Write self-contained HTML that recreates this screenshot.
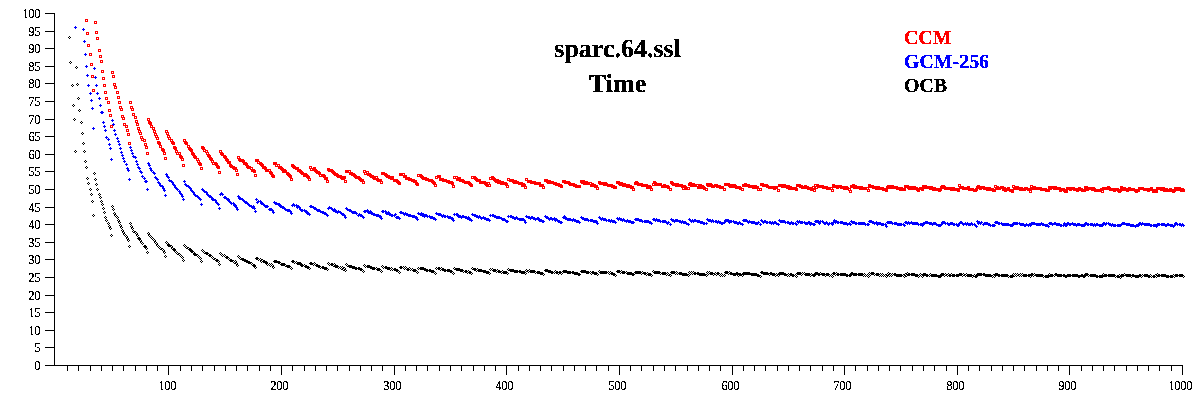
<!DOCTYPE html>
<html><head><meta charset="utf-8"><title>sparc.64.ssl Time</title>
<style>
html,body{margin:0;padding:0;background:#fff;}
body{width:1200px;height:400px;overflow:hidden;}
svg{display:block;}
.ax text{font-family:"Liberation Serif",serif;font-size:13.7px;text-rendering:geometricPrecision;fill:#000;stroke:#000;stroke-width:0.22px;}
.ttl{font-family:"Liberation Serif",serif;font-weight:bold;font-size:26px;fill:#000;stroke:#000;stroke-width:0.25px;text-rendering:geometricPrecision;}
.lg{font-family:"Liberation Serif",serif;font-weight:bold;font-size:19.9px;stroke-width:0.25px;text-rendering:geometricPrecision;}
</style></head><body>
<svg width="1200" height="400" viewBox="0 0 1200 400">
<defs><filter id="bin" filterUnits="userSpaceOnUse" x="0" y="0" width="1200" height="400" color-interpolation-filters="sRGB"><feComponentTransfer><feFuncA type="discrete" tableValues="0 1"/></feComponentTransfer></filter></defs>
<rect width="1200" height="400" fill="#fff"/>
<path d="M54 13h1v353h-1zM45 365h1138v1h-1138zM45 347h9v1h-9zM45 330h9v1h-9zM45 312h9v1h-9zM45 295h9v1h-9zM45 277h9v1h-9zM45 259h9v1h-9zM45 242h9v1h-9zM45 224h9v1h-9zM45 207h9v1h-9zM45 189h9v1h-9zM45 171h9v1h-9zM45 154h9v1h-9zM45 136h9v1h-9zM45 119h9v1h-9zM45 101h9v1h-9zM45 83h9v1h-9zM45 66h9v1h-9zM45 48h9v1h-9zM45 31h9v1h-9zM45 13h9v1h-9zM67 365h1v6h-1zM78 365h1v6h-1zM90 365h1v6h-1zM101 365h1v6h-1zM112 365h1v6h-1zM123 365h1v6h-1zM135 365h1v6h-1zM146 365h1v6h-1zM157 365h1v6h-1zM168 365h1v10h-1zM180 365h1v6h-1zM191 365h1v6h-1zM202 365h1v6h-1zM214 365h1v6h-1zM225 365h1v6h-1zM236 365h1v6h-1zM247 365h1v6h-1zM259 365h1v6h-1zM270 365h1v6h-1zM281 365h1v10h-1zM292 365h1v6h-1zM304 365h1v6h-1zM315 365h1v6h-1zM326 365h1v6h-1zM337 365h1v6h-1zM349 365h1v6h-1zM360 365h1v6h-1zM371 365h1v6h-1zM382 365h1v6h-1zM394 365h1v10h-1zM405 365h1v6h-1zM416 365h1v6h-1zM427 365h1v6h-1zM439 365h1v6h-1zM450 365h1v6h-1zM461 365h1v6h-1zM473 365h1v6h-1zM484 365h1v6h-1zM495 365h1v6h-1zM506 365h1v10h-1zM518 365h1v6h-1zM529 365h1v6h-1zM540 365h1v6h-1zM551 365h1v6h-1zM563 365h1v6h-1zM574 365h1v6h-1zM585 365h1v6h-1zM596 365h1v6h-1zM608 365h1v6h-1zM619 365h1v10h-1zM630 365h1v6h-1zM641 365h1v6h-1zM653 365h1v6h-1zM664 365h1v6h-1zM675 365h1v6h-1zM687 365h1v6h-1zM698 365h1v6h-1zM709 365h1v6h-1zM720 365h1v6h-1zM732 365h1v10h-1zM743 365h1v6h-1zM754 365h1v6h-1zM765 365h1v6h-1zM777 365h1v6h-1zM788 365h1v6h-1zM799 365h1v6h-1zM810 365h1v6h-1zM822 365h1v6h-1zM833 365h1v6h-1zM844 365h1v10h-1zM855 365h1v6h-1zM867 365h1v6h-1zM878 365h1v6h-1zM889 365h1v6h-1zM900 365h1v6h-1zM912 365h1v6h-1zM923 365h1v6h-1zM934 365h1v6h-1zM946 365h1v6h-1zM957 365h1v10h-1zM968 365h1v6h-1zM979 365h1v6h-1zM991 365h1v6h-1zM1002 365h1v6h-1zM1013 365h1v6h-1zM1024 365h1v6h-1zM1036 365h1v6h-1zM1047 365h1v6h-1zM1058 365h1v6h-1zM1069 365h1v10h-1zM1081 365h1v6h-1zM1092 365h1v6h-1zM1103 365h1v6h-1zM1114 365h1v6h-1zM1126 365h1v6h-1zM1137 365h1v6h-1zM1148 365h1v6h-1zM1159 365h1v6h-1zM1171 365h1v6h-1zM1182 365h1v10h-1z" fill="#000" shape-rendering="crispEdges"/>
<g class="ax" filter="url(#bin)">
<text transform="translate(34.58 370) scale(0.8759 1)">0</text><text transform="translate(34.58 352) scale(0.8759 1)">5</text><text transform="translate(28.58 335) scale(0.8759 1)">10</text><text transform="translate(28.58 317) scale(0.8759 1)">15</text><text transform="translate(28.58 300) scale(0.8759 1)">20</text><text transform="translate(28.58 282) scale(0.8759 1)">25</text><text transform="translate(28.58 264) scale(0.8759 1)">30</text><text transform="translate(28.58 247) scale(0.8759 1)">35</text><text transform="translate(28.58 229) scale(0.8759 1)">40</text><text transform="translate(28.58 212) scale(0.8759 1)">45</text><text transform="translate(28.58 194) scale(0.8759 1)">50</text><text transform="translate(28.58 176) scale(0.8759 1)">55</text><text transform="translate(28.58 159) scale(0.8759 1)">60</text><text transform="translate(28.58 141) scale(0.8759 1)">65</text><text transform="translate(28.58 124) scale(0.8759 1)">70</text><text transform="translate(28.58 106) scale(0.8759 1)">75</text><text transform="translate(28.58 88) scale(0.8759 1)">80</text><text transform="translate(28.58 71) scale(0.8759 1)">85</text><text transform="translate(28.58 53) scale(0.8759 1)">90</text><text transform="translate(28.58 36) scale(0.8759 1)">95</text><text transform="translate(22.58 18) scale(0.8759 1)">100</text>
<text transform="translate(158.58 390) scale(0.8759 1)">100</text><text transform="translate(270.58 390) scale(0.8759 1)">200</text><text transform="translate(383.58 390) scale(0.8759 1)">300</text><text transform="translate(495.58 390) scale(0.8759 1)">400</text><text transform="translate(608.58 390) scale(0.8759 1)">500</text><text transform="translate(721.58 390) scale(0.8759 1)">600</text><text transform="translate(833.58 390) scale(0.8759 1)">700</text><text transform="translate(946.58 390) scale(0.8759 1)">800</text><text transform="translate(1058.58 390) scale(0.8759 1)">900</text><text transform="translate(1168.58 390) scale(0.8759 1)">1000</text>
</g>
<path d="M69 36h1v1h-1zM68 37h1v1h-1zM70 37h1v1h-1zM69 38h1v1h-1zM70 61h1v1h-1zM69 62h1v1h-1zM71 62h1v1h-1zM70 63h1v1h-1zM72 84h1v1h-1zM71 85h1v1h-1zM73 85h1v1h-1zM72 86h1v1h-1zM73 104h1v1h-1zM72 105h1v1h-1zM74 105h1v1h-1zM73 106h1v1h-1zM74 118h1v1h-1zM73 119h1v1h-1zM75 119h1v1h-1zM74 120h1v1h-1zM75 150h1v1h-1zM74 151h1v1h-1zM76 151h1v1h-1zM75 152h1v1h-1zM76 66h1v1h-1zM75 67h1v1h-1zM77 67h1v1h-1zM76 68h1v1h-1zM77 83h1v1h-1zM76 84h1v1h-1zM78 84h1v1h-1zM77 85h1v1h-1zM78 97h1v1h-1zM77 98h1v1h-1zM79 98h1v1h-1zM78 99h1v1h-1zM79 109h1v1h-1zM78 110h1v1h-1zM80 110h1v1h-1zM79 111h1v1h-1zM81 121h1v1h-1zM80 122h1v1h-1zM82 122h1v1h-1zM81 123h1v1h-1zM82 132h1v1h-1zM81 133h1v1h-1zM83 133h1v1h-1zM82 134h1v1h-1zM83 142h1v1h-1zM82 143h1v1h-1zM84 143h1v1h-1zM83 144h1v1h-1zM84 150h1v1h-1zM83 151h1v1h-1zM85 151h1v1h-1zM84 152h1v1h-1zM85 160h1v1h-1zM84 161h1v1h-1zM86 161h1v1h-1zM85 162h1v1h-1zM86 166h1v1h-1zM85 167h1v1h-1zM87 167h1v1h-1zM86 168h1v1h-1zM87 177h1v1h-1zM86 178h1v1h-1zM88 178h1v1h-1zM87 179h1v1h-1zM88 182h1v1h-1zM87 183h1v1h-1zM89 183h1v1h-1zM88 184h1v1h-1zM90 188h1v1h-1zM89 189h1v1h-1zM91 189h1v1h-1zM90 190h1v1h-1zM91 193h1v1h-1zM90 194h1v1h-1zM92 194h1v1h-1zM91 195h1v1h-1zM92 200h1v1h-1zM91 201h1v1h-1zM93 201h1v1h-1zM92 202h1v1h-1zM93 214h1v1h-1zM92 215h1v1h-1zM94 215h1v1h-1zM93 216h1v1h-1zM94 172h1v1h-1zM93 173h1v1h-1zM95 173h1v1h-1zM94 174h1v1h-1zM95 178h1v1h-1zM94 179h1v1h-1zM96 179h1v1h-1zM95 180h1v1h-1zM96 183h1v1h-1zM95 184h1v1h-1zM97 184h1v1h-1zM96 185h1v1h-1zM97 188h1v1h-1zM96 189h1v1h-1zM98 189h1v1h-1zM97 190h1v1h-1zM99 193h1v1h-1zM98 194h1v1h-1zM100 194h1v1h-1zM99 195h1v1h-1zM100 196h1v1h-1zM99 197h1v1h-1zM101 197h1v1h-1zM100 198h1v1h-1zM101 200h1v1h-1zM100 201h1v1h-1zM102 201h1v1h-1zM101 202h1v1h-1zM102 203h1v1h-1zM101 204h1v1h-1zM103 204h1v1h-1zM102 205h1v1h-1zM103 207h1v1h-1zM102 208h1v1h-1zM104 208h1v1h-1zM103 209h1v1h-1zM104 211h1v1h-1zM103 212h1v1h-1zM105 212h1v1h-1zM104 213h1v1h-1zM105 216h1v1h-1zM104 217h1v1h-1zM106 217h1v1h-1zM105 218h1v1h-1zM106 219h1v1h-1zM105 220h1v1h-1zM107 220h1v1h-1zM106 221h1v1h-1zM108 222h1v1h-1zM107 223h1v1h-1zM109 223h1v1h-1zM108 224h1v1h-1zM109 225h1v1h-1zM108 226h1v1h-1zM110 226h1v1h-1zM109 227h1v1h-1zM110 227h1v1h-1zM109 228h1v1h-1zM111 228h1v1h-1zM110 229h1v1h-1zM111 234h1v1h-1zM110 235h1v1h-1zM112 235h1v1h-1zM111 236h1v1h-1zM112 205h1v1h-1zM111 206h1v1h-1zM113 206h1v1h-1zM112 207h1v1h-1zM113 208h1v1h-1zM112 209h1v1h-1zM114 209h1v1h-1zM113 210h1v1h-1zM114 212h1v1h-1zM113 213h1v1h-1zM115 213h1v1h-1zM114 214h1v1h-1zM115 214h1v1h-1zM114 215h1v1h-1zM116 215h1v1h-1zM115 216h1v1h-1zM117 216h1v1h-1zM116 217h1v1h-1zM118 217h1v1h-1zM117 218h1v1h-1zM118 219h1v1h-1zM117 220h1v1h-1zM119 220h1v1h-1zM118 221h1v1h-1zM119 221h1v1h-1zM118 222h1v1h-1zM120 222h1v1h-1zM119 223h1v1h-1zM120 224h1v1h-1zM119 225h1v1h-1zM121 225h1v1h-1zM120 226h1v1h-1zM121 226h1v1h-1zM120 227h1v1h-1zM122 227h1v1h-1zM121 228h1v1h-1zM122 229h1v1h-1zM121 230h1v1h-1zM123 230h1v1h-1zM122 231h1v1h-1zM123 231h1v1h-1zM122 232h1v1h-1zM124 232h1v1h-1zM123 233h1v1h-1zM124 233h1v1h-1zM123 234h1v1h-1zM125 234h1v1h-1zM124 235h1v1h-1zM126 235h1v1h-1zM125 236h1v1h-1zM127 236h1v1h-1zM126 237h1v1h-1zM127 237h1v1h-1zM126 238h1v1h-1zM128 238h1v1h-1zM127 239h1v1h-1zM128 239h1v1h-1zM127 240h1v1h-1zM129 240h1v1h-1zM128 241h1v1h-1zM129 245h1v1h-1zM128 246h1v1h-1zM130 246h1v1h-1zM129 247h1v1h-1zM130 222h1v1h-1zM129 223h1v1h-1zM131 223h1v1h-1zM130 224h1v1h-1zM131 225h1v1h-1zM130 226h1v1h-1zM132 226h1v1h-1zM131 227h1v1h-1zM132 227h1v1h-1zM131 228h1v1h-1zM133 228h1v1h-1zM132 229h1v1h-1zM133 230h1v1h-1zM132 231h1v1h-1zM134 231h1v1h-1zM133 232h1v1h-1zM135 231h1v1h-1zM134 232h1v1h-1zM136 232h1v1h-1zM135 233h1v1h-1zM136 232h1v1h-1zM135 233h1v1h-1zM137 233h1v1h-1zM136 234h1v1h-1zM137 234h1v1h-1zM136 235h1v1h-1zM138 235h1v1h-1zM137 236h1v1h-1zM138 237h1v1h-1zM137 238h1v1h-1zM139 238h1v1h-1zM138 239h1v1h-1zM139 237h1v1h-1zM138 238h1v1h-1zM140 238h1v1h-1zM139 239h1v1h-1zM140 239h1v1h-1zM139 240h1v1h-1zM141 240h1v1h-1zM140 241h1v1h-1zM141 241h1v1h-1zM140 242h1v1h-1zM142 242h1v1h-1zM141 243h1v1h-1zM142 242h1v1h-1zM141 243h1v1h-1zM143 243h1v1h-1zM142 244h1v1h-1zM144 245h1v1h-1zM143 246h1v1h-1zM145 246h1v1h-1zM144 247h1v1h-1zM145 245h1v1h-1zM144 246h1v1h-1zM146 246h1v1h-1zM145 247h1v1h-1zM146 247h1v1h-1zM145 248h1v1h-1zM147 248h1v1h-1zM146 249h1v1h-1zM147 251h1v1h-1zM146 252h1v1h-1zM148 252h1v1h-1zM147 253h1v1h-1zM148 232h1v1h-1zM147 233h1v1h-1zM149 233h1v1h-1zM148 234h1v1h-1zM149 234h1v1h-1zM148 235h1v1h-1zM150 235h1v1h-1zM149 236h1v1h-1zM150 235h1v1h-1zM149 236h1v1h-1zM151 236h1v1h-1zM150 237h1v1h-1zM151 236h1v1h-1zM150 237h1v1h-1zM152 237h1v1h-1zM151 238h1v1h-1zM153 238h1v1h-1zM152 239h1v1h-1zM154 239h1v1h-1zM153 240h1v1h-1zM154 239h1v1h-1zM153 240h1v1h-1zM155 240h1v1h-1zM154 241h1v1h-1zM155 241h1v1h-1zM154 242h1v1h-1zM156 242h1v1h-1zM155 243h1v1h-1zM156 242h1v1h-1zM155 243h1v1h-1zM157 243h1v1h-1zM156 244h1v1h-1zM157 244h1v1h-1zM156 245h1v1h-1zM158 245h1v1h-1zM157 246h1v1h-1zM158 245h1v1h-1zM157 246h1v1h-1zM159 246h1v1h-1zM158 247h1v1h-1zM159 246h1v1h-1zM158 247h1v1h-1zM160 247h1v1h-1zM159 248h1v1h-1zM160 247h1v1h-1zM159 248h1v1h-1zM161 248h1v1h-1zM160 249h1v1h-1zM162 248h1v1h-1zM161 249h1v1h-1zM163 249h1v1h-1zM162 250h1v1h-1zM163 249h1v1h-1zM162 250h1v1h-1zM164 250h1v1h-1zM163 251h1v1h-1zM164 251h1v1h-1zM163 252h1v1h-1zM165 252h1v1h-1zM164 253h1v1h-1zM165 255h1v1h-1zM164 256h1v1h-1zM166 256h1v1h-1zM165 257h1v1h-1zM166 241h1v1h-1zM165 242h1v1h-1zM167 242h1v1h-1zM166 243h1v1h-1zM167 242h1v1h-1zM166 243h1v1h-1zM168 243h1v1h-1zM167 244h1v1h-1zM168 244h1v1h-1zM167 245h1v1h-1zM169 245h1v1h-1zM168 246h1v1h-1zM169 244h1v1h-1zM168 245h1v1h-1zM170 245h1v1h-1zM169 246h1v1h-1zM171 245h1v1h-1zM170 246h1v1h-1zM172 246h1v1h-1zM171 247h1v1h-1zM172 247h1v1h-1zM171 248h1v1h-1zM173 248h1v1h-1zM172 249h1v1h-1zM173 248h1v1h-1zM172 249h1v1h-1zM174 249h1v1h-1zM173 250h1v1h-1zM174 248h1v1h-1zM173 249h1v1h-1zM175 249h1v1h-1zM174 250h1v1h-1zM175 250h1v1h-1zM174 251h1v1h-1zM176 251h1v1h-1zM175 252h1v1h-1zM176 251h1v1h-1zM175 252h1v1h-1zM177 252h1v1h-1zM176 253h1v1h-1zM177 252h1v1h-1zM176 253h1v1h-1zM178 253h1v1h-1zM177 254h1v1h-1zM179 253h1v1h-1zM178 254h1v1h-1zM180 254h1v1h-1zM179 255h1v1h-1zM180 254h1v1h-1zM179 255h1v1h-1zM181 255h1v1h-1zM180 256h1v1h-1zM181 255h1v1h-1zM180 256h1v1h-1zM182 256h1v1h-1zM181 257h1v1h-1zM182 256h1v1h-1zM181 257h1v1h-1zM183 257h1v1h-1zM182 258h1v1h-1zM183 259h1v1h-1zM182 260h1v1h-1zM184 260h1v1h-1zM183 261h1v1h-1zM184 244h1v1h-1zM183 245h1v1h-1zM185 245h1v1h-1zM184 246h1v1h-1zM185 245h1v1h-1zM184 246h1v1h-1zM186 246h1v1h-1zM185 247h1v1h-1zM186 246h1v1h-1zM185 247h1v1h-1zM187 247h1v1h-1zM186 248h1v1h-1zM188 247h1v1h-1zM187 248h1v1h-1zM189 248h1v1h-1zM188 249h1v1h-1zM189 248h1v1h-1zM188 249h1v1h-1zM190 249h1v1h-1zM189 250h1v1h-1zM190 248h1v1h-1zM189 249h1v1h-1zM191 249h1v1h-1zM190 250h1v1h-1zM191 250h1v1h-1zM190 251h1v1h-1zM192 251h1v1h-1zM191 252h1v1h-1zM192 250h1v1h-1zM191 251h1v1h-1zM193 251h1v1h-1zM192 252h1v1h-1zM193 251h1v1h-1zM192 252h1v1h-1zM194 252h1v1h-1zM193 253h1v1h-1zM194 253h1v1h-1zM193 254h1v1h-1zM195 254h1v1h-1zM194 255h1v1h-1zM195 253h1v1h-1zM194 254h1v1h-1zM196 254h1v1h-1zM195 255h1v1h-1zM197 254h1v1h-1zM196 255h1v1h-1zM198 255h1v1h-1zM197 256h1v1h-1zM198 255h1v1h-1zM197 256h1v1h-1zM199 256h1v1h-1zM198 257h1v1h-1zM199 256h1v1h-1zM198 257h1v1h-1zM200 257h1v1h-1zM199 258h1v1h-1zM200 257h1v1h-1zM199 258h1v1h-1zM201 258h1v1h-1zM200 259h1v1h-1zM201 260h1v1h-1zM200 261h1v1h-1zM202 261h1v1h-1zM201 262h1v1h-1zM202 249h1v1h-1zM201 250h1v1h-1zM203 250h1v1h-1zM202 251h1v1h-1zM203 250h1v1h-1zM202 251h1v1h-1zM204 251h1v1h-1zM203 252h1v1h-1zM204 251h1v1h-1zM203 252h1v1h-1zM205 252h1v1h-1zM204 253h1v1h-1zM206 252h1v1h-1zM205 253h1v1h-1zM207 253h1v1h-1zM206 254h1v1h-1zM207 252h1v1h-1zM206 253h1v1h-1zM208 253h1v1h-1zM207 254h1v1h-1zM208 253h1v1h-1zM207 254h1v1h-1zM209 254h1v1h-1zM208 255h1v1h-1zM209 254h1v1h-1zM208 255h1v1h-1zM210 255h1v1h-1zM209 256h1v1h-1zM210 254h1v1h-1zM209 255h1v1h-1zM211 255h1v1h-1zM210 256h1v1h-1zM211 255h1v1h-1zM210 256h1v1h-1zM212 256h1v1h-1zM211 257h1v1h-1zM212 256h1v1h-1zM211 257h1v1h-1zM213 257h1v1h-1zM212 258h1v1h-1zM213 257h1v1h-1zM212 258h1v1h-1zM214 258h1v1h-1zM213 259h1v1h-1zM215 258h1v1h-1zM214 259h1v1h-1zM216 259h1v1h-1zM215 260h1v1h-1zM216 259h1v1h-1zM215 260h1v1h-1zM217 260h1v1h-1zM216 261h1v1h-1zM217 259h1v1h-1zM216 260h1v1h-1zM218 260h1v1h-1zM217 261h1v1h-1zM218 260h1v1h-1zM217 261h1v1h-1zM219 261h1v1h-1zM218 262h1v1h-1zM219 263h1v1h-1zM218 264h1v1h-1zM220 264h1v1h-1zM219 265h1v1h-1zM220 252h1v1h-1zM219 253h1v1h-1zM221 253h1v1h-1zM220 254h1v1h-1zM221 253h1v1h-1zM220 254h1v1h-1zM222 254h1v1h-1zM221 255h1v1h-1zM222 254h1v1h-1zM221 255h1v1h-1zM223 255h1v1h-1zM222 256h1v1h-1zM224 254h1v1h-1zM223 255h1v1h-1zM225 255h1v1h-1zM224 256h1v1h-1zM225 255h1v1h-1zM224 256h1v1h-1zM226 256h1v1h-1zM225 257h1v1h-1zM226 256h1v1h-1zM225 257h1v1h-1zM227 257h1v1h-1zM226 258h1v1h-1zM227 256h1v1h-1zM226 257h1v1h-1zM228 257h1v1h-1zM227 258h1v1h-1zM228 257h1v1h-1zM227 258h1v1h-1zM229 258h1v1h-1zM228 259h1v1h-1zM229 258h1v1h-1zM228 259h1v1h-1zM230 259h1v1h-1zM229 260h1v1h-1zM230 259h1v1h-1zM229 260h1v1h-1zM231 260h1v1h-1zM230 261h1v1h-1zM231 259h1v1h-1zM230 260h1v1h-1zM232 260h1v1h-1zM231 261h1v1h-1zM233 260h1v1h-1zM232 261h1v1h-1zM234 261h1v1h-1zM233 262h1v1h-1zM234 261h1v1h-1zM233 262h1v1h-1zM235 262h1v1h-1zM234 263h1v1h-1zM235 260h1v1h-1zM234 261h1v1h-1zM236 261h1v1h-1zM235 262h1v1h-1zM236 262h1v1h-1zM235 263h1v1h-1zM237 263h1v1h-1zM236 264h1v1h-1zM237 264h1v1h-1zM236 265h1v1h-1zM238 265h1v1h-1zM237 266h1v1h-1zM238 255h1v1h-1zM237 256h1v1h-1zM239 256h1v1h-1zM238 257h1v1h-1zM239 256h1v1h-1zM238 257h1v1h-1zM240 257h1v1h-1zM239 258h1v1h-1zM240 257h1v1h-1zM239 258h1v1h-1zM241 258h1v1h-1zM240 259h1v1h-1zM242 258h1v1h-1zM241 259h1v1h-1zM243 259h1v1h-1zM242 260h1v1h-1zM243 258h1v1h-1zM242 259h1v1h-1zM244 259h1v1h-1zM243 260h1v1h-1zM244 259h1v1h-1zM243 260h1v1h-1zM245 260h1v1h-1zM244 261h1v1h-1zM245 259h1v1h-1zM244 260h1v1h-1zM246 260h1v1h-1zM245 261h1v1h-1zM246 260h1v1h-1zM245 261h1v1h-1zM247 261h1v1h-1zM246 262h1v1h-1zM247 260h1v1h-1zM246 261h1v1h-1zM248 261h1v1h-1zM247 262h1v1h-1zM248 261h1v1h-1zM247 262h1v1h-1zM249 262h1v1h-1zM248 263h1v1h-1zM249 261h1v1h-1zM248 262h1v1h-1zM250 262h1v1h-1zM249 263h1v1h-1zM251 262h1v1h-1zM250 263h1v1h-1zM252 263h1v1h-1zM251 264h1v1h-1zM252 263h1v1h-1zM251 264h1v1h-1zM253 264h1v1h-1zM252 265h1v1h-1zM253 264h1v1h-1zM252 265h1v1h-1zM254 265h1v1h-1zM253 266h1v1h-1zM254 264h1v1h-1zM253 265h1v1h-1zM255 265h1v1h-1zM254 266h1v1h-1zM255 266h1v1h-1zM254 267h1v1h-1zM256 267h1v1h-1zM255 268h1v1h-1zM256 257h1v1h-1zM255 258h1v1h-1zM257 258h1v1h-1zM256 259h1v1h-1zM257 257h1v1h-1zM256 258h1v1h-1zM258 258h1v1h-1zM257 259h1v1h-1zM258 258h1v1h-1zM257 259h1v1h-1zM259 259h1v1h-1zM258 260h1v1h-1zM260 258h1v1h-1zM259 259h1v1h-1zM261 259h1v1h-1zM260 260h1v1h-1zM261 260h1v1h-1zM260 261h1v1h-1zM262 261h1v1h-1zM261 262h1v1h-1zM262 259h1v1h-1zM261 260h1v1h-1zM263 260h1v1h-1zM262 261h1v1h-1zM263 260h1v1h-1zM262 261h1v1h-1zM264 261h1v1h-1zM263 262h1v1h-1zM264 260h1v1h-1zM263 261h1v1h-1zM265 261h1v1h-1zM264 262h1v1h-1zM265 261h1v1h-1zM264 262h1v1h-1zM266 262h1v1h-1zM265 263h1v1h-1zM266 261h1v1h-1zM265 262h1v1h-1zM267 262h1v1h-1zM266 263h1v1h-1zM267 263h1v1h-1zM266 264h1v1h-1zM268 264h1v1h-1zM267 265h1v1h-1zM269 263h1v1h-1zM268 264h1v1h-1zM270 264h1v1h-1zM269 265h1v1h-1zM270 264h1v1h-1zM269 265h1v1h-1zM271 265h1v1h-1zM270 266h1v1h-1zM271 263h1v1h-1zM270 264h1v1h-1zM272 264h1v1h-1zM271 265h1v1h-1zM272 264h1v1h-1zM271 265h1v1h-1zM273 265h1v1h-1zM272 266h1v1h-1zM273 266h1v1h-1zM272 267h1v1h-1zM274 267h1v1h-1zM273 268h1v1h-1zM274 260h1v1h-1zM273 261h1v1h-1zM275 261h1v1h-1zM274 262h1v1h-1zM275 260h1v1h-1zM274 261h1v1h-1zM276 261h1v1h-1zM275 262h1v1h-1zM276 260h1v1h-1zM275 261h1v1h-1zM277 261h1v1h-1zM276 262h1v1h-1zM278 261h1v1h-1zM277 262h1v1h-1zM279 262h1v1h-1zM278 263h1v1h-1zM279 261h1v1h-1zM278 262h1v1h-1zM280 262h1v1h-1zM279 263h1v1h-1zM280 262h1v1h-1zM279 263h1v1h-1zM281 263h1v1h-1zM280 264h1v1h-1zM281 263h1v1h-1zM280 264h1v1h-1zM282 264h1v1h-1zM281 265h1v1h-1zM282 263h1v1h-1zM281 264h1v1h-1zM283 264h1v1h-1zM282 265h1v1h-1zM283 263h1v1h-1zM282 264h1v1h-1zM284 264h1v1h-1zM283 265h1v1h-1zM284 263h1v1h-1zM283 264h1v1h-1zM285 264h1v1h-1zM284 265h1v1h-1zM285 264h1v1h-1zM284 265h1v1h-1zM286 265h1v1h-1zM285 266h1v1h-1zM287 265h1v1h-1zM286 266h1v1h-1zM288 266h1v1h-1zM287 267h1v1h-1zM288 265h1v1h-1zM287 266h1v1h-1zM289 266h1v1h-1zM288 267h1v1h-1zM289 265h1v1h-1zM288 266h1v1h-1zM290 266h1v1h-1zM289 267h1v1h-1zM290 266h1v1h-1zM289 267h1v1h-1zM291 267h1v1h-1zM290 268h1v1h-1zM291 267h1v1h-1zM290 268h1v1h-1zM292 268h1v1h-1zM291 269h1v1h-1zM292 260h1v1h-1zM291 261h1v1h-1zM293 261h1v1h-1zM292 262h1v1h-1zM293 260h1v1h-1zM292 261h1v1h-1zM294 261h1v1h-1zM293 262h1v1h-1zM294 261h1v1h-1zM293 262h1v1h-1zM295 262h1v1h-1zM294 263h1v1h-1zM296 261h1v1h-1zM295 262h1v1h-1zM297 262h1v1h-1zM296 263h1v1h-1zM297 262h1v1h-1zM296 263h1v1h-1zM298 263h1v1h-1zM297 264h1v1h-1zM298 262h1v1h-1zM297 263h1v1h-1zM299 263h1v1h-1zM298 264h1v1h-1zM299 262h1v1h-1zM298 263h1v1h-1zM300 263h1v1h-1zM299 264h1v1h-1zM300 262h1v1h-1zM299 263h1v1h-1zM301 263h1v1h-1zM300 264h1v1h-1zM301 264h1v1h-1zM300 265h1v1h-1zM302 265h1v1h-1zM301 266h1v1h-1zM302 264h1v1h-1zM301 265h1v1h-1zM303 265h1v1h-1zM302 266h1v1h-1zM304 264h1v1h-1zM303 265h1v1h-1zM305 265h1v1h-1zM304 266h1v1h-1zM305 265h1v1h-1zM304 266h1v1h-1zM306 266h1v1h-1zM305 267h1v1h-1zM306 265h1v1h-1zM305 266h1v1h-1zM307 266h1v1h-1zM306 267h1v1h-1zM307 266h1v1h-1zM306 267h1v1h-1zM308 267h1v1h-1zM307 268h1v1h-1zM308 266h1v1h-1zM307 267h1v1h-1zM309 267h1v1h-1zM308 268h1v1h-1zM309 267h1v1h-1zM308 268h1v1h-1zM310 268h1v1h-1zM309 269h1v1h-1zM310 262h1v1h-1zM309 263h1v1h-1zM311 263h1v1h-1zM310 264h1v1h-1zM311 262h1v1h-1zM310 263h1v1h-1zM312 263h1v1h-1zM311 264h1v1h-1zM313 263h1v1h-1zM312 264h1v1h-1zM314 264h1v1h-1zM313 265h1v1h-1zM314 262h1v1h-1zM313 263h1v1h-1zM315 263h1v1h-1zM314 264h1v1h-1zM315 263h1v1h-1zM314 264h1v1h-1zM316 264h1v1h-1zM315 265h1v1h-1zM316 264h1v1h-1zM315 265h1v1h-1zM317 265h1v1h-1zM316 266h1v1h-1zM317 264h1v1h-1zM316 265h1v1h-1zM318 265h1v1h-1zM317 266h1v1h-1zM318 265h1v1h-1zM317 266h1v1h-1zM319 266h1v1h-1zM318 267h1v1h-1zM319 265h1v1h-1zM318 266h1v1h-1zM320 266h1v1h-1zM319 267h1v1h-1zM320 266h1v1h-1zM319 267h1v1h-1zM321 267h1v1h-1zM320 268h1v1h-1zM322 266h1v1h-1zM321 267h1v1h-1zM323 267h1v1h-1zM322 268h1v1h-1zM323 266h1v1h-1zM322 267h1v1h-1zM324 267h1v1h-1zM323 268h1v1h-1zM324 267h1v1h-1zM323 268h1v1h-1zM325 268h1v1h-1zM324 269h1v1h-1zM325 267h1v1h-1zM324 268h1v1h-1zM326 268h1v1h-1zM325 269h1v1h-1zM326 267h1v1h-1zM325 268h1v1h-1zM327 268h1v1h-1zM326 269h1v1h-1zM327 268h1v1h-1zM326 269h1v1h-1zM328 269h1v1h-1zM327 270h1v1h-1zM328 262h1v1h-1zM327 263h1v1h-1zM329 263h1v1h-1zM328 264h1v1h-1zM329 263h1v1h-1zM328 264h1v1h-1zM330 264h1v1h-1zM329 265h1v1h-1zM331 263h1v1h-1zM330 264h1v1h-1zM332 264h1v1h-1zM331 265h1v1h-1zM332 263h1v1h-1zM331 264h1v1h-1zM333 264h1v1h-1zM332 265h1v1h-1zM333 264h1v1h-1zM332 265h1v1h-1zM334 265h1v1h-1zM333 266h1v1h-1zM334 263h1v1h-1zM333 264h1v1h-1zM335 264h1v1h-1zM334 265h1v1h-1zM335 265h1v1h-1zM334 266h1v1h-1zM336 266h1v1h-1zM335 267h1v1h-1zM336 265h1v1h-1zM335 266h1v1h-1zM337 266h1v1h-1zM336 267h1v1h-1zM337 265h1v1h-1zM336 266h1v1h-1zM338 266h1v1h-1zM337 267h1v1h-1zM338 266h1v1h-1zM337 267h1v1h-1zM339 267h1v1h-1zM338 268h1v1h-1zM340 266h1v1h-1zM339 267h1v1h-1zM341 267h1v1h-1zM340 268h1v1h-1zM341 267h1v1h-1zM340 268h1v1h-1zM342 268h1v1h-1zM341 269h1v1h-1zM342 266h1v1h-1zM341 267h1v1h-1zM343 267h1v1h-1zM342 268h1v1h-1zM343 268h1v1h-1zM342 269h1v1h-1zM344 269h1v1h-1zM343 270h1v1h-1zM344 267h1v1h-1zM343 268h1v1h-1zM345 268h1v1h-1zM344 269h1v1h-1zM345 269h1v1h-1zM344 270h1v1h-1zM346 270h1v1h-1zM345 271h1v1h-1zM346 263h1v1h-1zM345 264h1v1h-1zM347 264h1v1h-1zM346 265h1v1h-1zM347 264h1v1h-1zM346 265h1v1h-1zM348 265h1v1h-1zM347 266h1v1h-1zM349 265h1v1h-1zM348 266h1v1h-1zM350 266h1v1h-1zM349 267h1v1h-1zM350 265h1v1h-1zM349 266h1v1h-1zM351 266h1v1h-1zM350 267h1v1h-1zM351 265h1v1h-1zM350 266h1v1h-1zM352 266h1v1h-1zM351 267h1v1h-1zM352 266h1v1h-1zM351 267h1v1h-1zM353 267h1v1h-1zM352 268h1v1h-1zM353 266h1v1h-1zM352 267h1v1h-1zM354 267h1v1h-1zM353 268h1v1h-1zM354 266h1v1h-1zM353 267h1v1h-1zM355 267h1v1h-1zM354 268h1v1h-1zM355 267h1v1h-1zM354 268h1v1h-1zM356 268h1v1h-1zM355 269h1v1h-1zM356 267h1v1h-1zM355 268h1v1h-1zM357 268h1v1h-1zM356 269h1v1h-1zM358 267h1v1h-1zM357 268h1v1h-1zM359 268h1v1h-1zM358 269h1v1h-1zM359 267h1v1h-1zM358 268h1v1h-1zM360 268h1v1h-1zM359 269h1v1h-1zM360 268h1v1h-1zM359 269h1v1h-1zM361 269h1v1h-1zM360 270h1v1h-1zM361 268h1v1h-1zM360 269h1v1h-1zM362 269h1v1h-1zM361 270h1v1h-1zM362 269h1v1h-1zM361 270h1v1h-1zM363 270h1v1h-1zM362 271h1v1h-1zM363 270h1v1h-1zM362 271h1v1h-1zM364 271h1v1h-1zM363 272h1v1h-1zM364 264h1v1h-1zM363 265h1v1h-1zM365 265h1v1h-1zM364 266h1v1h-1zM365 265h1v1h-1zM364 266h1v1h-1zM366 266h1v1h-1zM365 267h1v1h-1zM367 265h1v1h-1zM366 266h1v1h-1zM368 266h1v1h-1zM367 267h1v1h-1zM368 265h1v1h-1zM367 266h1v1h-1zM369 266h1v1h-1zM368 267h1v1h-1zM369 265h1v1h-1zM368 266h1v1h-1zM370 266h1v1h-1zM369 267h1v1h-1zM370 266h1v1h-1zM369 267h1v1h-1zM371 267h1v1h-1zM370 268h1v1h-1zM371 266h1v1h-1zM370 267h1v1h-1zM372 267h1v1h-1zM371 268h1v1h-1zM372 267h1v1h-1zM371 268h1v1h-1zM373 268h1v1h-1zM372 269h1v1h-1zM373 267h1v1h-1zM372 268h1v1h-1zM374 268h1v1h-1zM373 269h1v1h-1zM374 267h1v1h-1zM373 268h1v1h-1zM375 268h1v1h-1zM374 269h1v1h-1zM376 267h1v1h-1zM375 268h1v1h-1zM377 268h1v1h-1zM376 269h1v1h-1zM377 268h1v1h-1zM376 269h1v1h-1zM378 269h1v1h-1zM377 270h1v1h-1zM378 268h1v1h-1zM377 269h1v1h-1zM379 269h1v1h-1zM378 270h1v1h-1zM379 268h1v1h-1zM378 269h1v1h-1zM380 269h1v1h-1zM379 270h1v1h-1zM380 269h1v1h-1zM379 270h1v1h-1zM381 270h1v1h-1zM380 271h1v1h-1zM381 270h1v1h-1zM380 271h1v1h-1zM382 271h1v1h-1zM381 272h1v1h-1zM382 265h1v1h-1zM381 266h1v1h-1zM383 266h1v1h-1zM382 267h1v1h-1zM383 266h1v1h-1zM382 267h1v1h-1zM384 267h1v1h-1zM383 268h1v1h-1zM385 266h1v1h-1zM384 267h1v1h-1zM386 267h1v1h-1zM385 268h1v1h-1zM386 266h1v1h-1zM385 267h1v1h-1zM387 267h1v1h-1zM386 268h1v1h-1zM387 267h1v1h-1zM386 268h1v1h-1zM388 268h1v1h-1zM387 269h1v1h-1zM388 267h1v1h-1zM387 268h1v1h-1zM389 268h1v1h-1zM388 269h1v1h-1zM389 267h1v1h-1zM388 268h1v1h-1zM390 268h1v1h-1zM389 269h1v1h-1zM390 268h1v1h-1zM389 269h1v1h-1zM391 269h1v1h-1zM390 270h1v1h-1zM391 267h1v1h-1zM390 268h1v1h-1zM392 268h1v1h-1zM391 269h1v1h-1zM392 268h1v1h-1zM391 269h1v1h-1zM393 269h1v1h-1zM392 270h1v1h-1zM394 268h1v1h-1zM393 269h1v1h-1zM395 269h1v1h-1zM394 270h1v1h-1zM395 268h1v1h-1zM394 269h1v1h-1zM396 269h1v1h-1zM395 270h1v1h-1zM396 269h1v1h-1zM395 270h1v1h-1zM397 270h1v1h-1zM396 271h1v1h-1zM397 269h1v1h-1zM396 270h1v1h-1zM398 270h1v1h-1zM397 271h1v1h-1zM398 270h1v1h-1zM397 271h1v1h-1zM399 271h1v1h-1zM398 272h1v1h-1zM399 271h1v1h-1zM398 272h1v1h-1zM400 272h1v1h-1zM399 273h1v1h-1zM400 266h1v1h-1zM399 267h1v1h-1zM401 267h1v1h-1zM400 268h1v1h-1zM401 266h1v1h-1zM400 267h1v1h-1zM402 267h1v1h-1zM401 268h1v1h-1zM403 266h1v1h-1zM402 267h1v1h-1zM404 267h1v1h-1zM403 268h1v1h-1zM404 267h1v1h-1zM403 268h1v1h-1zM405 268h1v1h-1zM404 269h1v1h-1zM405 266h1v1h-1zM404 267h1v1h-1zM406 267h1v1h-1zM405 268h1v1h-1zM406 267h1v1h-1zM405 268h1v1h-1zM407 268h1v1h-1zM406 269h1v1h-1zM407 268h1v1h-1zM406 269h1v1h-1zM408 269h1v1h-1zM407 270h1v1h-1zM408 268h1v1h-1zM407 269h1v1h-1zM409 269h1v1h-1zM408 270h1v1h-1zM409 267h1v1h-1zM408 268h1v1h-1zM410 268h1v1h-1zM409 269h1v1h-1zM410 268h1v1h-1zM409 269h1v1h-1zM411 269h1v1h-1zM410 270h1v1h-1zM412 268h1v1h-1zM411 269h1v1h-1zM413 269h1v1h-1zM412 270h1v1h-1zM413 269h1v1h-1zM412 270h1v1h-1zM414 270h1v1h-1zM413 271h1v1h-1zM414 269h1v1h-1zM413 270h1v1h-1zM415 270h1v1h-1zM414 271h1v1h-1zM415 269h1v1h-1zM414 270h1v1h-1zM416 270h1v1h-1zM415 271h1v1h-1zM416 270h1v1h-1zM415 271h1v1h-1zM417 271h1v1h-1zM416 272h1v1h-1zM417 271h1v1h-1zM416 272h1v1h-1zM418 272h1v1h-1zM417 273h1v1h-1zM418 267h1v1h-1zM417 268h1v1h-1zM419 268h1v1h-1zM418 269h1v1h-1zM420 267h1v1h-1zM419 268h1v1h-1zM421 268h1v1h-1zM420 269h1v1h-1zM421 267h1v1h-1zM420 268h1v1h-1zM422 268h1v1h-1zM421 269h1v1h-1zM422 267h1v1h-1zM421 268h1v1h-1zM423 268h1v1h-1zM422 269h1v1h-1zM423 267h1v1h-1zM422 268h1v1h-1zM424 268h1v1h-1zM423 269h1v1h-1zM424 268h1v1h-1zM423 269h1v1h-1zM425 269h1v1h-1zM424 270h1v1h-1zM425 268h1v1h-1zM424 269h1v1h-1zM426 269h1v1h-1zM425 270h1v1h-1zM426 269h1v1h-1zM425 270h1v1h-1zM427 270h1v1h-1zM426 271h1v1h-1zM427 269h1v1h-1zM426 270h1v1h-1zM428 270h1v1h-1zM427 271h1v1h-1zM429 269h1v1h-1zM428 270h1v1h-1zM430 270h1v1h-1zM429 271h1v1h-1zM430 269h1v1h-1zM429 270h1v1h-1zM431 270h1v1h-1zM430 271h1v1h-1zM431 270h1v1h-1zM430 271h1v1h-1zM432 271h1v1h-1zM431 272h1v1h-1zM432 270h1v1h-1zM431 271h1v1h-1zM433 271h1v1h-1zM432 272h1v1h-1zM433 270h1v1h-1zM432 271h1v1h-1zM434 271h1v1h-1zM433 272h1v1h-1zM434 271h1v1h-1zM433 272h1v1h-1zM435 272h1v1h-1zM434 273h1v1h-1zM435 272h1v1h-1zM434 273h1v1h-1zM436 273h1v1h-1zM435 274h1v1h-1zM436 267h1v1h-1zM435 268h1v1h-1zM437 268h1v1h-1zM436 269h1v1h-1zM438 267h1v1h-1zM437 268h1v1h-1zM439 268h1v1h-1zM438 269h1v1h-1zM439 267h1v1h-1zM438 268h1v1h-1zM440 268h1v1h-1zM439 269h1v1h-1zM440 268h1v1h-1zM439 269h1v1h-1zM441 269h1v1h-1zM440 270h1v1h-1zM441 267h1v1h-1zM440 268h1v1h-1zM442 268h1v1h-1zM441 269h1v1h-1zM442 268h1v1h-1zM441 269h1v1h-1zM443 269h1v1h-1zM442 270h1v1h-1zM443 268h1v1h-1zM442 269h1v1h-1zM444 269h1v1h-1zM443 270h1v1h-1zM444 269h1v1h-1zM443 270h1v1h-1zM445 270h1v1h-1zM444 271h1v1h-1zM445 269h1v1h-1zM444 270h1v1h-1zM446 270h1v1h-1zM445 271h1v1h-1zM447 269h1v1h-1zM446 270h1v1h-1zM448 270h1v1h-1zM447 271h1v1h-1zM448 269h1v1h-1zM447 270h1v1h-1zM449 270h1v1h-1zM448 271h1v1h-1zM449 269h1v1h-1zM448 270h1v1h-1zM450 270h1v1h-1zM449 271h1v1h-1zM450 270h1v1h-1zM449 271h1v1h-1zM451 271h1v1h-1zM450 272h1v1h-1zM451 270h1v1h-1zM450 271h1v1h-1zM452 271h1v1h-1zM451 272h1v1h-1zM452 271h1v1h-1zM451 272h1v1h-1zM453 272h1v1h-1zM452 273h1v1h-1zM453 272h1v1h-1zM452 273h1v1h-1zM454 273h1v1h-1zM453 274h1v1h-1zM454 267h1v1h-1zM453 268h1v1h-1zM455 268h1v1h-1zM454 269h1v1h-1zM456 268h1v1h-1zM455 269h1v1h-1zM457 269h1v1h-1zM456 270h1v1h-1zM457 268h1v1h-1zM456 269h1v1h-1zM458 269h1v1h-1zM457 270h1v1h-1zM458 268h1v1h-1zM457 269h1v1h-1zM459 269h1v1h-1zM458 270h1v1h-1zM459 268h1v1h-1zM458 269h1v1h-1zM460 269h1v1h-1zM459 270h1v1h-1zM460 269h1v1h-1zM459 270h1v1h-1zM461 270h1v1h-1zM460 271h1v1h-1zM461 269h1v1h-1zM460 270h1v1h-1zM462 270h1v1h-1zM461 271h1v1h-1zM462 269h1v1h-1zM461 270h1v1h-1zM463 270h1v1h-1zM462 271h1v1h-1zM463 270h1v1h-1zM462 271h1v1h-1zM464 271h1v1h-1zM463 272h1v1h-1zM465 270h1v1h-1zM464 271h1v1h-1zM466 271h1v1h-1zM465 272h1v1h-1zM466 270h1v1h-1zM465 271h1v1h-1zM467 271h1v1h-1zM466 272h1v1h-1zM467 271h1v1h-1zM466 272h1v1h-1zM468 272h1v1h-1zM467 273h1v1h-1zM468 270h1v1h-1zM467 271h1v1h-1zM469 271h1v1h-1zM468 272h1v1h-1zM469 271h1v1h-1zM468 272h1v1h-1zM470 272h1v1h-1zM469 273h1v1h-1zM470 271h1v1h-1zM469 272h1v1h-1zM471 272h1v1h-1zM470 273h1v1h-1zM471 272h1v1h-1zM470 273h1v1h-1zM472 273h1v1h-1zM471 274h1v1h-1zM472 267h1v1h-1zM471 268h1v1h-1zM473 268h1v1h-1zM472 269h1v1h-1zM474 268h1v1h-1zM473 269h1v1h-1zM475 269h1v1h-1zM474 270h1v1h-1zM475 268h1v1h-1zM474 269h1v1h-1zM476 269h1v1h-1zM475 270h1v1h-1zM476 269h1v1h-1zM475 270h1v1h-1zM477 270h1v1h-1zM476 271h1v1h-1zM477 268h1v1h-1zM476 269h1v1h-1zM478 269h1v1h-1zM477 270h1v1h-1zM478 269h1v1h-1zM477 270h1v1h-1zM479 270h1v1h-1zM478 271h1v1h-1zM479 269h1v1h-1zM478 270h1v1h-1zM480 270h1v1h-1zM479 271h1v1h-1zM480 269h1v1h-1zM479 270h1v1h-1zM481 270h1v1h-1zM480 271h1v1h-1zM481 269h1v1h-1zM480 270h1v1h-1zM482 270h1v1h-1zM481 271h1v1h-1zM483 270h1v1h-1zM482 271h1v1h-1zM484 271h1v1h-1zM483 272h1v1h-1zM484 270h1v1h-1zM483 271h1v1h-1zM485 271h1v1h-1zM484 272h1v1h-1zM485 270h1v1h-1zM484 271h1v1h-1zM486 271h1v1h-1zM485 272h1v1h-1zM486 271h1v1h-1zM485 272h1v1h-1zM487 272h1v1h-1zM486 273h1v1h-1zM487 271h1v1h-1zM486 272h1v1h-1zM488 272h1v1h-1zM487 273h1v1h-1zM488 271h1v1h-1zM487 272h1v1h-1zM489 272h1v1h-1zM488 273h1v1h-1zM489 272h1v1h-1zM488 273h1v1h-1zM490 273h1v1h-1zM489 274h1v1h-1zM490 268h1v1h-1zM489 269h1v1h-1zM491 269h1v1h-1zM490 270h1v1h-1zM492 268h1v1h-1zM491 269h1v1h-1zM493 269h1v1h-1zM492 270h1v1h-1zM493 269h1v1h-1zM492 270h1v1h-1zM494 270h1v1h-1zM493 271h1v1h-1zM494 269h1v1h-1zM493 270h1v1h-1zM495 270h1v1h-1zM494 271h1v1h-1zM495 269h1v1h-1zM494 270h1v1h-1zM496 270h1v1h-1zM495 271h1v1h-1zM496 270h1v1h-1zM495 271h1v1h-1zM497 271h1v1h-1zM496 272h1v1h-1zM497 269h1v1h-1zM496 270h1v1h-1zM498 270h1v1h-1zM497 271h1v1h-1zM498 270h1v1h-1zM497 271h1v1h-1zM499 271h1v1h-1zM498 272h1v1h-1zM499 270h1v1h-1zM498 271h1v1h-1zM500 271h1v1h-1zM499 272h1v1h-1zM501 271h1v1h-1zM500 272h1v1h-1zM502 272h1v1h-1zM501 273h1v1h-1zM502 270h1v1h-1zM501 271h1v1h-1zM503 271h1v1h-1zM502 272h1v1h-1zM503 271h1v1h-1zM502 272h1v1h-1zM504 272h1v1h-1zM503 273h1v1h-1zM504 271h1v1h-1zM503 272h1v1h-1zM505 272h1v1h-1zM504 273h1v1h-1zM505 271h1v1h-1zM504 272h1v1h-1zM506 272h1v1h-1zM505 273h1v1h-1zM506 271h1v1h-1zM505 272h1v1h-1zM507 272h1v1h-1zM506 273h1v1h-1zM507 272h1v1h-1zM506 273h1v1h-1zM508 273h1v1h-1zM507 274h1v1h-1zM508 268h1v1h-1zM507 269h1v1h-1zM509 269h1v1h-1zM508 270h1v1h-1zM510 269h1v1h-1zM509 270h1v1h-1zM511 270h1v1h-1zM510 271h1v1h-1zM511 269h1v1h-1zM510 270h1v1h-1zM512 270h1v1h-1zM511 271h1v1h-1zM512 269h1v1h-1zM511 270h1v1h-1zM513 270h1v1h-1zM512 271h1v1h-1zM513 269h1v1h-1zM512 270h1v1h-1zM514 270h1v1h-1zM513 271h1v1h-1zM514 270h1v1h-1zM513 271h1v1h-1zM515 271h1v1h-1zM514 272h1v1h-1zM515 270h1v1h-1zM514 271h1v1h-1zM516 271h1v1h-1zM515 272h1v1h-1zM516 270h1v1h-1zM515 271h1v1h-1zM517 271h1v1h-1zM516 272h1v1h-1zM517 270h1v1h-1zM516 271h1v1h-1zM518 271h1v1h-1zM517 272h1v1h-1zM519 270h1v1h-1zM518 271h1v1h-1zM520 271h1v1h-1zM519 272h1v1h-1zM520 270h1v1h-1zM519 271h1v1h-1zM521 271h1v1h-1zM520 272h1v1h-1zM521 271h1v1h-1zM520 272h1v1h-1zM522 272h1v1h-1zM521 273h1v1h-1zM522 271h1v1h-1zM521 272h1v1h-1zM523 272h1v1h-1zM522 273h1v1h-1zM523 271h1v1h-1zM522 272h1v1h-1zM524 272h1v1h-1zM523 273h1v1h-1zM524 271h1v1h-1zM523 272h1v1h-1zM525 272h1v1h-1zM524 273h1v1h-1zM525 272h1v1h-1zM524 273h1v1h-1zM526 273h1v1h-1zM525 274h1v1h-1zM526 269h1v1h-1zM525 270h1v1h-1zM527 270h1v1h-1zM526 271h1v1h-1zM528 270h1v1h-1zM527 271h1v1h-1zM529 271h1v1h-1zM528 272h1v1h-1zM529 269h1v1h-1zM528 270h1v1h-1zM530 270h1v1h-1zM529 271h1v1h-1zM530 270h1v1h-1zM529 271h1v1h-1zM531 271h1v1h-1zM530 272h1v1h-1zM531 270h1v1h-1zM530 271h1v1h-1zM532 271h1v1h-1zM531 272h1v1h-1zM532 270h1v1h-1zM531 271h1v1h-1zM533 271h1v1h-1zM532 272h1v1h-1zM533 270h1v1h-1zM532 271h1v1h-1zM534 271h1v1h-1zM533 272h1v1h-1zM534 270h1v1h-1zM533 271h1v1h-1zM535 271h1v1h-1zM534 272h1v1h-1zM535 271h1v1h-1zM534 272h1v1h-1zM536 272h1v1h-1zM535 273h1v1h-1zM537 271h1v1h-1zM536 272h1v1h-1zM538 272h1v1h-1zM537 273h1v1h-1zM538 271h1v1h-1zM537 272h1v1h-1zM539 272h1v1h-1zM538 273h1v1h-1zM539 271h1v1h-1zM538 272h1v1h-1zM540 272h1v1h-1zM539 273h1v1h-1zM540 272h1v1h-1zM539 273h1v1h-1zM541 273h1v1h-1zM540 274h1v1h-1zM541 272h1v1h-1zM540 273h1v1h-1zM542 273h1v1h-1zM541 274h1v1h-1zM542 272h1v1h-1zM541 273h1v1h-1zM543 273h1v1h-1zM542 274h1v1h-1zM543 273h1v1h-1zM542 274h1v1h-1zM544 274h1v1h-1zM543 275h1v1h-1zM545 269h1v1h-1zM544 270h1v1h-1zM546 270h1v1h-1zM545 271h1v1h-1zM546 269h1v1h-1zM545 270h1v1h-1zM547 270h1v1h-1zM546 271h1v1h-1zM547 269h1v1h-1zM546 270h1v1h-1zM548 270h1v1h-1zM547 271h1v1h-1zM548 270h1v1h-1zM547 271h1v1h-1zM549 271h1v1h-1zM548 272h1v1h-1zM549 270h1v1h-1zM548 271h1v1h-1zM550 271h1v1h-1zM549 272h1v1h-1zM550 270h1v1h-1zM549 271h1v1h-1zM551 271h1v1h-1zM550 272h1v1h-1zM551 271h1v1h-1zM550 272h1v1h-1zM552 272h1v1h-1zM551 273h1v1h-1zM552 271h1v1h-1zM551 272h1v1h-1zM553 272h1v1h-1zM552 273h1v1h-1zM554 271h1v1h-1zM553 272h1v1h-1zM555 272h1v1h-1zM554 273h1v1h-1zM555 270h1v1h-1zM554 271h1v1h-1zM556 271h1v1h-1zM555 272h1v1h-1zM556 271h1v1h-1zM555 272h1v1h-1zM557 272h1v1h-1zM556 273h1v1h-1zM557 271h1v1h-1zM556 272h1v1h-1zM558 272h1v1h-1zM557 273h1v1h-1zM558 272h1v1h-1zM557 273h1v1h-1zM559 273h1v1h-1zM558 274h1v1h-1zM559 271h1v1h-1zM558 272h1v1h-1zM560 272h1v1h-1zM559 273h1v1h-1zM560 271h1v1h-1zM559 272h1v1h-1zM561 272h1v1h-1zM560 273h1v1h-1zM561 272h1v1h-1zM560 273h1v1h-1zM562 273h1v1h-1zM561 274h1v1h-1zM563 270h1v1h-1zM562 271h1v1h-1zM564 271h1v1h-1zM563 272h1v1h-1zM564 270h1v1h-1zM563 271h1v1h-1zM565 271h1v1h-1zM564 272h1v1h-1zM565 270h1v1h-1zM564 271h1v1h-1zM566 271h1v1h-1zM565 272h1v1h-1zM566 270h1v1h-1zM565 271h1v1h-1zM567 271h1v1h-1zM566 272h1v1h-1zM567 271h1v1h-1zM566 272h1v1h-1zM568 272h1v1h-1zM567 273h1v1h-1zM568 271h1v1h-1zM567 272h1v1h-1zM569 272h1v1h-1zM568 273h1v1h-1zM569 271h1v1h-1zM568 272h1v1h-1zM570 272h1v1h-1zM569 273h1v1h-1zM570 271h1v1h-1zM569 272h1v1h-1zM571 272h1v1h-1zM570 273h1v1h-1zM572 271h1v1h-1zM571 272h1v1h-1zM573 272h1v1h-1zM572 273h1v1h-1zM573 271h1v1h-1zM572 272h1v1h-1zM574 272h1v1h-1zM573 273h1v1h-1zM574 272h1v1h-1zM573 273h1v1h-1zM575 273h1v1h-1zM574 274h1v1h-1zM575 272h1v1h-1zM574 273h1v1h-1zM576 273h1v1h-1zM575 274h1v1h-1zM576 272h1v1h-1zM575 273h1v1h-1zM577 273h1v1h-1zM576 274h1v1h-1zM577 272h1v1h-1zM576 273h1v1h-1zM578 273h1v1h-1zM577 274h1v1h-1zM578 273h1v1h-1zM577 274h1v1h-1zM579 274h1v1h-1zM578 275h1v1h-1zM579 273h1v1h-1zM578 274h1v1h-1zM580 274h1v1h-1zM579 275h1v1h-1zM581 270h1v1h-1zM580 271h1v1h-1zM582 271h1v1h-1zM581 272h1v1h-1zM582 270h1v1h-1zM581 271h1v1h-1zM583 271h1v1h-1zM582 272h1v1h-1zM583 270h1v1h-1zM582 271h1v1h-1zM584 271h1v1h-1zM583 272h1v1h-1zM584 270h1v1h-1zM583 271h1v1h-1zM585 271h1v1h-1zM584 272h1v1h-1zM585 270h1v1h-1zM584 271h1v1h-1zM586 271h1v1h-1zM585 272h1v1h-1zM586 271h1v1h-1zM585 272h1v1h-1zM587 272h1v1h-1zM586 273h1v1h-1zM587 271h1v1h-1zM586 272h1v1h-1zM588 272h1v1h-1zM587 273h1v1h-1zM588 271h1v1h-1zM587 272h1v1h-1zM589 272h1v1h-1zM588 273h1v1h-1zM590 271h1v1h-1zM589 272h1v1h-1zM591 272h1v1h-1zM590 273h1v1h-1zM591 272h1v1h-1zM590 273h1v1h-1zM592 273h1v1h-1zM591 274h1v1h-1zM592 271h1v1h-1zM591 272h1v1h-1zM593 272h1v1h-1zM592 273h1v1h-1zM593 271h1v1h-1zM592 272h1v1h-1zM594 272h1v1h-1zM593 273h1v1h-1zM594 272h1v1h-1zM593 273h1v1h-1zM595 273h1v1h-1zM594 274h1v1h-1zM595 272h1v1h-1zM594 273h1v1h-1zM596 273h1v1h-1zM595 274h1v1h-1zM596 272h1v1h-1zM595 273h1v1h-1zM597 273h1v1h-1zM596 274h1v1h-1zM597 273h1v1h-1zM596 274h1v1h-1zM598 274h1v1h-1zM597 275h1v1h-1zM599 270h1v1h-1zM598 271h1v1h-1zM600 271h1v1h-1zM599 272h1v1h-1zM600 271h1v1h-1zM599 272h1v1h-1zM601 272h1v1h-1zM600 273h1v1h-1zM601 271h1v1h-1zM600 272h1v1h-1zM602 272h1v1h-1zM601 273h1v1h-1zM602 271h1v1h-1zM601 272h1v1h-1zM603 272h1v1h-1zM602 273h1v1h-1zM603 271h1v1h-1zM602 272h1v1h-1zM604 272h1v1h-1zM603 273h1v1h-1zM604 271h1v1h-1zM603 272h1v1h-1zM605 272h1v1h-1zM604 273h1v1h-1zM605 271h1v1h-1zM604 272h1v1h-1zM606 272h1v1h-1zM605 273h1v1h-1zM606 271h1v1h-1zM605 272h1v1h-1zM607 272h1v1h-1zM606 273h1v1h-1zM608 271h1v1h-1zM607 272h1v1h-1zM609 272h1v1h-1zM608 273h1v1h-1zM609 272h1v1h-1zM608 273h1v1h-1zM610 273h1v1h-1zM609 274h1v1h-1zM610 271h1v1h-1zM609 272h1v1h-1zM611 272h1v1h-1zM610 273h1v1h-1zM611 272h1v1h-1zM610 273h1v1h-1zM612 273h1v1h-1zM611 274h1v1h-1zM612 272h1v1h-1zM611 273h1v1h-1zM613 273h1v1h-1zM612 274h1v1h-1zM613 273h1v1h-1zM612 274h1v1h-1zM614 274h1v1h-1zM613 275h1v1h-1zM614 273h1v1h-1zM613 274h1v1h-1zM615 274h1v1h-1zM614 275h1v1h-1zM615 274h1v1h-1zM614 275h1v1h-1zM616 275h1v1h-1zM615 276h1v1h-1zM617 270h1v1h-1zM616 271h1v1h-1zM618 271h1v1h-1zM617 272h1v1h-1zM618 270h1v1h-1zM617 271h1v1h-1zM619 271h1v1h-1zM618 272h1v1h-1zM619 270h1v1h-1zM618 271h1v1h-1zM620 271h1v1h-1zM619 272h1v1h-1zM620 271h1v1h-1zM619 272h1v1h-1zM621 272h1v1h-1zM620 273h1v1h-1zM621 270h1v1h-1zM620 271h1v1h-1zM622 271h1v1h-1zM621 272h1v1h-1zM622 271h1v1h-1zM621 272h1v1h-1zM623 272h1v1h-1zM622 273h1v1h-1zM623 271h1v1h-1zM622 272h1v1h-1zM624 272h1v1h-1zM623 273h1v1h-1zM624 271h1v1h-1zM623 272h1v1h-1zM625 272h1v1h-1zM624 273h1v1h-1zM626 271h1v1h-1zM625 272h1v1h-1zM627 272h1v1h-1zM626 273h1v1h-1zM627 272h1v1h-1zM626 273h1v1h-1zM628 273h1v1h-1zM627 274h1v1h-1zM628 272h1v1h-1zM627 273h1v1h-1zM629 273h1v1h-1zM628 274h1v1h-1zM629 272h1v1h-1zM628 273h1v1h-1zM630 273h1v1h-1zM629 274h1v1h-1zM630 272h1v1h-1zM629 273h1v1h-1zM631 273h1v1h-1zM630 274h1v1h-1zM631 272h1v1h-1zM630 273h1v1h-1zM632 273h1v1h-1zM631 274h1v1h-1zM632 273h1v1h-1zM631 274h1v1h-1zM633 274h1v1h-1zM632 275h1v1h-1zM633 273h1v1h-1zM632 274h1v1h-1zM634 274h1v1h-1zM633 275h1v1h-1zM635 271h1v1h-1zM634 272h1v1h-1zM636 272h1v1h-1zM635 273h1v1h-1zM636 271h1v1h-1zM635 272h1v1h-1zM637 272h1v1h-1zM636 273h1v1h-1zM637 271h1v1h-1zM636 272h1v1h-1zM638 272h1v1h-1zM637 273h1v1h-1zM638 271h1v1h-1zM637 272h1v1h-1zM639 272h1v1h-1zM638 273h1v1h-1zM639 271h1v1h-1zM638 272h1v1h-1zM640 272h1v1h-1zM639 273h1v1h-1zM640 271h1v1h-1zM639 272h1v1h-1zM641 272h1v1h-1zM640 273h1v1h-1zM641 272h1v1h-1zM640 273h1v1h-1zM642 273h1v1h-1zM641 274h1v1h-1zM642 271h1v1h-1zM641 272h1v1h-1zM643 272h1v1h-1zM642 273h1v1h-1zM644 272h1v1h-1zM643 273h1v1h-1zM645 273h1v1h-1zM644 274h1v1h-1zM645 272h1v1h-1zM644 273h1v1h-1zM646 273h1v1h-1zM645 274h1v1h-1zM646 273h1v1h-1zM645 274h1v1h-1zM647 274h1v1h-1zM646 275h1v1h-1zM647 272h1v1h-1zM646 273h1v1h-1zM648 273h1v1h-1zM647 274h1v1h-1zM648 273h1v1h-1zM647 274h1v1h-1zM649 274h1v1h-1zM648 275h1v1h-1zM649 273h1v1h-1zM648 274h1v1h-1zM650 274h1v1h-1zM649 275h1v1h-1zM650 273h1v1h-1zM649 274h1v1h-1zM651 274h1v1h-1zM650 275h1v1h-1zM651 274h1v1h-1zM650 275h1v1h-1zM652 275h1v1h-1zM651 276h1v1h-1zM653 270h1v1h-1zM652 271h1v1h-1zM654 271h1v1h-1zM653 272h1v1h-1zM654 271h1v1h-1zM653 272h1v1h-1zM655 272h1v1h-1zM654 273h1v1h-1zM655 271h1v1h-1zM654 272h1v1h-1zM656 272h1v1h-1zM655 273h1v1h-1zM656 271h1v1h-1zM655 272h1v1h-1zM657 272h1v1h-1zM656 273h1v1h-1zM657 271h1v1h-1zM656 272h1v1h-1zM658 272h1v1h-1zM657 273h1v1h-1zM658 271h1v1h-1zM657 272h1v1h-1zM659 272h1v1h-1zM658 273h1v1h-1zM659 271h1v1h-1zM658 272h1v1h-1zM660 272h1v1h-1zM659 273h1v1h-1zM660 272h1v1h-1zM659 273h1v1h-1zM661 273h1v1h-1zM660 274h1v1h-1zM662 272h1v1h-1zM661 273h1v1h-1zM663 273h1v1h-1zM662 274h1v1h-1zM663 272h1v1h-1zM662 273h1v1h-1zM664 273h1v1h-1zM663 274h1v1h-1zM664 272h1v1h-1zM663 273h1v1h-1zM665 273h1v1h-1zM664 274h1v1h-1zM665 272h1v1h-1zM664 273h1v1h-1zM666 273h1v1h-1zM665 274h1v1h-1zM666 273h1v1h-1zM665 274h1v1h-1zM667 274h1v1h-1zM666 275h1v1h-1zM667 272h1v1h-1zM666 273h1v1h-1zM668 273h1v1h-1zM667 274h1v1h-1zM668 273h1v1h-1zM667 274h1v1h-1zM669 274h1v1h-1zM668 275h1v1h-1zM670 274h1v1h-1zM669 275h1v1h-1zM671 275h1v1h-1zM670 276h1v1h-1zM671 271h1v1h-1zM670 272h1v1h-1zM672 272h1v1h-1zM671 273h1v1h-1zM672 271h1v1h-1zM671 272h1v1h-1zM673 272h1v1h-1zM672 273h1v1h-1zM673 271h1v1h-1zM672 272h1v1h-1zM674 272h1v1h-1zM673 273h1v1h-1zM674 271h1v1h-1zM673 272h1v1h-1zM675 272h1v1h-1zM674 273h1v1h-1zM675 272h1v1h-1zM674 273h1v1h-1zM676 273h1v1h-1zM675 274h1v1h-1zM676 271h1v1h-1zM675 272h1v1h-1zM677 272h1v1h-1zM676 273h1v1h-1zM677 272h1v1h-1zM676 273h1v1h-1zM678 273h1v1h-1zM677 274h1v1h-1zM679 272h1v1h-1zM678 273h1v1h-1zM680 273h1v1h-1zM679 274h1v1h-1zM680 272h1v1h-1zM679 273h1v1h-1zM681 273h1v1h-1zM680 274h1v1h-1zM681 272h1v1h-1zM680 273h1v1h-1zM682 273h1v1h-1zM681 274h1v1h-1zM682 273h1v1h-1zM681 274h1v1h-1zM683 274h1v1h-1zM682 275h1v1h-1zM683 273h1v1h-1zM682 274h1v1h-1zM684 274h1v1h-1zM683 275h1v1h-1zM684 273h1v1h-1zM683 274h1v1h-1zM685 274h1v1h-1zM684 275h1v1h-1zM685 273h1v1h-1zM684 274h1v1h-1zM686 274h1v1h-1zM685 275h1v1h-1zM686 273h1v1h-1zM685 274h1v1h-1zM687 274h1v1h-1zM686 275h1v1h-1zM688 274h1v1h-1zM687 275h1v1h-1zM689 275h1v1h-1zM688 276h1v1h-1zM689 271h1v1h-1zM688 272h1v1h-1zM690 272h1v1h-1zM689 273h1v1h-1zM690 272h1v1h-1zM689 273h1v1h-1zM691 273h1v1h-1zM690 274h1v1h-1zM691 271h1v1h-1zM690 272h1v1h-1zM692 272h1v1h-1zM691 273h1v1h-1zM692 272h1v1h-1zM691 273h1v1h-1zM693 273h1v1h-1zM692 274h1v1h-1zM693 271h1v1h-1zM692 272h1v1h-1zM694 272h1v1h-1zM693 273h1v1h-1zM694 272h1v1h-1zM693 273h1v1h-1zM695 273h1v1h-1zM694 274h1v1h-1zM695 272h1v1h-1zM694 273h1v1h-1zM696 273h1v1h-1zM695 274h1v1h-1zM697 272h1v1h-1zM696 273h1v1h-1zM698 273h1v1h-1zM697 274h1v1h-1zM698 272h1v1h-1zM697 273h1v1h-1zM699 273h1v1h-1zM698 274h1v1h-1zM699 273h1v1h-1zM698 274h1v1h-1zM700 274h1v1h-1zM699 275h1v1h-1zM700 273h1v1h-1zM699 274h1v1h-1zM701 274h1v1h-1zM700 275h1v1h-1zM701 273h1v1h-1zM700 274h1v1h-1zM702 274h1v1h-1zM701 275h1v1h-1zM702 273h1v1h-1zM701 274h1v1h-1zM703 274h1v1h-1zM702 275h1v1h-1zM703 273h1v1h-1zM702 274h1v1h-1zM704 274h1v1h-1zM703 275h1v1h-1zM704 273h1v1h-1zM703 274h1v1h-1zM705 274h1v1h-1zM704 275h1v1h-1zM706 274h1v1h-1zM705 275h1v1h-1zM707 275h1v1h-1zM706 276h1v1h-1zM707 271h1v1h-1zM706 272h1v1h-1zM708 272h1v1h-1zM707 273h1v1h-1zM708 272h1v1h-1zM707 273h1v1h-1zM709 273h1v1h-1zM708 274h1v1h-1zM709 271h1v1h-1zM708 272h1v1h-1zM710 272h1v1h-1zM709 273h1v1h-1zM710 272h1v1h-1zM709 273h1v1h-1zM711 273h1v1h-1zM710 274h1v1h-1zM711 272h1v1h-1zM710 273h1v1h-1zM712 273h1v1h-1zM711 274h1v1h-1zM712 272h1v1h-1zM711 273h1v1h-1zM713 273h1v1h-1zM712 274h1v1h-1zM713 273h1v1h-1zM712 274h1v1h-1zM714 274h1v1h-1zM713 275h1v1h-1zM715 272h1v1h-1zM714 273h1v1h-1zM716 273h1v1h-1zM715 274h1v1h-1zM716 273h1v1h-1zM715 274h1v1h-1zM717 274h1v1h-1zM716 275h1v1h-1zM717 272h1v1h-1zM716 273h1v1h-1zM718 273h1v1h-1zM717 274h1v1h-1zM718 272h1v1h-1zM717 273h1v1h-1zM719 273h1v1h-1zM718 274h1v1h-1zM719 273h1v1h-1zM718 274h1v1h-1zM720 274h1v1h-1zM719 275h1v1h-1zM720 274h1v1h-1zM719 275h1v1h-1zM721 275h1v1h-1zM720 276h1v1h-1zM721 273h1v1h-1zM720 274h1v1h-1zM722 274h1v1h-1zM721 275h1v1h-1zM722 274h1v1h-1zM721 275h1v1h-1zM723 275h1v1h-1zM722 276h1v1h-1zM724 274h1v1h-1zM723 275h1v1h-1zM725 275h1v1h-1zM724 276h1v1h-1zM725 271h1v1h-1zM724 272h1v1h-1zM726 272h1v1h-1zM725 273h1v1h-1zM726 271h1v1h-1zM725 272h1v1h-1zM727 272h1v1h-1zM726 273h1v1h-1zM727 271h1v1h-1zM726 272h1v1h-1zM728 272h1v1h-1zM727 273h1v1h-1zM728 272h1v1h-1zM727 273h1v1h-1zM729 273h1v1h-1zM728 274h1v1h-1zM729 271h1v1h-1zM728 272h1v1h-1zM730 272h1v1h-1zM729 273h1v1h-1zM730 272h1v1h-1zM729 273h1v1h-1zM731 273h1v1h-1zM730 274h1v1h-1zM731 272h1v1h-1zM730 273h1v1h-1zM732 273h1v1h-1zM731 274h1v1h-1zM733 273h1v1h-1zM732 274h1v1h-1zM734 274h1v1h-1zM733 275h1v1h-1zM734 273h1v1h-1zM733 274h1v1h-1zM735 274h1v1h-1zM734 275h1v1h-1zM735 273h1v1h-1zM734 274h1v1h-1zM736 274h1v1h-1zM735 275h1v1h-1zM736 272h1v1h-1zM735 273h1v1h-1zM737 273h1v1h-1zM736 274h1v1h-1zM737 272h1v1h-1zM736 273h1v1h-1zM738 273h1v1h-1zM737 274h1v1h-1zM738 274h1v1h-1zM737 275h1v1h-1zM739 275h1v1h-1zM738 276h1v1h-1zM739 273h1v1h-1zM738 274h1v1h-1zM740 274h1v1h-1zM739 275h1v1h-1zM740 273h1v1h-1zM739 274h1v1h-1zM741 274h1v1h-1zM740 275h1v1h-1zM742 274h1v1h-1zM741 275h1v1h-1zM743 275h1v1h-1zM742 276h1v1h-1zM743 272h1v1h-1zM742 273h1v1h-1zM744 273h1v1h-1zM743 274h1v1h-1zM744 272h1v1h-1zM743 273h1v1h-1zM745 273h1v1h-1zM744 274h1v1h-1zM745 272h1v1h-1zM744 273h1v1h-1zM746 273h1v1h-1zM745 274h1v1h-1zM746 272h1v1h-1zM745 273h1v1h-1zM747 273h1v1h-1zM746 274h1v1h-1zM747 272h1v1h-1zM746 273h1v1h-1zM748 273h1v1h-1zM747 274h1v1h-1zM748 272h1v1h-1zM747 273h1v1h-1zM749 273h1v1h-1zM748 274h1v1h-1zM749 272h1v1h-1zM748 273h1v1h-1zM750 273h1v1h-1zM749 274h1v1h-1zM751 273h1v1h-1zM750 274h1v1h-1zM752 274h1v1h-1zM751 275h1v1h-1zM752 273h1v1h-1zM751 274h1v1h-1zM753 274h1v1h-1zM752 275h1v1h-1zM753 273h1v1h-1zM752 274h1v1h-1zM754 274h1v1h-1zM753 275h1v1h-1zM754 273h1v1h-1zM753 274h1v1h-1zM755 274h1v1h-1zM754 275h1v1h-1zM755 273h1v1h-1zM754 274h1v1h-1zM756 274h1v1h-1zM755 275h1v1h-1zM756 273h1v1h-1zM755 274h1v1h-1zM757 274h1v1h-1zM756 275h1v1h-1zM757 274h1v1h-1zM756 275h1v1h-1zM758 275h1v1h-1zM757 276h1v1h-1zM758 274h1v1h-1zM757 275h1v1h-1zM759 275h1v1h-1zM758 276h1v1h-1zM760 275h1v1h-1zM759 276h1v1h-1zM761 276h1v1h-1zM760 277h1v1h-1zM761 271h1v1h-1zM760 272h1v1h-1zM762 272h1v1h-1zM761 273h1v1h-1zM762 271h1v1h-1zM761 272h1v1h-1zM763 272h1v1h-1zM762 273h1v1h-1zM763 272h1v1h-1zM762 273h1v1h-1zM764 273h1v1h-1zM763 274h1v1h-1zM764 272h1v1h-1zM763 273h1v1h-1zM765 273h1v1h-1zM764 274h1v1h-1zM765 272h1v1h-1zM764 273h1v1h-1zM766 273h1v1h-1zM765 274h1v1h-1zM766 272h1v1h-1zM765 273h1v1h-1zM767 273h1v1h-1zM766 274h1v1h-1zM767 272h1v1h-1zM766 273h1v1h-1zM768 273h1v1h-1zM767 274h1v1h-1zM769 273h1v1h-1zM768 274h1v1h-1zM770 274h1v1h-1zM769 275h1v1h-1zM770 272h1v1h-1zM769 273h1v1h-1zM771 273h1v1h-1zM770 274h1v1h-1zM771 272h1v1h-1zM770 273h1v1h-1zM772 273h1v1h-1zM771 274h1v1h-1zM772 273h1v1h-1zM771 274h1v1h-1zM773 274h1v1h-1zM772 275h1v1h-1zM773 273h1v1h-1zM772 274h1v1h-1zM774 274h1v1h-1zM773 275h1v1h-1zM774 273h1v1h-1zM773 274h1v1h-1zM775 274h1v1h-1zM774 275h1v1h-1zM775 274h1v1h-1zM774 275h1v1h-1zM776 275h1v1h-1zM775 276h1v1h-1zM776 273h1v1h-1zM775 274h1v1h-1zM777 274h1v1h-1zM776 275h1v1h-1zM778 274h1v1h-1zM777 275h1v1h-1zM779 275h1v1h-1zM778 276h1v1h-1zM779 272h1v1h-1zM778 273h1v1h-1zM780 273h1v1h-1zM779 274h1v1h-1zM780 272h1v1h-1zM779 273h1v1h-1zM781 273h1v1h-1zM780 274h1v1h-1zM781 272h1v1h-1zM780 273h1v1h-1zM782 273h1v1h-1zM781 274h1v1h-1zM782 272h1v1h-1zM781 273h1v1h-1zM783 273h1v1h-1zM782 274h1v1h-1zM783 272h1v1h-1zM782 273h1v1h-1zM784 273h1v1h-1zM783 274h1v1h-1zM784 273h1v1h-1zM783 274h1v1h-1zM785 274h1v1h-1zM784 275h1v1h-1zM785 273h1v1h-1zM784 274h1v1h-1zM786 274h1v1h-1zM785 275h1v1h-1zM787 274h1v1h-1zM786 275h1v1h-1zM788 275h1v1h-1zM787 276h1v1h-1zM788 273h1v1h-1zM787 274h1v1h-1zM789 274h1v1h-1zM788 275h1v1h-1zM789 274h1v1h-1zM788 275h1v1h-1zM790 275h1v1h-1zM789 276h1v1h-1zM790 273h1v1h-1zM789 274h1v1h-1zM791 274h1v1h-1zM790 275h1v1h-1zM791 273h1v1h-1zM790 274h1v1h-1zM792 274h1v1h-1zM791 275h1v1h-1zM792 274h1v1h-1zM791 275h1v1h-1zM793 275h1v1h-1zM792 276h1v1h-1zM793 274h1v1h-1zM792 275h1v1h-1zM794 275h1v1h-1zM793 276h1v1h-1zM795 274h1v1h-1zM794 275h1v1h-1zM796 275h1v1h-1zM795 276h1v1h-1zM796 275h1v1h-1zM795 276h1v1h-1zM797 276h1v1h-1zM796 277h1v1h-1zM797 272h1v1h-1zM796 273h1v1h-1zM798 273h1v1h-1zM797 274h1v1h-1zM798 272h1v1h-1zM797 273h1v1h-1zM799 273h1v1h-1zM798 274h1v1h-1zM799 272h1v1h-1zM798 273h1v1h-1zM800 273h1v1h-1zM799 274h1v1h-1zM800 272h1v1h-1zM799 273h1v1h-1zM801 273h1v1h-1zM800 274h1v1h-1zM801 273h1v1h-1zM800 274h1v1h-1zM802 274h1v1h-1zM801 275h1v1h-1zM802 272h1v1h-1zM801 273h1v1h-1zM803 273h1v1h-1zM802 274h1v1h-1zM804 272h1v1h-1zM803 273h1v1h-1zM805 273h1v1h-1zM804 274h1v1h-1zM805 273h1v1h-1zM804 274h1v1h-1zM806 274h1v1h-1zM805 275h1v1h-1zM806 273h1v1h-1zM805 274h1v1h-1zM807 274h1v1h-1zM806 275h1v1h-1zM807 273h1v1h-1zM806 274h1v1h-1zM808 274h1v1h-1zM807 275h1v1h-1zM808 273h1v1h-1zM807 274h1v1h-1zM809 274h1v1h-1zM808 275h1v1h-1zM809 273h1v1h-1zM808 274h1v1h-1zM810 274h1v1h-1zM809 275h1v1h-1zM810 274h1v1h-1zM809 275h1v1h-1zM811 275h1v1h-1zM810 276h1v1h-1zM811 273h1v1h-1zM810 274h1v1h-1zM812 274h1v1h-1zM811 275h1v1h-1zM813 274h1v1h-1zM812 275h1v1h-1zM814 275h1v1h-1zM813 276h1v1h-1zM814 274h1v1h-1zM813 275h1v1h-1zM815 275h1v1h-1zM814 276h1v1h-1zM815 272h1v1h-1zM814 273h1v1h-1zM816 273h1v1h-1zM815 274h1v1h-1zM816 272h1v1h-1zM815 273h1v1h-1zM817 273h1v1h-1zM816 274h1v1h-1zM817 272h1v1h-1zM816 273h1v1h-1zM818 273h1v1h-1zM817 274h1v1h-1zM818 273h1v1h-1zM817 274h1v1h-1zM819 274h1v1h-1zM818 275h1v1h-1zM819 273h1v1h-1zM818 274h1v1h-1zM820 274h1v1h-1zM819 275h1v1h-1zM820 272h1v1h-1zM819 273h1v1h-1zM821 273h1v1h-1zM820 274h1v1h-1zM822 273h1v1h-1zM821 274h1v1h-1zM823 274h1v1h-1zM822 275h1v1h-1zM823 273h1v1h-1zM822 274h1v1h-1zM824 274h1v1h-1zM823 275h1v1h-1zM824 273h1v1h-1zM823 274h1v1h-1zM825 274h1v1h-1zM824 275h1v1h-1zM825 274h1v1h-1zM824 275h1v1h-1zM826 275h1v1h-1zM825 276h1v1h-1zM826 273h1v1h-1zM825 274h1v1h-1zM827 274h1v1h-1zM826 275h1v1h-1zM827 273h1v1h-1zM826 274h1v1h-1zM828 274h1v1h-1zM827 275h1v1h-1zM828 273h1v1h-1zM827 274h1v1h-1zM829 274h1v1h-1zM828 275h1v1h-1zM829 274h1v1h-1zM828 275h1v1h-1zM830 275h1v1h-1zM829 276h1v1h-1zM831 274h1v1h-1zM830 275h1v1h-1zM832 275h1v1h-1zM831 276h1v1h-1zM832 275h1v1h-1zM831 276h1v1h-1zM833 276h1v1h-1zM832 277h1v1h-1zM833 272h1v1h-1zM832 273h1v1h-1zM834 273h1v1h-1zM833 274h1v1h-1zM834 272h1v1h-1zM833 273h1v1h-1zM835 273h1v1h-1zM834 274h1v1h-1zM835 273h1v1h-1zM834 274h1v1h-1zM836 274h1v1h-1zM835 275h1v1h-1zM836 272h1v1h-1zM835 273h1v1h-1zM837 273h1v1h-1zM836 274h1v1h-1zM837 273h1v1h-1zM836 274h1v1h-1zM838 274h1v1h-1zM837 275h1v1h-1zM838 273h1v1h-1zM837 274h1v1h-1zM839 274h1v1h-1zM838 275h1v1h-1zM840 273h1v1h-1zM839 274h1v1h-1zM841 274h1v1h-1zM840 275h1v1h-1zM841 273h1v1h-1zM840 274h1v1h-1zM842 274h1v1h-1zM841 275h1v1h-1zM842 273h1v1h-1zM841 274h1v1h-1zM843 274h1v1h-1zM842 275h1v1h-1zM843 273h1v1h-1zM842 274h1v1h-1zM844 274h1v1h-1zM843 275h1v1h-1zM844 273h1v1h-1zM843 274h1v1h-1zM845 274h1v1h-1zM844 275h1v1h-1zM845 273h1v1h-1zM844 274h1v1h-1zM846 274h1v1h-1zM845 275h1v1h-1zM846 274h1v1h-1zM845 275h1v1h-1zM847 275h1v1h-1zM846 276h1v1h-1zM847 274h1v1h-1zM846 275h1v1h-1zM848 275h1v1h-1zM847 276h1v1h-1zM849 274h1v1h-1zM848 275h1v1h-1zM850 275h1v1h-1zM849 276h1v1h-1zM850 274h1v1h-1zM849 275h1v1h-1zM851 275h1v1h-1zM850 276h1v1h-1zM851 272h1v1h-1zM850 273h1v1h-1zM852 273h1v1h-1zM851 274h1v1h-1zM852 272h1v1h-1zM851 273h1v1h-1zM853 273h1v1h-1zM852 274h1v1h-1zM853 273h1v1h-1zM852 274h1v1h-1zM854 274h1v1h-1zM853 275h1v1h-1zM854 273h1v1h-1zM853 274h1v1h-1zM855 274h1v1h-1zM854 275h1v1h-1zM855 273h1v1h-1zM854 274h1v1h-1zM856 274h1v1h-1zM855 275h1v1h-1zM856 273h1v1h-1zM855 274h1v1h-1zM857 274h1v1h-1zM856 275h1v1h-1zM858 273h1v1h-1zM857 274h1v1h-1zM859 274h1v1h-1zM858 275h1v1h-1zM859 273h1v1h-1zM858 274h1v1h-1zM860 274h1v1h-1zM859 275h1v1h-1zM860 273h1v1h-1zM859 274h1v1h-1zM861 274h1v1h-1zM860 275h1v1h-1zM861 273h1v1h-1zM860 274h1v1h-1zM862 274h1v1h-1zM861 275h1v1h-1zM862 273h1v1h-1zM861 274h1v1h-1zM863 274h1v1h-1zM862 275h1v1h-1zM863 274h1v1h-1zM862 275h1v1h-1zM864 275h1v1h-1zM863 276h1v1h-1zM864 273h1v1h-1zM863 274h1v1h-1zM865 274h1v1h-1zM864 275h1v1h-1zM865 274h1v1h-1zM864 275h1v1h-1zM866 275h1v1h-1zM865 276h1v1h-1zM867 274h1v1h-1zM866 275h1v1h-1zM868 275h1v1h-1zM867 276h1v1h-1zM868 275h1v1h-1zM867 276h1v1h-1zM869 276h1v1h-1zM868 277h1v1h-1zM869 272h1v1h-1zM868 273h1v1h-1zM870 273h1v1h-1zM869 274h1v1h-1zM870 273h1v1h-1zM869 274h1v1h-1zM871 274h1v1h-1zM870 275h1v1h-1zM871 272h1v1h-1zM870 273h1v1h-1zM872 273h1v1h-1zM871 274h1v1h-1zM872 272h1v1h-1zM871 273h1v1h-1zM873 273h1v1h-1zM872 274h1v1h-1zM873 272h1v1h-1zM872 273h1v1h-1zM874 273h1v1h-1zM873 274h1v1h-1zM874 273h1v1h-1zM873 274h1v1h-1zM875 274h1v1h-1zM874 275h1v1h-1zM876 273h1v1h-1zM875 274h1v1h-1zM877 274h1v1h-1zM876 275h1v1h-1zM877 273h1v1h-1zM876 274h1v1h-1zM878 274h1v1h-1zM877 275h1v1h-1zM878 273h1v1h-1zM877 274h1v1h-1zM879 274h1v1h-1zM878 275h1v1h-1zM879 274h1v1h-1zM878 275h1v1h-1zM880 275h1v1h-1zM879 276h1v1h-1zM880 273h1v1h-1zM879 274h1v1h-1zM881 274h1v1h-1zM880 275h1v1h-1zM881 274h1v1h-1zM880 275h1v1h-1zM882 275h1v1h-1zM881 276h1v1h-1zM882 273h1v1h-1zM881 274h1v1h-1zM883 274h1v1h-1zM882 275h1v1h-1zM883 274h1v1h-1zM882 275h1v1h-1zM884 275h1v1h-1zM883 276h1v1h-1zM885 274h1v1h-1zM884 275h1v1h-1zM886 275h1v1h-1zM885 276h1v1h-1zM886 275h1v1h-1zM885 276h1v1h-1zM887 276h1v1h-1zM886 277h1v1h-1zM887 273h1v1h-1zM886 274h1v1h-1zM888 274h1v1h-1zM887 275h1v1h-1zM888 272h1v1h-1zM887 273h1v1h-1zM889 273h1v1h-1zM888 274h1v1h-1zM889 274h1v1h-1zM888 275h1v1h-1zM890 275h1v1h-1zM889 276h1v1h-1zM890 273h1v1h-1zM889 274h1v1h-1zM891 274h1v1h-1zM890 275h1v1h-1zM891 274h1v1h-1zM890 275h1v1h-1zM892 275h1v1h-1zM891 276h1v1h-1zM892 273h1v1h-1zM891 274h1v1h-1zM893 274h1v1h-1zM892 275h1v1h-1zM894 273h1v1h-1zM893 274h1v1h-1zM895 274h1v1h-1zM894 275h1v1h-1zM895 273h1v1h-1zM894 274h1v1h-1zM896 274h1v1h-1zM895 275h1v1h-1zM896 274h1v1h-1zM895 275h1v1h-1zM897 275h1v1h-1zM896 276h1v1h-1zM897 274h1v1h-1zM896 275h1v1h-1zM898 275h1v1h-1zM897 276h1v1h-1zM898 274h1v1h-1zM897 275h1v1h-1zM899 275h1v1h-1zM898 276h1v1h-1zM899 274h1v1h-1zM898 275h1v1h-1zM900 275h1v1h-1zM899 276h1v1h-1zM900 274h1v1h-1zM899 275h1v1h-1zM901 275h1v1h-1zM900 276h1v1h-1zM901 274h1v1h-1zM900 275h1v1h-1zM902 275h1v1h-1zM901 276h1v1h-1zM903 274h1v1h-1zM902 275h1v1h-1zM904 275h1v1h-1zM903 276h1v1h-1zM904 275h1v1h-1zM903 276h1v1h-1zM905 276h1v1h-1zM904 277h1v1h-1zM905 273h1v1h-1zM904 274h1v1h-1zM906 274h1v1h-1zM905 275h1v1h-1zM906 274h1v1h-1zM905 275h1v1h-1zM907 275h1v1h-1zM906 276h1v1h-1zM907 272h1v1h-1zM906 273h1v1h-1zM908 273h1v1h-1zM907 274h1v1h-1zM908 273h1v1h-1zM907 274h1v1h-1zM909 274h1v1h-1zM908 275h1v1h-1zM909 273h1v1h-1zM908 274h1v1h-1zM910 274h1v1h-1zM909 275h1v1h-1zM911 273h1v1h-1zM910 274h1v1h-1zM912 274h1v1h-1zM911 275h1v1h-1zM912 273h1v1h-1zM911 274h1v1h-1zM913 274h1v1h-1zM912 275h1v1h-1zM913 273h1v1h-1zM912 274h1v1h-1zM914 274h1v1h-1zM913 275h1v1h-1zM914 273h1v1h-1zM913 274h1v1h-1zM915 274h1v1h-1zM914 275h1v1h-1zM915 274h1v1h-1zM914 275h1v1h-1zM916 275h1v1h-1zM915 276h1v1h-1zM916 274h1v1h-1zM915 275h1v1h-1zM917 275h1v1h-1zM916 276h1v1h-1zM917 274h1v1h-1zM916 275h1v1h-1zM918 275h1v1h-1zM917 276h1v1h-1zM918 275h1v1h-1zM917 276h1v1h-1zM919 276h1v1h-1zM918 277h1v1h-1zM920 273h1v1h-1zM919 274h1v1h-1zM921 274h1v1h-1zM920 275h1v1h-1zM921 274h1v1h-1zM920 275h1v1h-1zM922 275h1v1h-1zM921 276h1v1h-1zM922 275h1v1h-1zM921 276h1v1h-1zM923 276h1v1h-1zM922 277h1v1h-1zM923 273h1v1h-1zM922 274h1v1h-1zM924 274h1v1h-1zM923 275h1v1h-1zM924 273h1v1h-1zM923 274h1v1h-1zM925 274h1v1h-1zM924 275h1v1h-1zM925 273h1v1h-1zM924 274h1v1h-1zM926 274h1v1h-1zM925 275h1v1h-1zM926 274h1v1h-1zM925 275h1v1h-1zM927 275h1v1h-1zM926 276h1v1h-1zM927 274h1v1h-1zM926 275h1v1h-1zM928 275h1v1h-1zM927 276h1v1h-1zM929 274h1v1h-1zM928 275h1v1h-1zM930 275h1v1h-1zM929 276h1v1h-1zM930 273h1v1h-1zM929 274h1v1h-1zM931 274h1v1h-1zM930 275h1v1h-1zM931 274h1v1h-1zM930 275h1v1h-1zM932 275h1v1h-1zM931 276h1v1h-1zM932 274h1v1h-1zM931 275h1v1h-1zM933 275h1v1h-1zM932 276h1v1h-1zM933 274h1v1h-1zM932 275h1v1h-1zM934 275h1v1h-1zM933 276h1v1h-1zM934 274h1v1h-1zM933 275h1v1h-1zM935 275h1v1h-1zM934 276h1v1h-1zM935 274h1v1h-1zM934 275h1v1h-1zM936 275h1v1h-1zM935 276h1v1h-1zM936 274h1v1h-1zM935 275h1v1h-1zM937 275h1v1h-1zM936 276h1v1h-1zM938 275h1v1h-1zM937 276h1v1h-1zM939 276h1v1h-1zM938 277h1v1h-1zM939 275h1v1h-1zM938 276h1v1h-1zM940 276h1v1h-1zM939 277h1v1h-1zM940 275h1v1h-1zM939 276h1v1h-1zM941 276h1v1h-1zM940 277h1v1h-1zM941 273h1v1h-1zM940 274h1v1h-1zM942 274h1v1h-1zM941 275h1v1h-1zM942 273h1v1h-1zM941 274h1v1h-1zM943 274h1v1h-1zM942 275h1v1h-1zM943 273h1v1h-1zM942 274h1v1h-1zM944 274h1v1h-1zM943 275h1v1h-1zM944 274h1v1h-1zM943 275h1v1h-1zM945 275h1v1h-1zM944 276h1v1h-1zM945 273h1v1h-1zM944 274h1v1h-1zM946 274h1v1h-1zM945 275h1v1h-1zM947 274h1v1h-1zM946 275h1v1h-1zM948 275h1v1h-1zM947 276h1v1h-1zM948 273h1v1h-1zM947 274h1v1h-1zM949 274h1v1h-1zM948 275h1v1h-1zM949 274h1v1h-1zM948 275h1v1h-1zM950 275h1v1h-1zM949 276h1v1h-1zM950 274h1v1h-1zM949 275h1v1h-1zM951 275h1v1h-1zM950 276h1v1h-1zM951 273h1v1h-1zM950 274h1v1h-1zM952 274h1v1h-1zM951 275h1v1h-1zM952 274h1v1h-1zM951 275h1v1h-1zM953 275h1v1h-1zM952 276h1v1h-1zM953 274h1v1h-1zM952 275h1v1h-1zM954 275h1v1h-1zM953 276h1v1h-1zM954 274h1v1h-1zM953 275h1v1h-1zM955 275h1v1h-1zM954 276h1v1h-1zM956 274h1v1h-1zM955 275h1v1h-1zM957 275h1v1h-1zM956 276h1v1h-1zM957 274h1v1h-1zM956 275h1v1h-1zM958 275h1v1h-1zM957 276h1v1h-1zM958 274h1v1h-1zM957 275h1v1h-1zM959 275h1v1h-1zM958 276h1v1h-1zM959 273h1v1h-1zM958 274h1v1h-1zM960 274h1v1h-1zM959 275h1v1h-1zM960 273h1v1h-1zM959 274h1v1h-1zM961 274h1v1h-1zM960 275h1v1h-1zM961 273h1v1h-1zM960 274h1v1h-1zM962 274h1v1h-1zM961 275h1v1h-1zM962 274h1v1h-1zM961 275h1v1h-1zM963 275h1v1h-1zM962 276h1v1h-1zM963 273h1v1h-1zM962 274h1v1h-1zM964 274h1v1h-1zM963 275h1v1h-1zM965 274h1v1h-1zM964 275h1v1h-1zM966 275h1v1h-1zM965 276h1v1h-1zM966 273h1v1h-1zM965 274h1v1h-1zM967 274h1v1h-1zM966 275h1v1h-1zM967 274h1v1h-1zM966 275h1v1h-1zM968 275h1v1h-1zM967 276h1v1h-1zM968 274h1v1h-1zM967 275h1v1h-1zM969 275h1v1h-1zM968 276h1v1h-1zM969 274h1v1h-1zM968 275h1v1h-1zM970 275h1v1h-1zM969 276h1v1h-1zM970 274h1v1h-1zM969 275h1v1h-1zM971 275h1v1h-1zM970 276h1v1h-1zM971 274h1v1h-1zM970 275h1v1h-1zM972 275h1v1h-1zM971 276h1v1h-1zM972 275h1v1h-1zM971 276h1v1h-1zM973 276h1v1h-1zM972 277h1v1h-1zM974 274h1v1h-1zM973 275h1v1h-1zM975 275h1v1h-1zM974 276h1v1h-1zM975 275h1v1h-1zM974 276h1v1h-1zM976 276h1v1h-1zM975 277h1v1h-1zM976 275h1v1h-1zM975 276h1v1h-1zM977 276h1v1h-1zM976 277h1v1h-1zM977 273h1v1h-1zM976 274h1v1h-1zM978 274h1v1h-1zM977 275h1v1h-1zM978 273h1v1h-1zM977 274h1v1h-1zM979 274h1v1h-1zM978 275h1v1h-1zM979 273h1v1h-1zM978 274h1v1h-1zM980 274h1v1h-1zM979 275h1v1h-1zM980 273h1v1h-1zM979 274h1v1h-1zM981 274h1v1h-1zM980 275h1v1h-1zM981 273h1v1h-1zM980 274h1v1h-1zM982 274h1v1h-1zM981 275h1v1h-1zM983 273h1v1h-1zM982 274h1v1h-1zM984 274h1v1h-1zM983 275h1v1h-1zM984 273h1v1h-1zM983 274h1v1h-1zM985 274h1v1h-1zM984 275h1v1h-1zM985 274h1v1h-1zM984 275h1v1h-1zM986 275h1v1h-1zM985 276h1v1h-1zM986 274h1v1h-1zM985 275h1v1h-1zM987 275h1v1h-1zM986 276h1v1h-1zM987 274h1v1h-1zM986 275h1v1h-1zM988 275h1v1h-1zM987 276h1v1h-1zM988 274h1v1h-1zM987 275h1v1h-1zM989 275h1v1h-1zM988 276h1v1h-1zM989 274h1v1h-1zM988 275h1v1h-1zM990 275h1v1h-1zM989 276h1v1h-1zM990 274h1v1h-1zM989 275h1v1h-1zM991 275h1v1h-1zM990 276h1v1h-1zM992 275h1v1h-1zM991 276h1v1h-1zM993 276h1v1h-1zM992 277h1v1h-1zM993 274h1v1h-1zM992 275h1v1h-1zM994 275h1v1h-1zM993 276h1v1h-1zM994 275h1v1h-1zM993 276h1v1h-1zM995 276h1v1h-1zM994 277h1v1h-1zM995 273h1v1h-1zM994 274h1v1h-1zM996 274h1v1h-1zM995 275h1v1h-1zM996 273h1v1h-1zM995 274h1v1h-1zM997 274h1v1h-1zM996 275h1v1h-1zM997 273h1v1h-1zM996 274h1v1h-1zM998 274h1v1h-1zM997 275h1v1h-1zM998 274h1v1h-1zM997 275h1v1h-1zM999 275h1v1h-1zM998 276h1v1h-1zM999 274h1v1h-1zM998 275h1v1h-1zM1000 275h1v1h-1zM999 276h1v1h-1zM1001 274h1v1h-1zM1000 275h1v1h-1zM1002 275h1v1h-1zM1001 276h1v1h-1zM1002 274h1v1h-1zM1001 275h1v1h-1zM1003 275h1v1h-1zM1002 276h1v1h-1zM1003 274h1v1h-1zM1002 275h1v1h-1zM1004 275h1v1h-1zM1003 276h1v1h-1zM1004 274h1v1h-1zM1003 275h1v1h-1zM1005 275h1v1h-1zM1004 276h1v1h-1zM1005 274h1v1h-1zM1004 275h1v1h-1zM1006 275h1v1h-1zM1005 276h1v1h-1zM1006 274h1v1h-1zM1005 275h1v1h-1zM1007 275h1v1h-1zM1006 276h1v1h-1zM1007 274h1v1h-1zM1006 275h1v1h-1zM1008 275h1v1h-1zM1007 276h1v1h-1zM1008 275h1v1h-1zM1007 276h1v1h-1zM1009 276h1v1h-1zM1008 277h1v1h-1zM1010 275h1v1h-1zM1009 276h1v1h-1zM1011 276h1v1h-1zM1010 277h1v1h-1zM1011 275h1v1h-1zM1010 276h1v1h-1zM1012 276h1v1h-1zM1011 277h1v1h-1zM1012 275h1v1h-1zM1011 276h1v1h-1zM1013 276h1v1h-1zM1012 277h1v1h-1zM1013 273h1v1h-1zM1012 274h1v1h-1zM1014 274h1v1h-1zM1013 275h1v1h-1zM1014 274h1v1h-1zM1013 275h1v1h-1zM1015 275h1v1h-1zM1014 276h1v1h-1zM1015 273h1v1h-1zM1014 274h1v1h-1zM1016 274h1v1h-1zM1015 275h1v1h-1zM1016 274h1v1h-1zM1015 275h1v1h-1zM1017 275h1v1h-1zM1016 276h1v1h-1zM1017 273h1v1h-1zM1016 274h1v1h-1zM1018 274h1v1h-1zM1017 275h1v1h-1zM1019 274h1v1h-1zM1018 275h1v1h-1zM1020 275h1v1h-1zM1019 276h1v1h-1zM1020 273h1v1h-1zM1019 274h1v1h-1zM1021 274h1v1h-1zM1020 275h1v1h-1zM1021 274h1v1h-1zM1020 275h1v1h-1zM1022 275h1v1h-1zM1021 276h1v1h-1zM1022 273h1v1h-1zM1021 274h1v1h-1zM1023 274h1v1h-1zM1022 275h1v1h-1zM1023 274h1v1h-1zM1022 275h1v1h-1zM1024 275h1v1h-1zM1023 276h1v1h-1zM1024 274h1v1h-1zM1023 275h1v1h-1zM1025 275h1v1h-1zM1024 276h1v1h-1zM1025 274h1v1h-1zM1024 275h1v1h-1zM1026 275h1v1h-1zM1025 276h1v1h-1zM1026 274h1v1h-1zM1025 275h1v1h-1zM1027 275h1v1h-1zM1026 276h1v1h-1zM1028 274h1v1h-1zM1027 275h1v1h-1zM1029 275h1v1h-1zM1028 276h1v1h-1zM1029 274h1v1h-1zM1028 275h1v1h-1zM1030 275h1v1h-1zM1029 276h1v1h-1zM1030 275h1v1h-1zM1029 276h1v1h-1zM1031 276h1v1h-1zM1030 277h1v1h-1zM1031 273h1v1h-1zM1030 274h1v1h-1zM1032 274h1v1h-1zM1031 275h1v1h-1zM1032 273h1v1h-1zM1031 274h1v1h-1zM1033 274h1v1h-1zM1032 275h1v1h-1zM1033 274h1v1h-1zM1032 275h1v1h-1zM1034 275h1v1h-1zM1033 276h1v1h-1zM1034 273h1v1h-1zM1033 274h1v1h-1zM1035 274h1v1h-1zM1034 275h1v1h-1zM1036 274h1v1h-1zM1035 275h1v1h-1zM1037 275h1v1h-1zM1036 276h1v1h-1zM1037 274h1v1h-1zM1036 275h1v1h-1zM1038 275h1v1h-1zM1037 276h1v1h-1zM1038 274h1v1h-1zM1037 275h1v1h-1zM1039 275h1v1h-1zM1038 276h1v1h-1zM1039 274h1v1h-1zM1038 275h1v1h-1zM1040 275h1v1h-1zM1039 276h1v1h-1zM1040 274h1v1h-1zM1039 275h1v1h-1zM1041 275h1v1h-1zM1040 276h1v1h-1zM1041 274h1v1h-1zM1040 275h1v1h-1zM1042 275h1v1h-1zM1041 276h1v1h-1zM1042 274h1v1h-1zM1041 275h1v1h-1zM1043 275h1v1h-1zM1042 276h1v1h-1zM1043 275h1v1h-1zM1042 276h1v1h-1zM1044 276h1v1h-1zM1043 277h1v1h-1zM1045 275h1v1h-1zM1044 276h1v1h-1zM1046 276h1v1h-1zM1045 277h1v1h-1zM1046 275h1v1h-1zM1045 276h1v1h-1zM1047 276h1v1h-1zM1046 277h1v1h-1zM1047 275h1v1h-1zM1046 276h1v1h-1zM1048 276h1v1h-1zM1047 277h1v1h-1zM1048 275h1v1h-1zM1047 276h1v1h-1zM1049 276h1v1h-1zM1048 277h1v1h-1zM1049 273h1v1h-1zM1048 274h1v1h-1zM1050 274h1v1h-1zM1049 275h1v1h-1zM1050 274h1v1h-1zM1049 275h1v1h-1zM1051 275h1v1h-1zM1050 276h1v1h-1zM1051 274h1v1h-1zM1050 275h1v1h-1zM1052 275h1v1h-1zM1051 276h1v1h-1zM1052 274h1v1h-1zM1051 275h1v1h-1zM1053 275h1v1h-1zM1052 276h1v1h-1zM1054 274h1v1h-1zM1053 275h1v1h-1zM1055 275h1v1h-1zM1054 276h1v1h-1zM1055 273h1v1h-1zM1054 274h1v1h-1zM1056 274h1v1h-1zM1055 275h1v1h-1zM1056 273h1v1h-1zM1055 274h1v1h-1zM1057 274h1v1h-1zM1056 275h1v1h-1zM1057 274h1v1h-1zM1056 275h1v1h-1zM1058 275h1v1h-1zM1057 276h1v1h-1zM1058 274h1v1h-1zM1057 275h1v1h-1zM1059 275h1v1h-1zM1058 276h1v1h-1zM1059 274h1v1h-1zM1058 275h1v1h-1zM1060 275h1v1h-1zM1059 276h1v1h-1zM1060 274h1v1h-1zM1059 275h1v1h-1zM1061 275h1v1h-1zM1060 276h1v1h-1zM1061 274h1v1h-1zM1060 275h1v1h-1zM1062 275h1v1h-1zM1061 276h1v1h-1zM1063 274h1v1h-1zM1062 275h1v1h-1zM1064 275h1v1h-1zM1063 276h1v1h-1zM1064 274h1v1h-1zM1063 275h1v1h-1zM1065 275h1v1h-1zM1064 276h1v1h-1zM1065 275h1v1h-1zM1064 276h1v1h-1zM1066 276h1v1h-1zM1065 277h1v1h-1zM1066 275h1v1h-1zM1065 276h1v1h-1zM1067 276h1v1h-1zM1066 277h1v1h-1zM1067 274h1v1h-1zM1066 275h1v1h-1zM1068 275h1v1h-1zM1067 276h1v1h-1zM1068 274h1v1h-1zM1067 275h1v1h-1zM1069 275h1v1h-1zM1068 276h1v1h-1zM1069 274h1v1h-1zM1068 275h1v1h-1zM1070 275h1v1h-1zM1069 276h1v1h-1zM1070 274h1v1h-1zM1069 275h1v1h-1zM1071 275h1v1h-1zM1070 276h1v1h-1zM1072 274h1v1h-1zM1071 275h1v1h-1zM1073 275h1v1h-1zM1072 276h1v1h-1zM1073 274h1v1h-1zM1072 275h1v1h-1zM1074 275h1v1h-1zM1073 276h1v1h-1zM1074 274h1v1h-1zM1073 275h1v1h-1zM1075 275h1v1h-1zM1074 276h1v1h-1zM1075 274h1v1h-1zM1074 275h1v1h-1zM1076 275h1v1h-1zM1075 276h1v1h-1zM1076 274h1v1h-1zM1075 275h1v1h-1zM1077 275h1v1h-1zM1076 276h1v1h-1zM1077 274h1v1h-1zM1076 275h1v1h-1zM1078 275h1v1h-1zM1077 276h1v1h-1zM1078 275h1v1h-1zM1077 276h1v1h-1zM1079 276h1v1h-1zM1078 277h1v1h-1zM1079 275h1v1h-1zM1078 276h1v1h-1zM1080 276h1v1h-1zM1079 277h1v1h-1zM1081 274h1v1h-1zM1080 275h1v1h-1zM1082 275h1v1h-1zM1081 276h1v1h-1zM1082 274h1v1h-1zM1081 275h1v1h-1zM1083 275h1v1h-1zM1082 276h1v1h-1zM1083 275h1v1h-1zM1082 276h1v1h-1zM1084 276h1v1h-1zM1083 277h1v1h-1zM1084 275h1v1h-1zM1083 276h1v1h-1zM1085 276h1v1h-1zM1084 277h1v1h-1zM1085 273h1v1h-1zM1084 274h1v1h-1zM1086 274h1v1h-1zM1085 275h1v1h-1zM1086 273h1v1h-1zM1085 274h1v1h-1zM1087 274h1v1h-1zM1086 275h1v1h-1zM1087 273h1v1h-1zM1086 274h1v1h-1zM1088 274h1v1h-1zM1087 275h1v1h-1zM1088 274h1v1h-1zM1087 275h1v1h-1zM1089 275h1v1h-1zM1088 276h1v1h-1zM1090 274h1v1h-1zM1089 275h1v1h-1zM1091 275h1v1h-1zM1090 276h1v1h-1zM1091 274h1v1h-1zM1090 275h1v1h-1zM1092 275h1v1h-1zM1091 276h1v1h-1zM1092 274h1v1h-1zM1091 275h1v1h-1zM1093 275h1v1h-1zM1092 276h1v1h-1zM1093 274h1v1h-1zM1092 275h1v1h-1zM1094 275h1v1h-1zM1093 276h1v1h-1zM1094 274h1v1h-1zM1093 275h1v1h-1zM1095 275h1v1h-1zM1094 276h1v1h-1zM1095 274h1v1h-1zM1094 275h1v1h-1zM1096 275h1v1h-1zM1095 276h1v1h-1zM1096 275h1v1h-1zM1095 276h1v1h-1zM1097 276h1v1h-1zM1096 277h1v1h-1zM1097 275h1v1h-1zM1096 276h1v1h-1zM1098 276h1v1h-1zM1097 277h1v1h-1zM1099 275h1v1h-1zM1098 276h1v1h-1zM1100 276h1v1h-1zM1099 277h1v1h-1zM1100 275h1v1h-1zM1099 276h1v1h-1zM1101 276h1v1h-1zM1100 277h1v1h-1zM1101 275h1v1h-1zM1100 276h1v1h-1zM1102 276h1v1h-1zM1101 277h1v1h-1zM1102 275h1v1h-1zM1101 276h1v1h-1zM1103 276h1v1h-1zM1102 277h1v1h-1zM1103 273h1v1h-1zM1102 274h1v1h-1zM1104 274h1v1h-1zM1103 275h1v1h-1zM1104 274h1v1h-1zM1103 275h1v1h-1zM1105 275h1v1h-1zM1104 276h1v1h-1zM1105 274h1v1h-1zM1104 275h1v1h-1zM1106 275h1v1h-1zM1105 276h1v1h-1zM1106 274h1v1h-1zM1105 275h1v1h-1zM1107 275h1v1h-1zM1106 276h1v1h-1zM1108 274h1v1h-1zM1107 275h1v1h-1zM1109 275h1v1h-1zM1108 276h1v1h-1zM1109 274h1v1h-1zM1108 275h1v1h-1zM1110 275h1v1h-1zM1109 276h1v1h-1zM1110 274h1v1h-1zM1109 275h1v1h-1zM1111 275h1v1h-1zM1110 276h1v1h-1zM1111 274h1v1h-1zM1110 275h1v1h-1zM1112 275h1v1h-1zM1111 276h1v1h-1zM1112 274h1v1h-1zM1111 275h1v1h-1zM1113 275h1v1h-1zM1112 276h1v1h-1zM1113 274h1v1h-1zM1112 275h1v1h-1zM1114 275h1v1h-1zM1113 276h1v1h-1zM1114 274h1v1h-1zM1113 275h1v1h-1zM1115 275h1v1h-1zM1114 276h1v1h-1zM1115 275h1v1h-1zM1114 276h1v1h-1zM1116 276h1v1h-1zM1115 277h1v1h-1zM1117 275h1v1h-1zM1116 276h1v1h-1zM1118 276h1v1h-1zM1117 277h1v1h-1zM1118 275h1v1h-1zM1117 276h1v1h-1zM1119 276h1v1h-1zM1118 277h1v1h-1zM1119 274h1v1h-1zM1118 275h1v1h-1zM1120 275h1v1h-1zM1119 276h1v1h-1zM1120 276h1v1h-1zM1119 277h1v1h-1zM1121 277h1v1h-1zM1120 278h1v1h-1zM1121 274h1v1h-1zM1120 275h1v1h-1zM1122 275h1v1h-1zM1121 276h1v1h-1zM1122 274h1v1h-1zM1121 275h1v1h-1zM1123 275h1v1h-1zM1122 276h1v1h-1zM1123 274h1v1h-1zM1122 275h1v1h-1zM1124 275h1v1h-1zM1123 276h1v1h-1zM1124 273h1v1h-1zM1123 274h1v1h-1zM1125 274h1v1h-1zM1124 275h1v1h-1zM1126 274h1v1h-1zM1125 275h1v1h-1zM1127 275h1v1h-1zM1126 276h1v1h-1zM1127 274h1v1h-1zM1126 275h1v1h-1zM1128 275h1v1h-1zM1127 276h1v1h-1zM1128 274h1v1h-1zM1127 275h1v1h-1zM1129 275h1v1h-1zM1128 276h1v1h-1zM1129 274h1v1h-1zM1128 275h1v1h-1zM1130 275h1v1h-1zM1129 276h1v1h-1zM1130 274h1v1h-1zM1129 275h1v1h-1zM1131 275h1v1h-1zM1130 276h1v1h-1zM1131 275h1v1h-1zM1130 276h1v1h-1zM1132 276h1v1h-1zM1131 277h1v1h-1zM1132 274h1v1h-1zM1131 275h1v1h-1zM1133 275h1v1h-1zM1132 276h1v1h-1zM1133 274h1v1h-1zM1132 275h1v1h-1zM1134 275h1v1h-1zM1133 276h1v1h-1zM1135 275h1v1h-1zM1134 276h1v1h-1zM1136 276h1v1h-1zM1135 277h1v1h-1zM1136 275h1v1h-1zM1135 276h1v1h-1zM1137 276h1v1h-1zM1136 277h1v1h-1zM1137 275h1v1h-1zM1136 276h1v1h-1zM1138 276h1v1h-1zM1137 277h1v1h-1zM1138 275h1v1h-1zM1137 276h1v1h-1zM1139 276h1v1h-1zM1138 277h1v1h-1zM1139 274h1v1h-1zM1138 275h1v1h-1zM1140 275h1v1h-1zM1139 276h1v1h-1zM1140 274h1v1h-1zM1139 275h1v1h-1zM1141 275h1v1h-1zM1140 276h1v1h-1zM1141 275h1v1h-1zM1140 276h1v1h-1zM1142 276h1v1h-1zM1141 277h1v1h-1zM1142 274h1v1h-1zM1141 275h1v1h-1zM1143 275h1v1h-1zM1142 276h1v1h-1zM1144 274h1v1h-1zM1143 275h1v1h-1zM1145 275h1v1h-1zM1144 276h1v1h-1zM1145 274h1v1h-1zM1144 275h1v1h-1zM1146 275h1v1h-1zM1145 276h1v1h-1zM1146 274h1v1h-1zM1145 275h1v1h-1zM1147 275h1v1h-1zM1146 276h1v1h-1zM1147 274h1v1h-1zM1146 275h1v1h-1zM1148 275h1v1h-1zM1147 276h1v1h-1zM1148 275h1v1h-1zM1147 276h1v1h-1zM1149 276h1v1h-1zM1148 277h1v1h-1zM1149 275h1v1h-1zM1148 276h1v1h-1zM1150 276h1v1h-1zM1149 277h1v1h-1zM1150 274h1v1h-1zM1149 275h1v1h-1zM1151 275h1v1h-1zM1150 276h1v1h-1zM1151 275h1v1h-1zM1150 276h1v1h-1zM1152 276h1v1h-1zM1151 277h1v1h-1zM1153 275h1v1h-1zM1152 276h1v1h-1zM1154 276h1v1h-1zM1153 277h1v1h-1zM1154 275h1v1h-1zM1153 276h1v1h-1zM1155 276h1v1h-1zM1154 277h1v1h-1zM1155 274h1v1h-1zM1154 275h1v1h-1zM1156 275h1v1h-1zM1155 276h1v1h-1zM1156 275h1v1h-1zM1155 276h1v1h-1zM1157 276h1v1h-1zM1156 277h1v1h-1zM1157 273h1v1h-1zM1156 274h1v1h-1zM1158 274h1v1h-1zM1157 275h1v1h-1zM1158 274h1v1h-1zM1157 275h1v1h-1zM1159 275h1v1h-1zM1158 276h1v1h-1zM1159 274h1v1h-1zM1158 275h1v1h-1zM1160 275h1v1h-1zM1159 276h1v1h-1zM1161 274h1v1h-1zM1160 275h1v1h-1zM1162 275h1v1h-1zM1161 276h1v1h-1zM1162 274h1v1h-1zM1161 275h1v1h-1zM1163 275h1v1h-1zM1162 276h1v1h-1zM1163 274h1v1h-1zM1162 275h1v1h-1zM1164 275h1v1h-1zM1163 276h1v1h-1zM1164 274h1v1h-1zM1163 275h1v1h-1zM1165 275h1v1h-1zM1164 276h1v1h-1zM1165 274h1v1h-1zM1164 275h1v1h-1zM1166 275h1v1h-1zM1165 276h1v1h-1zM1166 275h1v1h-1zM1165 276h1v1h-1zM1167 276h1v1h-1zM1166 277h1v1h-1zM1167 275h1v1h-1zM1166 276h1v1h-1zM1168 276h1v1h-1zM1167 277h1v1h-1zM1168 275h1v1h-1zM1167 276h1v1h-1zM1169 276h1v1h-1zM1168 277h1v1h-1zM1170 275h1v1h-1zM1169 276h1v1h-1zM1171 276h1v1h-1zM1170 277h1v1h-1zM1171 275h1v1h-1zM1170 276h1v1h-1zM1172 276h1v1h-1zM1171 277h1v1h-1zM1172 275h1v1h-1zM1171 276h1v1h-1zM1173 276h1v1h-1zM1172 277h1v1h-1zM1173 274h1v1h-1zM1172 275h1v1h-1zM1174 275h1v1h-1zM1173 276h1v1h-1zM1174 275h1v1h-1zM1173 276h1v1h-1zM1175 276h1v1h-1zM1174 277h1v1h-1zM1175 274h1v1h-1zM1174 275h1v1h-1zM1176 275h1v1h-1zM1175 276h1v1h-1zM1176 274h1v1h-1zM1175 275h1v1h-1zM1177 275h1v1h-1zM1176 276h1v1h-1zM1177 274h1v1h-1zM1176 275h1v1h-1zM1178 275h1v1h-1zM1177 276h1v1h-1zM1179 274h1v1h-1zM1178 275h1v1h-1zM1180 275h1v1h-1zM1179 276h1v1h-1zM1180 274h1v1h-1zM1179 275h1v1h-1zM1181 275h1v1h-1zM1180 276h1v1h-1zM1181 274h1v1h-1zM1180 275h1v1h-1zM1182 275h1v1h-1zM1181 276h1v1h-1zM1182 274h1v1h-1zM1181 275h1v1h-1zM1183 275h1v1h-1zM1182 276h1v1h-1zM1183 275h1v1h-1zM1182 276h1v1h-1zM1184 276h1v1h-1zM1183 277h1v1h-1z" fill="#000" shape-rendering="crispEdges"/>
<path d="M74 27h3v1h-3zM75 26h1v3h-1zM82 29h3v1h-3zM83 28h1v3h-1zM83 41h3v1h-3zM84 40h1v3h-1zM84 54h3v1h-3zM85 53h1v3h-1zM85 66h3v1h-3zM86 65h1v3h-1zM86 75h3v1h-3zM87 74h1v3h-1zM87 85h3v1h-3zM88 84h1v3h-1zM89 93h3v1h-3zM90 92h1v3h-1zM90 100h3v1h-3zM91 99h1v3h-1zM91 108h3v1h-3zM92 107h1v3h-1zM92 128h3v1h-3zM93 127h1v3h-1zM93 68h3v1h-3zM94 67h1v3h-1zM94 77h3v1h-3zM95 76h1v3h-1zM95 85h3v1h-3zM96 84h1v3h-1zM96 93h3v1h-3zM97 92h1v3h-1zM98 98h3v1h-3zM99 97h1v3h-1zM99 105h3v1h-3zM100 104h1v3h-1zM100 112h3v1h-3zM101 111h1v3h-1zM101 112h3v1h-3zM102 111h1v3h-1zM102 122h3v1h-3zM103 121h1v3h-1zM103 126h3v1h-3zM104 125h1v3h-1zM104 130h3v1h-3zM105 129h1v3h-1zM105 137h3v1h-3zM106 136h1v3h-1zM107 139h3v1h-3zM108 138h1v3h-1zM108 144h3v1h-3zM109 143h1v3h-1zM109 148h3v1h-3zM110 147h1v3h-1zM110 159h3v1h-3zM111 158h1v3h-1zM111 120h3v1h-3zM112 119h1v3h-1zM112 124h3v1h-3zM113 123h1v3h-1zM113 130h3v1h-3zM114 129h1v3h-1zM114 134h3v1h-3zM115 133h1v3h-1zM116 138h3v1h-3zM117 137h1v3h-1zM117 141h3v1h-3zM118 140h1v3h-1zM118 144h3v1h-3zM119 143h1v3h-1zM119 148h3v1h-3zM120 147h1v3h-1zM120 152h3v1h-3zM121 151h1v3h-1zM121 155h3v1h-3zM122 154h1v3h-1zM122 158h3v1h-3zM123 157h1v3h-1zM123 161h3v1h-3zM124 160h1v3h-1zM125 164h3v1h-3zM126 163h1v3h-1zM126 168h3v1h-3zM127 167h1v3h-1zM127 170h3v1h-3zM128 169h1v3h-1zM128 179h3v1h-3zM129 178h1v3h-1zM129 147h3v1h-3zM130 146h1v3h-1zM130 150h3v1h-3zM131 149h1v3h-1zM131 153h3v1h-3zM132 152h1v3h-1zM132 156h3v1h-3zM133 155h1v3h-1zM134 157h3v1h-3zM135 156h1v3h-1zM135 161h3v1h-3zM136 160h1v3h-1zM136 164h3v1h-3zM137 163h1v3h-1zM137 167h3v1h-3zM138 166h1v3h-1zM138 168h3v1h-3zM139 167h1v3h-1zM139 171h3v1h-3zM140 170h1v3h-1zM140 172h3v1h-3zM141 171h1v3h-1zM141 176h3v1h-3zM142 175h1v3h-1zM143 178h3v1h-3zM144 177h1v3h-1zM144 181h3v1h-3zM145 180h1v3h-1zM145 181h3v1h-3zM146 180h1v3h-1zM146 189h3v1h-3zM147 188h1v3h-1zM147 163h3v1h-3zM148 162h1v3h-1zM148 165h3v1h-3zM149 164h1v3h-1zM149 168h3v1h-3zM150 167h1v3h-1zM150 170h3v1h-3zM151 169h1v3h-1zM152 172h3v1h-3zM153 171h1v3h-1zM153 173h3v1h-3zM154 172h1v3h-1zM154 177h3v1h-3zM155 176h1v3h-1zM155 178h3v1h-3zM156 177h1v3h-1zM156 179h3v1h-3zM157 178h1v3h-1zM157 182h3v1h-3zM158 181h1v3h-1zM158 183h3v1h-3zM159 182h1v3h-1zM159 185h3v1h-3zM160 184h1v3h-1zM161 186h3v1h-3zM162 185h1v3h-1zM162 188h3v1h-3zM163 187h1v3h-1zM163 190h3v1h-3zM164 189h1v3h-1zM164 195h3v1h-3zM165 194h1v3h-1zM165 174h3v1h-3zM166 173h1v3h-1zM166 176h3v1h-3zM167 175h1v3h-1zM167 177h3v1h-3zM168 176h1v3h-1zM168 180h3v1h-3zM169 179h1v3h-1zM170 181h3v1h-3zM171 180h1v3h-1zM171 182h3v1h-3zM172 181h1v3h-1zM172 184h3v1h-3zM173 183h1v3h-1zM173 185h3v1h-3zM174 184h1v3h-1zM174 187h3v1h-3zM175 186h1v3h-1zM175 188h3v1h-3zM176 187h1v3h-1zM176 189h3v1h-3zM177 188h1v3h-1zM178 191h3v1h-3zM179 190h1v3h-1zM179 193h3v1h-3zM180 192h1v3h-1zM180 194h3v1h-3zM181 193h1v3h-1zM181 196h3v1h-3zM182 195h1v3h-1zM182 199h3v1h-3zM183 198h1v3h-1zM183 181h3v1h-3zM184 180h1v3h-1zM184 184h3v1h-3zM185 183h1v3h-1zM185 185h3v1h-3zM186 184h1v3h-1zM187 186h3v1h-3zM188 185h1v3h-1zM188 187h3v1h-3zM189 186h1v3h-1zM189 188h3v1h-3zM190 187h1v3h-1zM190 190h3v1h-3zM191 189h1v3h-1zM191 191h3v1h-3zM192 190h1v3h-1zM192 192h3v1h-3zM193 191h1v3h-1zM193 194h3v1h-3zM194 193h1v3h-1zM194 195h3v1h-3zM195 194h1v3h-1zM196 196h3v1h-3zM197 195h1v3h-1zM197 197h3v1h-3zM198 196h1v3h-1zM198 198h3v1h-3zM199 197h1v3h-1zM199 199h3v1h-3zM200 198h1v3h-1zM200 204h3v1h-3zM201 203h1v3h-1zM201 189h3v1h-3zM202 188h1v3h-1zM202 190h3v1h-3zM203 189h1v3h-1zM203 191h3v1h-3zM204 190h1v3h-1zM205 192h3v1h-3zM206 191h1v3h-1zM206 194h3v1h-3zM207 193h1v3h-1zM207 195h3v1h-3zM208 194h1v3h-1zM208 196h3v1h-3zM209 195h1v3h-1zM209 196h3v1h-3zM210 195h1v3h-1zM210 197h3v1h-3zM211 196h1v3h-1zM211 199h3v1h-3zM212 198h1v3h-1zM212 199h3v1h-3zM213 198h1v3h-1zM214 200h3v1h-3zM215 199h1v3h-1zM215 202h3v1h-3zM216 201h1v3h-1zM216 203h3v1h-3zM217 202h1v3h-1zM217 204h3v1h-3zM218 203h1v3h-1zM218 208h3v1h-3zM219 207h1v3h-1zM219 194h3v1h-3zM220 193h1v3h-1zM220 193h3v1h-3zM221 192h1v3h-1zM221 194h3v1h-3zM222 193h1v3h-1zM223 197h3v1h-3zM224 196h1v3h-1zM224 197h3v1h-3zM225 196h1v3h-1zM225 198h3v1h-3zM226 197h1v3h-1zM226 199h3v1h-3zM227 198h1v3h-1zM227 199h3v1h-3zM228 198h1v3h-1zM228 201h3v1h-3zM229 200h1v3h-1zM229 202h3v1h-3zM230 201h1v3h-1zM230 203h3v1h-3zM231 202h1v3h-1zM232 203h3v1h-3zM233 202h1v3h-1zM233 205h3v1h-3zM234 204h1v3h-1zM234 205h3v1h-3zM235 204h1v3h-1zM235 207h3v1h-3zM236 206h1v3h-1zM236 209h3v1h-3zM237 208h1v3h-1zM237 196h3v1h-3zM238 195h1v3h-1zM238 198h3v1h-3zM239 197h1v3h-1zM239 198h3v1h-3zM240 197h1v3h-1zM241 199h3v1h-3zM242 198h1v3h-1zM242 200h3v1h-3zM243 199h1v3h-1zM243 201h3v1h-3zM244 200h1v3h-1zM244 202h3v1h-3zM245 201h1v3h-1zM245 202h3v1h-3zM246 201h1v3h-1zM246 203h3v1h-3zM247 202h1v3h-1zM247 204h3v1h-3zM248 203h1v3h-1zM248 205h3v1h-3zM249 204h1v3h-1zM250 206h3v1h-3zM251 205h1v3h-1zM251 207h3v1h-3zM252 206h1v3h-1zM252 206h3v1h-3zM253 205h1v3h-1zM253 208h3v1h-3zM254 207h1v3h-1zM254 211h3v1h-3zM255 210h1v3h-1zM255 199h3v1h-3zM256 198h1v3h-1zM256 202h3v1h-3zM257 201h1v3h-1zM257 201h3v1h-3zM258 200h1v3h-1zM259 201h3v1h-3zM260 200h1v3h-1zM260 203h3v1h-3zM261 202h1v3h-1zM261 203h3v1h-3zM262 202h1v3h-1zM262 204h3v1h-3zM263 203h1v3h-1zM263 205h3v1h-3zM264 204h1v3h-1zM264 206h3v1h-3zM265 205h1v3h-1zM265 206h3v1h-3zM266 205h1v3h-1zM266 206h3v1h-3zM267 205h1v3h-1zM268 209h3v1h-3zM269 208h1v3h-1zM269 209h3v1h-3zM270 208h1v3h-1zM270 209h3v1h-3zM271 208h1v3h-1zM271 210h3v1h-3zM272 209h1v3h-1zM272 212h3v1h-3zM273 211h1v3h-1zM273 202h3v1h-3zM274 201h1v3h-1zM274 203h3v1h-3zM275 202h1v3h-1zM275 203h3v1h-3zM276 202h1v3h-1zM277 204h3v1h-3zM278 203h1v3h-1zM278 204h3v1h-3zM279 203h1v3h-1zM279 206h3v1h-3zM280 205h1v3h-1zM280 206h3v1h-3zM281 205h1v3h-1zM281 207h3v1h-3zM282 206h1v3h-1zM282 207h3v1h-3zM283 206h1v3h-1zM283 208h3v1h-3zM284 207h1v3h-1zM284 209h3v1h-3zM285 208h1v3h-1zM286 210h3v1h-3zM287 209h1v3h-1zM287 210h3v1h-3zM288 209h1v3h-1zM288 210h3v1h-3zM289 209h1v3h-1zM289 211h3v1h-3zM290 210h1v3h-1zM290 213h3v1h-3zM291 212h1v3h-1zM291 205h3v1h-3zM292 204h1v3h-1zM292 204h3v1h-3zM293 203h1v3h-1zM293 205h3v1h-3zM294 204h1v3h-1zM295 205h3v1h-3zM296 204h1v3h-1zM296 207h3v1h-3zM297 206h1v3h-1zM297 206h3v1h-3zM298 205h1v3h-1zM298 207h3v1h-3zM299 206h1v3h-1zM299 209h3v1h-3zM300 208h1v3h-1zM300 210h3v1h-3zM301 209h1v3h-1zM301 210h3v1h-3zM302 209h1v3h-1zM303 210h3v1h-3zM304 209h1v3h-1zM304 211h3v1h-3zM305 210h1v3h-1zM305 211h3v1h-3zM306 210h1v3h-1zM306 213h3v1h-3zM307 212h1v3h-1zM307 213h3v1h-3zM308 212h1v3h-1zM308 214h3v1h-3zM309 213h1v3h-1zM309 206h3v1h-3zM310 205h1v3h-1zM310 206h3v1h-3zM311 205h1v3h-1zM312 207h3v1h-3zM313 206h1v3h-1zM313 208h3v1h-3zM314 207h1v3h-1zM314 208h3v1h-3zM315 207h1v3h-1zM315 209h3v1h-3zM316 208h1v3h-1zM316 210h3v1h-3zM317 209h1v3h-1zM317 210h3v1h-3zM318 209h1v3h-1zM318 210h3v1h-3zM319 209h1v3h-1zM319 211h3v1h-3zM320 210h1v3h-1zM321 212h3v1h-3zM322 211h1v3h-1zM322 212h3v1h-3zM323 211h1v3h-1zM323 213h3v1h-3zM324 212h1v3h-1zM324 213h3v1h-3zM325 212h1v3h-1zM325 214h3v1h-3zM326 213h1v3h-1zM326 215h3v1h-3zM327 214h1v3h-1zM327 208h3v1h-3zM328 207h1v3h-1zM328 207h3v1h-3zM329 206h1v3h-1zM330 208h3v1h-3zM331 207h1v3h-1zM331 209h3v1h-3zM332 208h1v3h-1zM332 210h3v1h-3zM333 209h1v3h-1zM333 209h3v1h-3zM334 208h1v3h-1zM334 211h3v1h-3zM335 210h1v3h-1zM335 211h3v1h-3zM336 210h1v3h-1zM336 212h3v1h-3zM337 211h1v3h-1zM337 211h3v1h-3zM338 210h1v3h-1zM339 212h3v1h-3zM340 211h1v3h-1zM340 213h3v1h-3zM341 212h1v3h-1zM341 214h3v1h-3zM342 213h1v3h-1zM342 214h3v1h-3zM343 213h1v3h-1zM343 215h3v1h-3zM344 214h1v3h-1zM344 217h3v1h-3zM345 216h1v3h-1zM345 208h3v1h-3zM346 207h1v3h-1zM346 209h3v1h-3zM347 208h1v3h-1zM348 210h3v1h-3zM349 209h1v3h-1zM349 210h3v1h-3zM350 209h1v3h-1zM350 211h3v1h-3zM351 210h1v3h-1zM351 212h3v1h-3zM352 211h1v3h-1zM352 212h3v1h-3zM353 211h1v3h-1zM353 212h3v1h-3zM354 211h1v3h-1zM354 212h3v1h-3zM355 211h1v3h-1zM355 213h3v1h-3zM356 212h1v3h-1zM357 215h3v1h-3zM358 214h1v3h-1zM358 214h3v1h-3zM359 213h1v3h-1zM359 215h3v1h-3zM360 214h1v3h-1zM360 215h3v1h-3zM361 214h1v3h-1zM361 216h3v1h-3zM362 215h1v3h-1zM362 217h3v1h-3zM363 216h1v3h-1zM363 211h3v1h-3zM364 210h1v3h-1zM364 211h3v1h-3zM365 210h1v3h-1zM366 210h3v1h-3zM367 209h1v3h-1zM367 212h3v1h-3zM368 211h1v3h-1zM368 212h3v1h-3zM369 211h1v3h-1zM369 211h3v1h-3zM370 210h1v3h-1zM370 213h3v1h-3zM371 212h1v3h-1zM371 213h3v1h-3zM372 212h1v3h-1zM372 214h3v1h-3zM373 213h1v3h-1zM373 214h3v1h-3zM374 213h1v3h-1zM375 215h3v1h-3zM376 214h1v3h-1zM376 215h3v1h-3zM377 214h1v3h-1zM377 215h3v1h-3zM378 214h1v3h-1zM378 216h3v1h-3zM379 215h1v3h-1zM379 216h3v1h-3zM380 215h1v3h-1zM380 218h3v1h-3zM381 217h1v3h-1zM381 211h3v1h-3zM382 210h1v3h-1zM382 211h3v1h-3zM383 210h1v3h-1zM384 211h3v1h-3zM385 210h1v3h-1zM385 213h3v1h-3zM386 212h1v3h-1zM386 213h3v1h-3zM387 212h1v3h-1zM387 212h3v1h-3zM388 211h1v3h-1zM388 214h3v1h-3zM389 213h1v3h-1zM389 214h3v1h-3zM390 213h1v3h-1zM390 215h3v1h-3zM391 214h1v3h-1zM391 215h3v1h-3zM392 214h1v3h-1zM393 215h3v1h-3zM394 214h1v3h-1zM394 214h3v1h-3zM395 213h1v3h-1zM395 217h3v1h-3zM396 216h1v3h-1zM396 217h3v1h-3zM397 216h1v3h-1zM397 217h3v1h-3zM398 216h1v3h-1zM398 218h3v1h-3zM399 217h1v3h-1zM399 212h3v1h-3zM400 211h1v3h-1zM400 212h3v1h-3zM401 211h1v3h-1zM402 213h3v1h-3zM403 212h1v3h-1zM403 214h3v1h-3zM404 213h1v3h-1zM404 213h3v1h-3zM405 212h1v3h-1zM405 214h3v1h-3zM406 213h1v3h-1zM406 214h3v1h-3zM407 213h1v3h-1zM407 215h3v1h-3zM408 214h1v3h-1zM408 215h3v1h-3zM409 214h1v3h-1zM409 215h3v1h-3zM410 214h1v3h-1zM411 216h3v1h-3zM412 215h1v3h-1zM412 216h3v1h-3zM413 215h1v3h-1zM413 216h3v1h-3zM414 215h1v3h-1zM414 217h3v1h-3zM415 216h1v3h-1zM415 217h3v1h-3zM416 216h1v3h-1zM416 219h3v1h-3zM417 218h1v3h-1zM417 213h3v1h-3zM418 212h1v3h-1zM419 214h3v1h-3zM420 213h1v3h-1zM420 213h3v1h-3zM421 212h1v3h-1zM421 215h3v1h-3zM422 214h1v3h-1zM422 214h3v1h-3zM423 213h1v3h-1zM423 216h3v1h-3zM424 215h1v3h-1zM424 215h3v1h-3zM425 214h1v3h-1zM425 215h3v1h-3zM426 214h1v3h-1zM426 216h3v1h-3zM427 215h1v3h-1zM428 216h3v1h-3zM429 215h1v3h-1zM429 217h3v1h-3zM430 216h1v3h-1zM430 217h3v1h-3zM431 216h1v3h-1zM431 217h3v1h-3zM432 216h1v3h-1zM432 218h3v1h-3zM433 217h1v3h-1zM433 218h3v1h-3zM434 217h1v3h-1zM434 219h3v1h-3zM435 218h1v3h-1zM435 213h3v1h-3zM436 212h1v3h-1zM437 214h3v1h-3zM438 213h1v3h-1zM438 214h3v1h-3zM439 213h1v3h-1zM439 214h3v1h-3zM440 213h1v3h-1zM440 215h3v1h-3zM441 214h1v3h-1zM441 216h3v1h-3zM442 215h1v3h-1zM442 215h3v1h-3zM443 214h1v3h-1zM443 216h3v1h-3zM444 215h1v3h-1zM444 216h3v1h-3zM445 215h1v3h-1zM446 216h3v1h-3zM447 215h1v3h-1zM447 217h3v1h-3zM448 216h1v3h-1zM448 217h3v1h-3zM449 216h1v3h-1zM449 217h3v1h-3zM450 216h1v3h-1zM450 218h3v1h-3zM451 217h1v3h-1zM451 218h3v1h-3zM452 217h1v3h-1zM452 220h3v1h-3zM453 219h1v3h-1zM453 214h3v1h-3zM454 213h1v3h-1zM455 214h3v1h-3zM456 213h1v3h-1zM456 214h3v1h-3zM457 213h1v3h-1zM457 216h3v1h-3zM458 215h1v3h-1zM458 216h3v1h-3zM459 215h1v3h-1zM459 216h3v1h-3zM460 215h1v3h-1zM460 217h3v1h-3zM461 216h1v3h-1zM461 216h3v1h-3zM462 215h1v3h-1zM462 216h3v1h-3zM463 215h1v3h-1zM464 217h3v1h-3zM465 216h1v3h-1zM465 217h3v1h-3zM466 216h1v3h-1zM466 218h3v1h-3zM467 217h1v3h-1zM467 217h3v1h-3zM468 216h1v3h-1zM468 219h3v1h-3zM469 218h1v3h-1zM469 219h3v1h-3zM470 218h1v3h-1zM470 220h3v1h-3zM471 219h1v3h-1zM471 214h3v1h-3zM472 213h1v3h-1zM473 215h3v1h-3zM474 214h1v3h-1zM474 215h3v1h-3zM475 214h1v3h-1zM475 216h3v1h-3zM476 215h1v3h-1zM476 216h3v1h-3zM477 215h1v3h-1zM477 217h3v1h-3zM478 216h1v3h-1zM478 216h3v1h-3zM479 215h1v3h-1zM479 217h3v1h-3zM480 216h1v3h-1zM480 218h3v1h-3zM481 217h1v3h-1zM482 217h3v1h-3zM483 216h1v3h-1zM483 218h3v1h-3zM484 217h1v3h-1zM484 218h3v1h-3zM485 217h1v3h-1zM485 219h3v1h-3zM486 218h1v3h-1zM486 219h3v1h-3zM487 218h1v3h-1zM487 219h3v1h-3zM488 218h1v3h-1zM488 220h3v1h-3zM489 219h1v3h-1zM489 215h3v1h-3zM490 214h1v3h-1zM491 215h3v1h-3zM492 214h1v3h-1zM492 215h3v1h-3zM493 214h1v3h-1zM493 216h3v1h-3zM494 215h1v3h-1zM494 216h3v1h-3zM495 215h1v3h-1zM495 217h3v1h-3zM496 216h1v3h-1zM496 217h3v1h-3zM497 216h1v3h-1zM497 217h3v1h-3zM498 216h1v3h-1zM498 217h3v1h-3zM499 216h1v3h-1zM500 218h3v1h-3zM501 217h1v3h-1zM501 219h3v1h-3zM502 218h1v3h-1zM502 219h3v1h-3zM503 218h1v3h-1zM503 219h3v1h-3zM504 218h1v3h-1zM504 220h3v1h-3zM505 219h1v3h-1zM505 221h3v1h-3zM506 220h1v3h-1zM506 221h3v1h-3zM507 220h1v3h-1zM507 216h3v1h-3zM508 215h1v3h-1zM509 216h3v1h-3zM510 215h1v3h-1zM510 216h3v1h-3zM511 215h1v3h-1zM511 217h3v1h-3zM512 216h1v3h-1zM512 217h3v1h-3zM513 216h1v3h-1zM513 218h3v1h-3zM514 217h1v3h-1zM514 218h3v1h-3zM515 217h1v3h-1zM515 217h3v1h-3zM516 216h1v3h-1zM516 218h3v1h-3zM517 217h1v3h-1zM518 219h3v1h-3zM519 218h1v3h-1zM519 219h3v1h-3zM520 218h1v3h-1zM520 219h3v1h-3zM521 218h1v3h-1zM521 219h3v1h-3zM522 218h1v3h-1zM522 219h3v1h-3zM523 218h1v3h-1zM523 220h3v1h-3zM524 219h1v3h-1zM524 222h3v1h-3zM525 221h1v3h-1zM525 216h3v1h-3zM526 215h1v3h-1zM527 217h3v1h-3zM528 216h1v3h-1zM528 217h3v1h-3zM529 216h1v3h-1zM529 218h3v1h-3zM530 217h1v3h-1zM530 217h3v1h-3zM531 216h1v3h-1zM531 217h3v1h-3zM532 216h1v3h-1zM532 218h3v1h-3zM533 217h1v3h-1zM533 218h3v1h-3zM534 217h1v3h-1zM534 219h3v1h-3zM535 218h1v3h-1zM536 218h3v1h-3zM537 217h1v3h-1zM537 218h3v1h-3zM538 217h1v3h-1zM538 220h3v1h-3zM539 219h1v3h-1zM539 220h3v1h-3zM540 219h1v3h-1zM540 220h3v1h-3zM541 219h1v3h-1zM541 221h3v1h-3zM542 220h1v3h-1zM542 221h3v1h-3zM543 220h1v3h-1zM544 216h3v1h-3zM545 215h1v3h-1zM545 217h3v1h-3zM546 216h1v3h-1zM546 217h3v1h-3zM547 216h1v3h-1zM547 218h3v1h-3zM548 217h1v3h-1zM548 219h3v1h-3zM549 218h1v3h-1zM549 218h3v1h-3zM550 217h1v3h-1zM550 218h3v1h-3zM551 217h1v3h-1zM551 219h3v1h-3zM552 218h1v3h-1zM553 218h3v1h-3zM554 217h1v3h-1zM554 220h3v1h-3zM555 219h1v3h-1zM555 219h3v1h-3zM556 218h1v3h-1zM556 220h3v1h-3zM557 219h1v3h-1zM557 221h3v1h-3zM558 220h1v3h-1zM558 221h3v1h-3zM559 220h1v3h-1zM559 222h3v1h-3zM560 221h1v3h-1zM560 222h3v1h-3zM561 221h1v3h-1zM562 217h3v1h-3zM563 216h1v3h-1zM563 216h3v1h-3zM564 215h1v3h-1zM564 218h3v1h-3zM565 217h1v3h-1zM565 218h3v1h-3zM566 217h1v3h-1zM566 219h3v1h-3zM567 218h1v3h-1zM567 219h3v1h-3zM568 218h1v3h-1zM568 219h3v1h-3zM569 218h1v3h-1zM569 219h3v1h-3zM570 218h1v3h-1zM571 220h3v1h-3zM572 219h1v3h-1zM572 219h3v1h-3zM573 218h1v3h-1zM573 220h3v1h-3zM574 219h1v3h-1zM574 220h3v1h-3zM575 219h1v3h-1zM575 221h3v1h-3zM576 220h1v3h-1zM576 221h3v1h-3zM577 220h1v3h-1zM577 221h3v1h-3zM578 220h1v3h-1zM578 222h3v1h-3zM579 221h1v3h-1zM580 217h3v1h-3zM581 216h1v3h-1zM581 218h3v1h-3zM582 217h1v3h-1zM582 218h3v1h-3zM583 217h1v3h-1zM583 219h3v1h-3zM584 218h1v3h-1zM584 219h3v1h-3zM585 218h1v3h-1zM585 219h3v1h-3zM586 218h1v3h-1zM586 219h3v1h-3zM587 218h1v3h-1zM587 220h3v1h-3zM588 219h1v3h-1zM589 220h3v1h-3zM590 219h1v3h-1zM590 220h3v1h-3zM591 219h1v3h-1zM591 220h3v1h-3zM592 219h1v3h-1zM592 221h3v1h-3zM593 220h1v3h-1zM593 221h3v1h-3zM594 220h1v3h-1zM594 221h3v1h-3zM595 220h1v3h-1zM595 221h3v1h-3zM596 220h1v3h-1zM596 223h3v1h-3zM597 222h1v3h-1zM598 217h3v1h-3zM599 216h1v3h-1zM599 218h3v1h-3zM600 217h1v3h-1zM600 219h3v1h-3zM601 218h1v3h-1zM601 218h3v1h-3zM602 217h1v3h-1zM602 219h3v1h-3zM603 218h1v3h-1zM603 219h3v1h-3zM604 218h1v3h-1zM604 219h3v1h-3zM605 218h1v3h-1zM605 220h3v1h-3zM606 219h1v3h-1zM607 220h3v1h-3zM608 219h1v3h-1zM608 220h3v1h-3zM609 219h1v3h-1zM609 221h3v1h-3zM610 220h1v3h-1zM610 220h3v1h-3zM611 219h1v3h-1zM611 221h3v1h-3zM612 220h1v3h-1zM612 221h3v1h-3zM613 220h1v3h-1zM613 221h3v1h-3zM614 220h1v3h-1zM614 222h3v1h-3zM615 221h1v3h-1zM616 218h3v1h-3zM617 217h1v3h-1zM617 219h3v1h-3zM618 218h1v3h-1zM618 218h3v1h-3zM619 217h1v3h-1zM619 219h3v1h-3zM620 218h1v3h-1zM620 219h3v1h-3zM621 218h1v3h-1zM621 220h3v1h-3zM622 219h1v3h-1zM622 219h3v1h-3zM623 218h1v3h-1zM623 220h3v1h-3zM624 219h1v3h-1zM625 221h3v1h-3zM626 220h1v3h-1zM626 220h3v1h-3zM627 219h1v3h-1zM627 221h3v1h-3zM628 220h1v3h-1zM628 221h3v1h-3zM629 220h1v3h-1zM629 221h3v1h-3zM630 220h1v3h-1zM630 222h3v1h-3zM631 221h1v3h-1zM631 222h3v1h-3zM632 221h1v3h-1zM632 222h3v1h-3zM633 221h1v3h-1zM634 219h3v1h-3zM635 218h1v3h-1zM635 219h3v1h-3zM636 218h1v3h-1zM636 219h3v1h-3zM637 218h1v3h-1zM637 219h3v1h-3zM638 218h1v3h-1zM638 220h3v1h-3zM639 219h1v3h-1zM639 220h3v1h-3zM640 219h1v3h-1zM640 220h3v1h-3zM641 219h1v3h-1zM641 221h3v1h-3zM642 220h1v3h-1zM643 221h3v1h-3zM644 220h1v3h-1zM644 221h3v1h-3zM645 220h1v3h-1zM645 221h3v1h-3zM646 220h1v3h-1zM646 221h3v1h-3zM647 220h1v3h-1zM647 221h3v1h-3zM648 220h1v3h-1zM648 222h3v1h-3zM649 221h1v3h-1zM649 222h3v1h-3zM650 221h1v3h-1zM650 223h3v1h-3zM651 222h1v3h-1zM652 219h3v1h-3zM653 218h1v3h-1zM653 219h3v1h-3zM654 218h1v3h-1zM654 220h3v1h-3zM655 219h1v3h-1zM655 219h3v1h-3zM656 218h1v3h-1zM656 220h3v1h-3zM657 219h1v3h-1zM657 220h3v1h-3zM658 219h1v3h-1zM658 220h3v1h-3zM659 219h1v3h-1zM659 221h3v1h-3zM660 220h1v3h-1zM661 221h3v1h-3zM662 220h1v3h-1zM662 221h3v1h-3zM663 220h1v3h-1zM663 221h3v1h-3zM664 220h1v3h-1zM664 221h3v1h-3zM665 220h1v3h-1zM665 222h3v1h-3zM666 221h1v3h-1zM666 223h3v1h-3zM667 222h1v3h-1zM667 222h3v1h-3zM668 221h1v3h-1zM669 224h3v1h-3zM670 223h1v3h-1zM670 219h3v1h-3zM671 218h1v3h-1zM671 220h3v1h-3zM672 219h1v3h-1zM672 220h3v1h-3zM673 219h1v3h-1zM673 221h3v1h-3zM674 220h1v3h-1zM674 220h3v1h-3zM675 219h1v3h-1zM675 220h3v1h-3zM676 219h1v3h-1zM676 220h3v1h-3zM677 219h1v3h-1zM678 221h3v1h-3zM679 220h1v3h-1zM679 221h3v1h-3zM680 220h1v3h-1zM680 222h3v1h-3zM681 221h1v3h-1zM681 221h3v1h-3zM682 220h1v3h-1zM682 222h3v1h-3zM683 221h1v3h-1zM683 222h3v1h-3zM684 221h1v3h-1zM684 222h3v1h-3zM685 221h1v3h-1zM685 223h3v1h-3zM686 222h1v3h-1zM687 224h3v1h-3zM688 223h1v3h-1zM688 219h3v1h-3zM689 218h1v3h-1zM689 220h3v1h-3zM690 219h1v3h-1zM690 221h3v1h-3zM691 220h1v3h-1zM691 220h3v1h-3zM692 219h1v3h-1zM692 221h3v1h-3zM693 220h1v3h-1zM693 220h3v1h-3zM694 219h1v3h-1zM694 220h3v1h-3zM695 219h1v3h-1zM696 221h3v1h-3zM697 220h1v3h-1zM697 221h3v1h-3zM698 220h1v3h-1zM698 221h3v1h-3zM699 220h1v3h-1zM699 222h3v1h-3zM700 221h1v3h-1zM700 222h3v1h-3zM701 221h1v3h-1zM701 222h3v1h-3zM702 221h1v3h-1zM702 223h3v1h-3zM703 222h1v3h-1zM703 223h3v1h-3zM704 222h1v3h-1zM705 223h3v1h-3zM706 222h1v3h-1zM706 219h3v1h-3zM707 218h1v3h-1zM707 220h3v1h-3zM708 219h1v3h-1zM708 220h3v1h-3zM709 219h1v3h-1zM709 220h3v1h-3zM710 219h1v3h-1zM710 221h3v1h-3zM711 220h1v3h-1zM711 220h3v1h-3zM712 219h1v3h-1zM712 221h3v1h-3zM713 220h1v3h-1zM714 221h3v1h-3zM715 220h1v3h-1zM715 221h3v1h-3zM716 220h1v3h-1zM716 222h3v1h-3zM717 221h1v3h-1zM717 221h3v1h-3zM718 220h1v3h-1zM718 222h3v1h-3zM719 221h1v3h-1zM719 222h3v1h-3zM720 221h1v3h-1zM720 223h3v1h-3zM721 222h1v3h-1zM721 223h3v1h-3zM722 222h1v3h-1zM723 222h3v1h-3zM724 221h1v3h-1zM724 220h3v1h-3zM725 219h1v3h-1zM725 220h3v1h-3zM726 219h1v3h-1zM726 220h3v1h-3zM727 219h1v3h-1zM727 220h3v1h-3zM728 219h1v3h-1zM728 222h3v1h-3zM729 221h1v3h-1zM729 221h3v1h-3zM730 220h1v3h-1zM730 221h3v1h-3zM731 220h1v3h-1zM732 221h3v1h-3zM733 220h1v3h-1zM733 222h3v1h-3zM734 221h1v3h-1zM734 222h3v1h-3zM735 221h1v3h-1zM735 222h3v1h-3zM736 221h1v3h-1zM736 223h3v1h-3zM737 222h1v3h-1zM737 223h3v1h-3zM738 222h1v3h-1zM738 222h3v1h-3zM739 221h1v3h-1zM739 223h3v1h-3zM740 222h1v3h-1zM741 224h3v1h-3zM742 223h1v3h-1zM742 220h3v1h-3zM743 219h1v3h-1zM743 220h3v1h-3zM744 219h1v3h-1zM744 220h3v1h-3zM745 219h1v3h-1zM745 220h3v1h-3zM746 219h1v3h-1zM746 221h3v1h-3zM747 220h1v3h-1zM747 222h3v1h-3zM748 221h1v3h-1zM748 221h3v1h-3zM749 220h1v3h-1zM750 222h3v1h-3zM751 221h1v3h-1zM751 222h3v1h-3zM752 221h1v3h-1zM752 222h3v1h-3zM753 221h1v3h-1zM753 222h3v1h-3zM754 221h1v3h-1zM754 223h3v1h-3zM755 222h1v3h-1zM755 223h3v1h-3zM756 222h1v3h-1zM756 223h3v1h-3zM757 222h1v3h-1zM757 222h3v1h-3zM758 221h1v3h-1zM759 224h3v1h-3zM760 223h1v3h-1zM760 220h3v1h-3zM761 219h1v3h-1zM761 221h3v1h-3zM762 220h1v3h-1zM762 222h3v1h-3zM763 221h1v3h-1zM763 221h3v1h-3zM764 220h1v3h-1zM764 221h3v1h-3zM765 220h1v3h-1zM765 222h3v1h-3zM766 221h1v3h-1zM766 222h3v1h-3zM767 221h1v3h-1zM768 222h3v1h-3zM769 221h1v3h-1zM769 222h3v1h-3zM770 221h1v3h-1zM770 223h3v1h-3zM771 222h1v3h-1zM771 222h3v1h-3zM772 221h1v3h-1zM772 223h3v1h-3zM773 222h1v3h-1zM773 222h3v1h-3zM774 221h1v3h-1zM774 222h3v1h-3zM775 221h1v3h-1zM775 223h3v1h-3zM776 222h1v3h-1zM777 224h3v1h-3zM778 223h1v3h-1zM778 220h3v1h-3zM779 219h1v3h-1zM779 221h3v1h-3zM780 220h1v3h-1zM780 221h3v1h-3zM781 220h1v3h-1zM781 221h3v1h-3zM782 220h1v3h-1zM782 221h3v1h-3zM783 220h1v3h-1zM783 221h3v1h-3zM784 220h1v3h-1zM784 222h3v1h-3zM785 221h1v3h-1zM786 222h3v1h-3zM787 221h1v3h-1zM787 222h3v1h-3zM788 221h1v3h-1zM788 223h3v1h-3zM789 222h1v3h-1zM789 223h3v1h-3zM790 222h1v3h-1zM790 222h3v1h-3zM791 221h1v3h-1zM791 223h3v1h-3zM792 222h1v3h-1zM792 223h3v1h-3zM793 222h1v3h-1zM794 223h3v1h-3zM795 222h1v3h-1zM795 224h3v1h-3zM796 223h1v3h-1zM796 221h3v1h-3zM797 220h1v3h-1zM797 222h3v1h-3zM798 221h1v3h-1zM798 221h3v1h-3zM799 220h1v3h-1zM799 222h3v1h-3zM800 221h1v3h-1zM800 222h3v1h-3zM801 221h1v3h-1zM801 222h3v1h-3zM802 221h1v3h-1zM803 222h3v1h-3zM804 221h1v3h-1zM804 223h3v1h-3zM805 222h1v3h-1zM805 223h3v1h-3zM806 222h1v3h-1zM806 223h3v1h-3zM807 222h1v3h-1zM807 222h3v1h-3zM808 221h1v3h-1zM808 222h3v1h-3zM809 221h1v3h-1zM809 224h3v1h-3zM810 223h1v3h-1zM810 223h3v1h-3zM811 222h1v3h-1zM812 224h3v1h-3zM813 223h1v3h-1zM813 224h3v1h-3zM814 223h1v3h-1zM814 221h3v1h-3zM815 220h1v3h-1zM815 221h3v1h-3zM816 220h1v3h-1zM816 221h3v1h-3zM817 220h1v3h-1zM817 221h3v1h-3zM818 220h1v3h-1zM818 223h3v1h-3zM819 222h1v3h-1zM819 221h3v1h-3zM820 220h1v3h-1zM821 221h3v1h-3zM822 220h1v3h-1zM822 222h3v1h-3zM823 221h1v3h-1zM823 223h3v1h-3zM824 222h1v3h-1zM824 223h3v1h-3zM825 222h1v3h-1zM825 222h3v1h-3zM826 221h1v3h-1zM826 223h3v1h-3zM827 222h1v3h-1zM827 224h3v1h-3zM828 223h1v3h-1zM828 223h3v1h-3zM829 222h1v3h-1zM830 223h3v1h-3zM831 222h1v3h-1zM831 224h3v1h-3zM832 223h1v3h-1zM832 222h3v1h-3zM833 221h1v3h-1zM833 220h3v1h-3zM834 219h1v3h-1zM834 222h3v1h-3zM835 221h1v3h-1zM835 221h3v1h-3zM836 220h1v3h-1zM836 222h3v1h-3zM837 221h1v3h-1zM837 222h3v1h-3zM838 221h1v3h-1zM839 222h3v1h-3zM840 221h1v3h-1zM840 222h3v1h-3zM841 221h1v3h-1zM841 222h3v1h-3zM842 221h1v3h-1zM842 223h3v1h-3zM843 222h1v3h-1zM843 223h3v1h-3zM844 222h1v3h-1zM844 223h3v1h-3zM845 222h1v3h-1zM845 223h3v1h-3zM846 222h1v3h-1zM846 224h3v1h-3zM847 223h1v3h-1zM848 223h3v1h-3zM849 222h1v3h-1zM849 224h3v1h-3zM850 223h1v3h-1zM850 221h3v1h-3zM851 220h1v3h-1zM851 222h3v1h-3zM852 221h1v3h-1zM852 222h3v1h-3zM853 221h1v3h-1zM853 222h3v1h-3zM854 221h1v3h-1zM854 223h3v1h-3zM855 222h1v3h-1zM855 223h3v1h-3zM856 222h1v3h-1zM857 223h3v1h-3zM858 222h1v3h-1zM858 223h3v1h-3zM859 222h1v3h-1zM859 223h3v1h-3zM860 222h1v3h-1zM860 223h3v1h-3zM861 222h1v3h-1zM861 223h3v1h-3zM862 222h1v3h-1zM862 223h3v1h-3zM863 222h1v3h-1zM863 223h3v1h-3zM864 222h1v3h-1zM864 224h3v1h-3zM865 223h1v3h-1zM866 224h3v1h-3zM867 223h1v3h-1zM867 224h3v1h-3zM868 223h1v3h-1zM868 221h3v1h-3zM869 220h1v3h-1zM869 221h3v1h-3zM870 220h1v3h-1zM870 221h3v1h-3zM871 220h1v3h-1zM871 222h3v1h-3zM872 221h1v3h-1zM872 222h3v1h-3zM873 221h1v3h-1zM873 223h3v1h-3zM874 222h1v3h-1zM875 222h3v1h-3zM876 221h1v3h-1zM876 224h3v1h-3zM877 223h1v3h-1zM877 223h3v1h-3zM878 222h1v3h-1zM878 223h3v1h-3zM879 222h1v3h-1zM879 223h3v1h-3zM880 222h1v3h-1zM880 224h3v1h-3zM881 223h1v3h-1zM881 224h3v1h-3zM882 223h1v3h-1zM882 224h3v1h-3zM883 223h1v3h-1zM884 224h3v1h-3zM885 223h1v3h-1zM885 226h3v1h-3zM886 225h1v3h-1zM886 222h3v1h-3zM887 221h1v3h-1zM887 222h3v1h-3zM888 221h1v3h-1zM888 222h3v1h-3zM889 221h1v3h-1zM889 222h3v1h-3zM890 221h1v3h-1zM890 222h3v1h-3zM891 221h1v3h-1zM891 223h3v1h-3zM892 222h1v3h-1zM893 223h3v1h-3zM894 222h1v3h-1zM894 223h3v1h-3zM895 222h1v3h-1zM895 223h3v1h-3zM896 222h1v3h-1zM896 224h3v1h-3zM897 223h1v3h-1zM897 224h3v1h-3zM898 223h1v3h-1zM898 224h3v1h-3zM899 223h1v3h-1zM899 224h3v1h-3zM900 223h1v3h-1zM900 224h3v1h-3zM901 223h1v3h-1zM902 224h3v1h-3zM903 223h1v3h-1zM903 225h3v1h-3zM904 224h1v3h-1zM904 222h3v1h-3zM905 221h1v3h-1zM905 222h3v1h-3zM906 221h1v3h-1zM906 223h3v1h-3zM907 222h1v3h-1zM907 222h3v1h-3zM908 221h1v3h-1zM908 223h3v1h-3zM909 222h1v3h-1zM910 222h3v1h-3zM911 221h1v3h-1zM911 223h3v1h-3zM912 222h1v3h-1zM912 223h3v1h-3zM913 222h1v3h-1zM913 223h3v1h-3zM914 222h1v3h-1zM914 223h3v1h-3zM915 222h1v3h-1zM915 223h3v1h-3zM916 222h1v3h-1zM916 223h3v1h-3zM917 222h1v3h-1zM917 224h3v1h-3zM918 223h1v3h-1zM919 224h3v1h-3zM920 223h1v3h-1zM920 224h3v1h-3zM921 223h1v3h-1zM921 225h3v1h-3zM922 224h1v3h-1zM922 223h3v1h-3zM923 222h1v3h-1zM923 223h3v1h-3zM924 222h1v3h-1zM924 222h3v1h-3zM925 221h1v3h-1zM925 222h3v1h-3zM926 221h1v3h-1zM926 222h3v1h-3zM927 221h1v3h-1zM928 223h3v1h-3zM929 222h1v3h-1zM929 223h3v1h-3zM930 222h1v3h-1zM930 223h3v1h-3zM931 222h1v3h-1zM931 224h3v1h-3zM932 223h1v3h-1zM932 223h3v1h-3zM933 222h1v3h-1zM933 223h3v1h-3zM934 222h1v3h-1zM934 223h3v1h-3zM935 222h1v3h-1zM935 224h3v1h-3zM936 223h1v3h-1zM937 225h3v1h-3zM938 224h1v3h-1zM938 225h3v1h-3zM939 224h1v3h-1zM939 225h3v1h-3zM940 224h1v3h-1zM940 224h3v1h-3zM941 223h1v3h-1zM941 222h3v1h-3zM942 221h1v3h-1zM942 222h3v1h-3zM943 221h1v3h-1zM943 222h3v1h-3zM944 221h1v3h-1zM944 223h3v1h-3zM945 222h1v3h-1zM946 223h3v1h-3zM947 222h1v3h-1zM947 224h3v1h-3zM948 223h1v3h-1zM948 224h3v1h-3zM949 223h1v3h-1zM949 223h3v1h-3zM950 222h1v3h-1zM950 223h3v1h-3zM951 222h1v3h-1zM951 223h3v1h-3zM952 222h1v3h-1zM952 224h3v1h-3zM953 223h1v3h-1zM953 224h3v1h-3zM954 223h1v3h-1zM955 224h3v1h-3zM956 223h1v3h-1zM956 225h3v1h-3zM957 224h1v3h-1zM957 225h3v1h-3zM958 224h1v3h-1zM958 223h3v1h-3zM959 222h1v3h-1zM959 222h3v1h-3zM960 221h1v3h-1zM960 222h3v1h-3zM961 221h1v3h-1zM961 223h3v1h-3zM962 222h1v3h-1zM962 224h3v1h-3zM963 223h1v3h-1zM964 223h3v1h-3zM965 222h1v3h-1zM965 224h3v1h-3zM966 223h1v3h-1zM966 223h3v1h-3zM967 222h1v3h-1zM967 224h3v1h-3zM968 223h1v3h-1zM968 224h3v1h-3zM969 223h1v3h-1zM969 224h3v1h-3zM970 223h1v3h-1zM970 223h3v1h-3zM971 222h1v3h-1zM971 224h3v1h-3zM972 223h1v3h-1zM973 224h3v1h-3zM974 223h1v3h-1zM974 225h3v1h-3zM975 224h1v3h-1zM975 226h3v1h-3zM976 225h1v3h-1zM976 221h3v1h-3zM977 220h1v3h-1zM977 223h3v1h-3zM978 222h1v3h-1zM978 222h3v1h-3zM979 221h1v3h-1zM979 223h3v1h-3zM980 222h1v3h-1zM980 222h3v1h-3zM981 221h1v3h-1zM982 224h3v1h-3zM983 223h1v3h-1zM983 223h3v1h-3zM984 222h1v3h-1zM984 223h3v1h-3zM985 222h1v3h-1zM985 223h3v1h-3zM986 222h1v3h-1zM986 223h3v1h-3zM987 222h1v3h-1zM987 224h3v1h-3zM988 223h1v3h-1zM988 224h3v1h-3zM989 223h1v3h-1zM989 225h3v1h-3zM990 224h1v3h-1zM991 225h3v1h-3zM992 224h1v3h-1zM992 225h3v1h-3zM993 224h1v3h-1zM993 225h3v1h-3zM994 224h1v3h-1zM994 222h3v1h-3zM995 221h1v3h-1zM995 222h3v1h-3zM996 221h1v3h-1zM996 222h3v1h-3zM997 221h1v3h-1zM997 223h3v1h-3zM998 222h1v3h-1zM998 223h3v1h-3zM999 222h1v3h-1zM1000 223h3v1h-3zM1001 222h1v3h-1zM1001 224h3v1h-3zM1002 223h1v3h-1zM1002 224h3v1h-3zM1003 223h1v3h-1zM1003 224h3v1h-3zM1004 223h1v3h-1zM1004 224h3v1h-3zM1005 223h1v3h-1zM1005 224h3v1h-3zM1006 223h1v3h-1zM1006 224h3v1h-3zM1007 223h1v3h-1zM1007 224h3v1h-3zM1008 223h1v3h-1zM1009 225h3v1h-3zM1010 224h1v3h-1zM1010 225h3v1h-3zM1011 224h1v3h-1zM1011 225h3v1h-3zM1012 224h1v3h-1zM1012 223h3v1h-3zM1013 222h1v3h-1zM1013 223h3v1h-3zM1014 222h1v3h-1zM1014 223h3v1h-3zM1015 222h1v3h-1zM1015 223h3v1h-3zM1016 222h1v3h-1zM1016 223h3v1h-3zM1017 222h1v3h-1zM1018 223h3v1h-3zM1019 222h1v3h-1zM1019 224h3v1h-3zM1020 223h1v3h-1zM1020 224h3v1h-3zM1021 223h1v3h-1zM1021 224h3v1h-3zM1022 223h1v3h-1zM1022 224h3v1h-3zM1023 223h1v3h-1zM1023 225h3v1h-3zM1024 224h1v3h-1zM1024 225h3v1h-3zM1025 224h1v3h-1zM1025 224h3v1h-3zM1026 223h1v3h-1zM1027 225h3v1h-3zM1028 224h1v3h-1zM1028 224h3v1h-3zM1029 223h1v3h-1zM1029 225h3v1h-3zM1030 224h1v3h-1zM1030 223h3v1h-3zM1031 222h1v3h-1zM1031 223h3v1h-3zM1032 222h1v3h-1zM1032 223h3v1h-3zM1033 222h1v3h-1zM1033 223h3v1h-3zM1034 222h1v3h-1zM1035 224h3v1h-3zM1036 223h1v3h-1zM1036 224h3v1h-3zM1037 223h1v3h-1zM1037 224h3v1h-3zM1038 223h1v3h-1zM1038 224h3v1h-3zM1039 223h1v3h-1zM1039 224h3v1h-3zM1040 223h1v3h-1zM1040 223h3v1h-3zM1041 222h1v3h-1zM1041 224h3v1h-3zM1042 223h1v3h-1zM1042 224h3v1h-3zM1043 223h1v3h-1zM1044 225h3v1h-3zM1045 224h1v3h-1zM1045 225h3v1h-3zM1046 224h1v3h-1zM1046 225h3v1h-3zM1047 224h1v3h-1zM1047 226h3v1h-3zM1048 225h1v3h-1zM1048 223h3v1h-3zM1049 222h1v3h-1zM1049 223h3v1h-3zM1050 222h1v3h-1zM1050 223h3v1h-3zM1051 222h1v3h-1zM1051 224h3v1h-3zM1052 223h1v3h-1zM1053 223h3v1h-3zM1054 222h1v3h-1zM1054 223h3v1h-3zM1055 222h1v3h-1zM1055 224h3v1h-3zM1056 223h1v3h-1zM1056 224h3v1h-3zM1057 223h1v3h-1zM1057 224h3v1h-3zM1058 223h1v3h-1zM1058 224h3v1h-3zM1059 223h1v3h-1zM1059 225h3v1h-3zM1060 224h1v3h-1zM1060 225h3v1h-3zM1061 224h1v3h-1zM1062 225h3v1h-3zM1063 224h1v3h-1zM1063 223h3v1h-3zM1064 222h1v3h-1zM1064 225h3v1h-3zM1065 224h1v3h-1zM1065 225h3v1h-3zM1066 224h1v3h-1zM1066 223h3v1h-3zM1067 222h1v3h-1zM1067 223h3v1h-3zM1068 222h1v3h-1zM1068 224h3v1h-3zM1069 223h1v3h-1zM1069 224h3v1h-3zM1070 223h1v3h-1zM1071 223h3v1h-3zM1072 222h1v3h-1zM1072 224h3v1h-3zM1073 223h1v3h-1zM1073 224h3v1h-3zM1074 223h1v3h-1zM1074 224h3v1h-3zM1075 223h1v3h-1zM1075 225h3v1h-3zM1076 224h1v3h-1zM1076 224h3v1h-3zM1077 223h1v3h-1zM1077 224h3v1h-3zM1078 223h1v3h-1zM1078 224h3v1h-3zM1079 223h1v3h-1zM1080 225h3v1h-3zM1081 224h1v3h-1zM1081 225h3v1h-3zM1082 224h1v3h-1zM1082 225h3v1h-3zM1083 224h1v3h-1zM1083 225h3v1h-3zM1084 224h1v3h-1zM1084 223h3v1h-3zM1085 222h1v3h-1zM1085 223h3v1h-3zM1086 222h1v3h-1zM1086 224h3v1h-3zM1087 223h1v3h-1zM1087 224h3v1h-3zM1088 223h1v3h-1zM1089 224h3v1h-3zM1090 223h1v3h-1zM1090 224h3v1h-3zM1091 223h1v3h-1zM1091 224h3v1h-3zM1092 223h1v3h-1zM1092 225h3v1h-3zM1093 224h1v3h-1zM1093 224h3v1h-3zM1094 223h1v3h-1zM1094 225h3v1h-3zM1095 224h1v3h-1zM1095 224h3v1h-3zM1096 223h1v3h-1zM1096 224h3v1h-3zM1097 223h1v3h-1zM1098 225h3v1h-3zM1099 224h1v3h-1zM1099 225h3v1h-3zM1100 224h1v3h-1zM1100 225h3v1h-3zM1101 224h1v3h-1zM1101 225h3v1h-3zM1102 224h1v3h-1zM1102 223h3v1h-3zM1103 222h1v3h-1zM1103 223h3v1h-3zM1104 222h1v3h-1zM1104 224h3v1h-3zM1105 223h1v3h-1zM1105 223h3v1h-3zM1106 222h1v3h-1zM1107 223h3v1h-3zM1108 222h1v3h-1zM1108 224h3v1h-3zM1109 223h1v3h-1zM1109 224h3v1h-3zM1110 223h1v3h-1zM1110 225h3v1h-3zM1111 224h1v3h-1zM1111 224h3v1h-3zM1112 223h1v3h-1zM1112 225h3v1h-3zM1113 224h1v3h-1zM1113 225h3v1h-3zM1114 224h1v3h-1zM1114 225h3v1h-3zM1115 224h1v3h-1zM1116 225h3v1h-3zM1117 224h1v3h-1zM1117 225h3v1h-3zM1118 224h1v3h-1zM1118 225h3v1h-3zM1119 224h1v3h-1zM1119 225h3v1h-3zM1120 224h1v3h-1zM1120 224h3v1h-3zM1121 223h1v3h-1zM1121 223h3v1h-3zM1122 222h1v3h-1zM1122 223h3v1h-3zM1123 222h1v3h-1zM1123 223h3v1h-3zM1124 222h1v3h-1zM1125 224h3v1h-3zM1126 223h1v3h-1zM1126 224h3v1h-3zM1127 223h1v3h-1zM1127 224h3v1h-3zM1128 223h1v3h-1zM1128 224h3v1h-3zM1129 223h1v3h-1zM1129 225h3v1h-3zM1130 224h1v3h-1zM1130 225h3v1h-3zM1131 224h1v3h-1zM1131 225h3v1h-3zM1132 224h1v3h-1zM1132 225h3v1h-3zM1133 224h1v3h-1zM1134 226h3v1h-3zM1135 225h1v3h-1zM1135 225h3v1h-3zM1136 224h1v3h-1zM1136 225h3v1h-3zM1137 224h1v3h-1zM1137 225h3v1h-3zM1138 224h1v3h-1zM1138 223h3v1h-3zM1139 222h1v3h-1zM1139 223h3v1h-3zM1140 222h1v3h-1zM1140 224h3v1h-3zM1141 223h1v3h-1zM1141 223h3v1h-3zM1142 222h1v3h-1zM1143 224h3v1h-3zM1144 223h1v3h-1zM1144 224h3v1h-3zM1145 223h1v3h-1zM1145 224h3v1h-3zM1146 223h1v3h-1zM1146 224h3v1h-3zM1147 223h1v3h-1zM1147 224h3v1h-3zM1148 223h1v3h-1zM1148 224h3v1h-3zM1149 223h1v3h-1zM1149 225h3v1h-3zM1150 224h1v3h-1zM1150 225h3v1h-3zM1151 224h1v3h-1zM1152 225h3v1h-3zM1153 224h1v3h-1zM1153 225h3v1h-3zM1154 224h1v3h-1zM1154 225h3v1h-3zM1155 224h1v3h-1zM1155 226h3v1h-3zM1156 225h1v3h-1zM1156 224h3v1h-3zM1157 223h1v3h-1zM1157 224h3v1h-3zM1158 223h1v3h-1zM1158 224h3v1h-3zM1159 223h1v3h-1zM1160 224h3v1h-3zM1161 223h1v3h-1zM1161 224h3v1h-3zM1162 223h1v3h-1zM1162 224h3v1h-3zM1163 223h1v3h-1zM1163 224h3v1h-3zM1164 223h1v3h-1zM1164 225h3v1h-3zM1165 224h1v3h-1zM1165 225h3v1h-3zM1166 224h1v3h-1zM1166 224h3v1h-3zM1167 223h1v3h-1zM1167 224h3v1h-3zM1168 223h1v3h-1zM1169 225h3v1h-3zM1170 224h1v3h-1zM1170 225h3v1h-3zM1171 224h1v3h-1zM1171 225h3v1h-3zM1172 224h1v3h-1zM1172 226h3v1h-3zM1173 225h1v3h-1zM1173 225h3v1h-3zM1174 224h1v3h-1zM1174 223h3v1h-3zM1175 222h1v3h-1zM1175 223h3v1h-3zM1176 222h1v3h-1zM1176 224h3v1h-3zM1177 223h1v3h-1zM1178 224h3v1h-3zM1179 223h1v3h-1zM1179 224h3v1h-3zM1180 223h1v3h-1zM1180 225h3v1h-3zM1181 224h1v3h-1zM1181 224h3v1h-3zM1182 223h1v3h-1zM1182 225h3v1h-3zM1183 224h1v3h-1z" fill="#00f" shape-rendering="crispEdges"/>
<path d="M85.5 19.5h2v2h-2zM86.5 32.5h2v2h-2zM87.5 44.5h2v2h-2zM89.5 53.5h2v2h-2zM90.5 63.5h2v2h-2zM91.5 75.5h2v2h-2zM92.5 89.5h2v2h-2zM94.5 21.5h2v2h-2zM95.5 31.5h2v2h-2zM96.5 37.5h2v2h-2zM98.5 49.5h2v2h-2zM99.5 55.5h2v2h-2zM100.5 60.5h2v2h-2zM101.5 70.5h2v2h-2zM102.5 77.5h2v2h-2zM103.5 84.5h2v2h-2zM104.5 91.5h2v2h-2zM105.5 97.5h2v2h-2zM107.5 101.5h2v2h-2zM108.5 109.5h2v2h-2zM109.5 114.5h2v2h-2zM110.5 125.5h2v2h-2zM111.5 71.5h2v2h-2zM112.5 75.5h2v2h-2zM113.5 83.5h2v2h-2zM114.5 86.5h2v2h-2zM116.5 91.5h2v2h-2zM117.5 96.5h2v2h-2zM118.5 101.5h2v2h-2zM119.5 106.5h2v2h-2zM120.5 108.5h2v2h-2zM121.5 115.5h2v2h-2zM122.5 117.5h2v2h-2zM123.5 123.5h2v2h-2zM125.5 125.5h2v2h-2zM126.5 129.5h2v2h-2zM127.5 133.5h2v2h-2zM128.5 142.5h2v2h-2zM129.5 101.5h2v2h-2zM130.5 106.5h2v2h-2zM131.5 108.5h2v2h-2zM132.5 113.5h2v2h-2zM134.5 116.5h2v2h-2zM135.5 120.5h2v2h-2zM136.5 123.5h2v2h-2zM137.5 127.5h2v2h-2zM138.5 130.5h2v2h-2zM139.5 132.5h2v2h-2zM140.5 136.5h2v2h-2zM141.5 138.5h2v2h-2zM143.5 139.5h2v2h-2zM144.5 143.5h2v2h-2zM145.5 146.5h2v2h-2zM146.5 152.5h2v2h-2zM147.5 118.5h2v2h-2zM148.5 121.5h2v2h-2zM149.5 122.5h2v2h-2zM150.5 125.5h2v2h-2zM152.5 127.5h2v2h-2zM153.5 130.5h2v2h-2zM154.5 133.5h2v2h-2zM155.5 135.5h2v2h-2zM156.5 137.5h2v2h-2zM157.5 141.5h2v2h-2zM158.5 142.5h2v2h-2zM159.5 145.5h2v2h-2zM161.5 148.5h2v2h-2zM162.5 149.5h2v2h-2zM163.5 152.5h2v2h-2zM164.5 157.5h2v2h-2zM165.5 130.5h2v2h-2zM166.5 132.5h2v2h-2zM167.5 135.5h2v2h-2zM168.5 137.5h2v2h-2zM170.5 139.5h2v2h-2zM171.5 141.5h2v2h-2zM172.5 142.5h2v2h-2zM173.5 146.5h2v2h-2zM174.5 147.5h2v2h-2zM175.5 150.5h2v2h-2zM176.5 152.5h2v2h-2zM178.5 152.5h2v2h-2zM179.5 155.5h2v2h-2zM180.5 156.5h2v2h-2zM181.5 158.5h2v2h-2zM182.5 164.5h2v2h-2zM183.5 139.5h2v2h-2zM184.5 141.5h2v2h-2zM185.5 142.5h2v2h-2zM187.5 145.5h2v2h-2zM188.5 147.5h2v2h-2zM189.5 148.5h2v2h-2zM190.5 149.5h2v2h-2zM191.5 152.5h2v2h-2zM192.5 153.5h2v2h-2zM193.5 155.5h2v2h-2zM194.5 156.5h2v2h-2zM196.5 158.5h2v2h-2zM197.5 160.5h2v2h-2zM198.5 162.5h2v2h-2zM199.5 163.5h2v2h-2zM200.5 167.5h2v2h-2zM201.5 146.5h2v2h-2zM202.5 147.5h2v2h-2zM203.5 149.5h2v2h-2zM205.5 150.5h2v2h-2zM206.5 152.5h2v2h-2zM207.5 154.5h2v2h-2zM208.5 155.5h2v2h-2zM209.5 157.5h2v2h-2zM210.5 158.5h2v2h-2zM211.5 160.5h2v2h-2zM212.5 162.5h2v2h-2zM214.5 162.5h2v2h-2zM215.5 163.5h2v2h-2zM216.5 165.5h2v2h-2zM217.5 166.5h2v2h-2zM218.5 171.5h2v2h-2zM219.5 150.5h2v2h-2zM220.5 152.5h2v2h-2zM221.5 153.5h2v2h-2zM223.5 155.5h2v2h-2zM224.5 156.5h2v2h-2zM225.5 158.5h2v2h-2zM226.5 159.5h2v2h-2zM227.5 161.5h2v2h-2zM228.5 161.5h2v2h-2zM229.5 164.5h2v2h-2zM230.5 165.5h2v2h-2zM232.5 166.5h2v2h-2zM233.5 167.5h2v2h-2zM234.5 167.5h2v2h-2zM235.5 169.5h2v2h-2zM236.5 173.5h2v2h-2zM237.5 156.5h2v2h-2zM238.5 158.5h2v2h-2zM239.5 159.5h2v2h-2zM241.5 159.5h2v2h-2zM242.5 160.5h2v2h-2zM243.5 162.5h2v2h-2zM244.5 162.5h2v2h-2zM245.5 163.5h2v2h-2zM246.5 165.5h2v2h-2zM247.5 166.5h2v2h-2zM248.5 166.5h2v2h-2zM250.5 167.5h2v2h-2zM251.5 169.5h2v2h-2zM252.5 169.5h2v2h-2zM253.5 170.5h2v2h-2zM254.5 174.5h2v2h-2zM255.5 159.5h2v2h-2zM256.5 159.5h2v2h-2zM257.5 161.5h2v2h-2zM259.5 162.5h2v2h-2zM260.5 163.5h2v2h-2zM261.5 164.5h2v2h-2zM262.5 166.5h2v2h-2zM263.5 166.5h2v2h-2zM264.5 167.5h2v2h-2zM265.5 169.5h2v2h-2zM266.5 169.5h2v2h-2zM268.5 169.5h2v2h-2zM269.5 171.5h2v2h-2zM270.5 172.5h2v2h-2zM271.5 174.5h2v2h-2zM272.5 175.5h2v2h-2zM273.5 162.5h2v2h-2zM274.5 162.5h2v2h-2zM275.5 164.5h2v2h-2zM277.5 164.5h2v2h-2zM278.5 166.5h2v2h-2zM279.5 166.5h2v2h-2zM280.5 167.5h2v2h-2zM281.5 168.5h2v2h-2zM282.5 170.5h2v2h-2zM283.5 169.5h2v2h-2zM284.5 170.5h2v2h-2zM286.5 172.5h2v2h-2zM287.5 173.5h2v2h-2zM288.5 174.5h2v2h-2zM289.5 175.5h2v2h-2zM290.5 178.5h2v2h-2zM291.5 164.5h2v2h-2zM292.5 165.5h2v2h-2zM293.5 166.5h2v2h-2zM295.5 167.5h2v2h-2zM296.5 167.5h2v2h-2zM297.5 169.5h2v2h-2zM298.5 169.5h2v2h-2zM299.5 170.5h2v2h-2zM300.5 171.5h2v2h-2zM301.5 172.5h2v2h-2zM303.5 174.5h2v2h-2zM304.5 173.5h2v2h-2zM305.5 174.5h2v2h-2zM306.5 175.5h2v2h-2zM307.5 176.5h2v2h-2zM308.5 178.5h2v2h-2zM309.5 166.5h2v2h-2zM310.5 168.5h2v2h-2zM312.5 168.5h2v2h-2zM313.5 167.5h2v2h-2zM314.5 169.5h2v2h-2zM315.5 170.5h2v2h-2zM316.5 171.5h2v2h-2zM317.5 171.5h2v2h-2zM318.5 172.5h2v2h-2zM319.5 174.5h2v2h-2zM321.5 174.5h2v2h-2zM322.5 174.5h2v2h-2zM323.5 175.5h2v2h-2zM324.5 177.5h2v2h-2zM325.5 177.5h2v2h-2zM326.5 180.5h2v2h-2zM327.5 168.5h2v2h-2zM328.5 169.5h2v2h-2zM330.5 169.5h2v2h-2zM331.5 170.5h2v2h-2zM332.5 171.5h2v2h-2zM333.5 172.5h2v2h-2zM334.5 173.5h2v2h-2zM335.5 173.5h2v2h-2zM336.5 174.5h2v2h-2zM337.5 175.5h2v2h-2zM339.5 175.5h2v2h-2zM340.5 176.5h2v2h-2zM341.5 177.5h2v2h-2zM342.5 177.5h2v2h-2zM343.5 176.5h2v2h-2zM344.5 180.5h2v2h-2zM345.5 170.5h2v2h-2zM346.5 170.5h2v2h-2zM348.5 170.5h2v2h-2zM349.5 172.5h2v2h-2zM350.5 172.5h2v2h-2zM351.5 173.5h2v2h-2zM352.5 173.5h2v2h-2zM353.5 174.5h2v2h-2zM354.5 175.5h2v2h-2zM355.5 176.5h2v2h-2zM357.5 176.5h2v2h-2zM358.5 177.5h2v2h-2zM359.5 178.5h2v2h-2zM360.5 179.5h2v2h-2zM361.5 179.5h2v2h-2zM362.5 181.5h2v2h-2zM363.5 170.5h2v2h-2zM364.5 172.5h2v2h-2zM366.5 171.5h2v2h-2zM367.5 173.5h2v2h-2zM368.5 173.5h2v2h-2zM369.5 174.5h2v2h-2zM370.5 175.5h2v2h-2zM371.5 175.5h2v2h-2zM372.5 176.5h2v2h-2zM373.5 177.5h2v2h-2zM375.5 176.5h2v2h-2zM376.5 178.5h2v2h-2zM377.5 179.5h2v2h-2zM378.5 179.5h2v2h-2zM379.5 179.5h2v2h-2zM380.5 181.5h2v2h-2zM381.5 172.5h2v2h-2zM382.5 172.5h2v2h-2zM384.5 173.5h2v2h-2zM385.5 174.5h2v2h-2zM386.5 175.5h2v2h-2zM387.5 175.5h2v2h-2zM388.5 176.5h2v2h-2zM389.5 176.5h2v2h-2zM390.5 177.5h2v2h-2zM391.5 176.5h2v2h-2zM393.5 179.5h2v2h-2zM394.5 179.5h2v2h-2zM395.5 179.5h2v2h-2zM396.5 180.5h2v2h-2zM397.5 181.5h2v2h-2zM398.5 182.5h2v2h-2zM399.5 173.5h2v2h-2zM400.5 173.5h2v2h-2zM402.5 173.5h2v2h-2zM403.5 175.5h2v2h-2zM404.5 175.5h2v2h-2zM405.5 177.5h2v2h-2zM406.5 177.5h2v2h-2zM407.5 177.5h2v2h-2zM408.5 178.5h2v2h-2zM409.5 178.5h2v2h-2zM411.5 179.5h2v2h-2zM412.5 179.5h2v2h-2zM413.5 180.5h2v2h-2zM414.5 180.5h2v2h-2zM415.5 182.5h2v2h-2zM416.5 183.5h2v2h-2zM417.5 174.5h2v2h-2zM419.5 174.5h2v2h-2zM420.5 175.5h2v2h-2zM421.5 176.5h2v2h-2zM422.5 177.5h2v2h-2zM423.5 177.5h2v2h-2zM424.5 177.5h2v2h-2zM425.5 178.5h2v2h-2zM426.5 178.5h2v2h-2zM428.5 179.5h2v2h-2zM429.5 179.5h2v2h-2zM430.5 179.5h2v2h-2zM431.5 180.5h2v2h-2zM432.5 181.5h2v2h-2zM433.5 182.5h2v2h-2zM434.5 184.5h2v2h-2zM435.5 176.5h2v2h-2zM437.5 175.5h2v2h-2zM438.5 175.5h2v2h-2zM439.5 178.5h2v2h-2zM440.5 178.5h2v2h-2zM441.5 178.5h2v2h-2zM442.5 179.5h2v2h-2zM443.5 179.5h2v2h-2zM444.5 179.5h2v2h-2zM446.5 180.5h2v2h-2zM447.5 180.5h2v2h-2zM448.5 181.5h2v2h-2zM449.5 181.5h2v2h-2zM450.5 181.5h2v2h-2zM451.5 182.5h2v2h-2zM452.5 185.5h2v2h-2zM453.5 176.5h2v2h-2zM455.5 176.5h2v2h-2zM456.5 178.5h2v2h-2zM457.5 177.5h2v2h-2zM458.5 177.5h2v2h-2zM459.5 179.5h2v2h-2zM460.5 179.5h2v2h-2zM461.5 179.5h2v2h-2zM462.5 180.5h2v2h-2zM464.5 181.5h2v2h-2zM465.5 181.5h2v2h-2zM466.5 181.5h2v2h-2zM467.5 181.5h2v2h-2zM468.5 182.5h2v2h-2zM469.5 183.5h2v2h-2zM470.5 184.5h2v2h-2zM471.5 176.5h2v2h-2zM473.5 176.5h2v2h-2zM474.5 177.5h2v2h-2zM475.5 178.5h2v2h-2zM476.5 179.5h2v2h-2zM477.5 179.5h2v2h-2zM478.5 179.5h2v2h-2zM479.5 181.5h2v2h-2zM480.5 181.5h2v2h-2zM482.5 181.5h2v2h-2zM483.5 181.5h2v2h-2zM484.5 182.5h2v2h-2zM485.5 183.5h2v2h-2zM486.5 184.5h2v2h-2zM487.5 182.5h2v2h-2zM488.5 184.5h2v2h-2zM489.5 177.5h2v2h-2zM491.5 176.5h2v2h-2zM492.5 177.5h2v2h-2zM493.5 178.5h2v2h-2zM494.5 179.5h2v2h-2zM495.5 180.5h2v2h-2zM496.5 179.5h2v2h-2zM497.5 181.5h2v2h-2zM498.5 180.5h2v2h-2zM500.5 182.5h2v2h-2zM501.5 181.5h2v2h-2zM502.5 182.5h2v2h-2zM503.5 182.5h2v2h-2zM504.5 182.5h2v2h-2zM505.5 183.5h2v2h-2zM506.5 185.5h2v2h-2zM507.5 178.5h2v2h-2zM509.5 179.5h2v2h-2zM510.5 179.5h2v2h-2zM511.5 179.5h2v2h-2zM512.5 180.5h2v2h-2zM513.5 181.5h2v2h-2zM514.5 180.5h2v2h-2zM515.5 181.5h2v2h-2zM516.5 181.5h2v2h-2zM518.5 182.5h2v2h-2zM519.5 182.5h2v2h-2zM520.5 182.5h2v2h-2zM521.5 184.5h2v2h-2zM522.5 183.5h2v2h-2zM523.5 184.5h2v2h-2zM524.5 186.5h2v2h-2zM525.5 178.5h2v2h-2zM527.5 180.5h2v2h-2zM528.5 180.5h2v2h-2zM529.5 180.5h2v2h-2zM530.5 181.5h2v2h-2zM531.5 181.5h2v2h-2zM532.5 181.5h2v2h-2zM533.5 181.5h2v2h-2zM534.5 182.5h2v2h-2zM536.5 182.5h2v2h-2zM537.5 182.5h2v2h-2zM538.5 182.5h2v2h-2zM539.5 184.5h2v2h-2zM540.5 184.5h2v2h-2zM541.5 184.5h2v2h-2zM542.5 186.5h2v2h-2zM544.5 179.5h2v2h-2zM545.5 179.5h2v2h-2zM546.5 180.5h2v2h-2zM547.5 181.5h2v2h-2zM548.5 180.5h2v2h-2zM549.5 181.5h2v2h-2zM550.5 181.5h2v2h-2zM551.5 181.5h2v2h-2zM553.5 182.5h2v2h-2zM554.5 182.5h2v2h-2zM555.5 183.5h2v2h-2zM556.5 183.5h2v2h-2zM557.5 183.5h2v2h-2zM558.5 184.5h2v2h-2zM559.5 184.5h2v2h-2zM560.5 185.5h2v2h-2zM562.5 180.5h2v2h-2zM563.5 180.5h2v2h-2zM564.5 181.5h2v2h-2zM565.5 181.5h2v2h-2zM566.5 181.5h2v2h-2zM567.5 181.5h2v2h-2zM568.5 182.5h2v2h-2zM569.5 183.5h2v2h-2zM571.5 183.5h2v2h-2zM572.5 183.5h2v2h-2zM573.5 184.5h2v2h-2zM574.5 184.5h2v2h-2zM575.5 185.5h2v2h-2zM576.5 185.5h2v2h-2zM577.5 185.5h2v2h-2zM578.5 185.5h2v2h-2zM580.5 180.5h2v2h-2zM581.5 181.5h2v2h-2zM582.5 180.5h2v2h-2zM583.5 182.5h2v2h-2zM584.5 182.5h2v2h-2zM585.5 181.5h2v2h-2zM586.5 182.5h2v2h-2zM587.5 182.5h2v2h-2zM589.5 182.5h2v2h-2zM590.5 184.5h2v2h-2zM591.5 183.5h2v2h-2zM592.5 184.5h2v2h-2zM593.5 184.5h2v2h-2zM594.5 185.5h2v2h-2zM595.5 185.5h2v2h-2zM596.5 187.5h2v2h-2zM598.5 181.5h2v2h-2zM599.5 182.5h2v2h-2zM600.5 182.5h2v2h-2zM601.5 182.5h2v2h-2zM602.5 182.5h2v2h-2zM603.5 183.5h2v2h-2zM604.5 182.5h2v2h-2zM605.5 183.5h2v2h-2zM607.5 184.5h2v2h-2zM608.5 184.5h2v2h-2zM609.5 184.5h2v2h-2zM610.5 184.5h2v2h-2zM611.5 185.5h2v2h-2zM612.5 185.5h2v2h-2zM613.5 186.5h2v2h-2zM614.5 186.5h2v2h-2zM616.5 181.5h2v2h-2zM617.5 181.5h2v2h-2zM618.5 182.5h2v2h-2zM619.5 183.5h2v2h-2zM620.5 182.5h2v2h-2zM621.5 183.5h2v2h-2zM622.5 184.5h2v2h-2zM623.5 183.5h2v2h-2zM625.5 184.5h2v2h-2zM626.5 185.5h2v2h-2zM627.5 184.5h2v2h-2zM628.5 185.5h2v2h-2zM629.5 185.5h2v2h-2zM630.5 186.5h2v2h-2zM631.5 186.5h2v2h-2zM632.5 188.5h2v2h-2zM634.5 182.5h2v2h-2zM635.5 181.5h2v2h-2zM636.5 182.5h2v2h-2zM637.5 183.5h2v2h-2zM638.5 183.5h2v2h-2zM639.5 183.5h2v2h-2zM640.5 183.5h2v2h-2zM641.5 184.5h2v2h-2zM643.5 184.5h2v2h-2zM644.5 184.5h2v2h-2zM645.5 184.5h2v2h-2zM646.5 186.5h2v2h-2zM647.5 185.5h2v2h-2zM648.5 185.5h2v2h-2zM649.5 186.5h2v2h-2zM650.5 188.5h2v2h-2zM652.5 183.5h2v2h-2zM653.5 181.5h2v2h-2zM654.5 182.5h2v2h-2zM655.5 183.5h2v2h-2zM656.5 183.5h2v2h-2zM657.5 183.5h2v2h-2zM658.5 183.5h2v2h-2zM659.5 183.5h2v2h-2zM661.5 185.5h2v2h-2zM662.5 185.5h2v2h-2zM663.5 184.5h2v2h-2zM664.5 185.5h2v2h-2zM665.5 185.5h2v2h-2zM666.5 185.5h2v2h-2zM667.5 186.5h2v2h-2zM669.5 188.5h2v2h-2zM670.5 181.5h2v2h-2zM671.5 182.5h2v2h-2zM672.5 183.5h2v2h-2zM673.5 183.5h2v2h-2zM674.5 183.5h2v2h-2zM675.5 184.5h2v2h-2zM676.5 183.5h2v2h-2zM678.5 184.5h2v2h-2zM679.5 184.5h2v2h-2zM680.5 184.5h2v2h-2zM681.5 185.5h2v2h-2zM682.5 187.5h2v2h-2zM683.5 185.5h2v2h-2zM684.5 186.5h2v2h-2zM685.5 187.5h2v2h-2zM687.5 187.5h2v2h-2zM688.5 183.5h2v2h-2zM689.5 182.5h2v2h-2zM690.5 184.5h2v2h-2zM691.5 183.5h2v2h-2zM692.5 183.5h2v2h-2zM693.5 184.5h2v2h-2zM694.5 184.5h2v2h-2zM696.5 184.5h2v2h-2zM697.5 186.5h2v2h-2zM698.5 185.5h2v2h-2zM699.5 184.5h2v2h-2zM700.5 186.5h2v2h-2zM701.5 185.5h2v2h-2zM702.5 186.5h2v2h-2zM703.5 187.5h2v2h-2zM705.5 188.5h2v2h-2zM706.5 183.5h2v2h-2zM707.5 184.5h2v2h-2zM708.5 183.5h2v2h-2zM709.5 183.5h2v2h-2zM710.5 184.5h2v2h-2zM711.5 185.5h2v2h-2zM712.5 185.5h2v2h-2zM714.5 184.5h2v2h-2zM715.5 184.5h2v2h-2zM716.5 185.5h2v2h-2zM717.5 185.5h2v2h-2zM718.5 185.5h2v2h-2zM719.5 186.5h2v2h-2zM720.5 186.5h2v2h-2zM721.5 186.5h2v2h-2zM723.5 188.5h2v2h-2zM724.5 183.5h2v2h-2zM725.5 183.5h2v2h-2zM726.5 183.5h2v2h-2zM727.5 183.5h2v2h-2zM728.5 184.5h2v2h-2zM729.5 185.5h2v2h-2zM730.5 184.5h2v2h-2zM732.5 185.5h2v2h-2zM733.5 184.5h2v2h-2zM734.5 185.5h2v2h-2zM735.5 186.5h2v2h-2zM736.5 186.5h2v2h-2zM737.5 186.5h2v2h-2zM738.5 186.5h2v2h-2zM739.5 187.5h2v2h-2zM741.5 188.5h2v2h-2zM742.5 184.5h2v2h-2zM743.5 184.5h2v2h-2zM744.5 183.5h2v2h-2zM745.5 184.5h2v2h-2zM746.5 184.5h2v2h-2zM747.5 184.5h2v2h-2zM748.5 185.5h2v2h-2zM750.5 185.5h2v2h-2zM751.5 185.5h2v2h-2zM752.5 186.5h2v2h-2zM753.5 186.5h2v2h-2zM754.5 185.5h2v2h-2zM755.5 186.5h2v2h-2zM756.5 186.5h2v2h-2zM757.5 188.5h2v2h-2zM759.5 188.5h2v2h-2zM760.5 183.5h2v2h-2zM761.5 183.5h2v2h-2zM762.5 184.5h2v2h-2zM763.5 184.5h2v2h-2zM764.5 184.5h2v2h-2zM765.5 184.5h2v2h-2zM766.5 185.5h2v2h-2zM768.5 186.5h2v2h-2zM769.5 186.5h2v2h-2zM770.5 186.5h2v2h-2zM771.5 186.5h2v2h-2zM772.5 186.5h2v2h-2zM773.5 187.5h2v2h-2zM774.5 186.5h2v2h-2zM775.5 186.5h2v2h-2zM777.5 189.5h2v2h-2zM778.5 184.5h2v2h-2zM779.5 184.5h2v2h-2zM780.5 184.5h2v2h-2zM781.5 185.5h2v2h-2zM782.5 184.5h2v2h-2zM783.5 184.5h2v2h-2zM784.5 185.5h2v2h-2zM786.5 186.5h2v2h-2zM787.5 185.5h2v2h-2zM788.5 187.5h2v2h-2zM789.5 186.5h2v2h-2zM790.5 187.5h2v2h-2zM791.5 187.5h2v2h-2zM792.5 187.5h2v2h-2zM794.5 187.5h2v2h-2zM795.5 188.5h2v2h-2zM796.5 184.5h2v2h-2zM797.5 184.5h2v2h-2zM798.5 184.5h2v2h-2zM799.5 185.5h2v2h-2zM800.5 185.5h2v2h-2zM801.5 186.5h2v2h-2zM803.5 186.5h2v2h-2zM804.5 185.5h2v2h-2zM805.5 186.5h2v2h-2zM806.5 186.5h2v2h-2zM807.5 187.5h2v2h-2zM808.5 187.5h2v2h-2zM809.5 187.5h2v2h-2zM810.5 188.5h2v2h-2zM812.5 186.5h2v2h-2zM813.5 189.5h2v2h-2zM814.5 184.5h2v2h-2zM815.5 186.5h2v2h-2zM816.5 184.5h2v2h-2zM817.5 185.5h2v2h-2zM818.5 185.5h2v2h-2zM819.5 185.5h2v2h-2zM821.5 185.5h2v2h-2zM822.5 186.5h2v2h-2zM823.5 186.5h2v2h-2zM824.5 186.5h2v2h-2zM825.5 186.5h2v2h-2zM826.5 187.5h2v2h-2zM827.5 187.5h2v2h-2zM828.5 187.5h2v2h-2zM830.5 187.5h2v2h-2zM831.5 189.5h2v2h-2zM832.5 184.5h2v2h-2zM833.5 185.5h2v2h-2zM834.5 185.5h2v2h-2zM835.5 185.5h2v2h-2zM836.5 186.5h2v2h-2zM837.5 185.5h2v2h-2zM839.5 185.5h2v2h-2zM840.5 186.5h2v2h-2zM841.5 186.5h2v2h-2zM842.5 186.5h2v2h-2zM843.5 187.5h2v2h-2zM844.5 187.5h2v2h-2zM845.5 186.5h2v2h-2zM846.5 187.5h2v2h-2zM848.5 188.5h2v2h-2zM849.5 190.5h2v2h-2zM850.5 185.5h2v2h-2zM851.5 185.5h2v2h-2zM852.5 184.5h2v2h-2zM853.5 186.5h2v2h-2zM854.5 185.5h2v2h-2zM855.5 186.5h2v2h-2zM857.5 186.5h2v2h-2zM858.5 186.5h2v2h-2zM859.5 187.5h2v2h-2zM860.5 186.5h2v2h-2zM861.5 187.5h2v2h-2zM862.5 187.5h2v2h-2zM863.5 187.5h2v2h-2zM864.5 187.5h2v2h-2zM866.5 187.5h2v2h-2zM867.5 189.5h2v2h-2zM868.5 184.5h2v2h-2zM869.5 185.5h2v2h-2zM870.5 185.5h2v2h-2zM871.5 185.5h2v2h-2zM872.5 186.5h2v2h-2zM873.5 186.5h2v2h-2zM875.5 187.5h2v2h-2zM876.5 186.5h2v2h-2zM877.5 186.5h2v2h-2zM878.5 187.5h2v2h-2zM879.5 187.5h2v2h-2zM880.5 187.5h2v2h-2zM881.5 187.5h2v2h-2zM882.5 188.5h2v2h-2zM884.5 188.5h2v2h-2zM885.5 189.5h2v2h-2zM886.5 186.5h2v2h-2zM887.5 185.5h2v2h-2zM888.5 185.5h2v2h-2zM889.5 186.5h2v2h-2zM890.5 186.5h2v2h-2zM891.5 185.5h2v2h-2zM893.5 186.5h2v2h-2zM894.5 186.5h2v2h-2zM895.5 186.5h2v2h-2zM896.5 187.5h2v2h-2zM897.5 187.5h2v2h-2zM898.5 187.5h2v2h-2zM899.5 188.5h2v2h-2zM900.5 187.5h2v2h-2zM902.5 188.5h2v2h-2zM903.5 188.5h2v2h-2zM904.5 185.5h2v2h-2zM905.5 185.5h2v2h-2zM906.5 185.5h2v2h-2zM907.5 186.5h2v2h-2zM908.5 187.5h2v2h-2zM910.5 186.5h2v2h-2zM911.5 187.5h2v2h-2zM912.5 186.5h2v2h-2zM913.5 186.5h2v2h-2zM914.5 187.5h2v2h-2zM915.5 187.5h2v2h-2zM916.5 188.5h2v2h-2zM917.5 189.5h2v2h-2zM919.5 187.5h2v2h-2zM920.5 187.5h2v2h-2zM921.5 188.5h2v2h-2zM922.5 185.5h2v2h-2zM923.5 186.5h2v2h-2zM924.5 185.5h2v2h-2zM925.5 186.5h2v2h-2zM926.5 186.5h2v2h-2zM928.5 186.5h2v2h-2zM929.5 187.5h2v2h-2zM930.5 186.5h2v2h-2zM931.5 187.5h2v2h-2zM932.5 188.5h2v2h-2zM933.5 187.5h2v2h-2zM934.5 188.5h2v2h-2zM935.5 188.5h2v2h-2zM937.5 188.5h2v2h-2zM938.5 189.5h2v2h-2zM939.5 188.5h2v2h-2zM940.5 186.5h2v2h-2zM941.5 185.5h2v2h-2zM942.5 185.5h2v2h-2zM943.5 186.5h2v2h-2zM944.5 187.5h2v2h-2zM946.5 187.5h2v2h-2zM947.5 187.5h2v2h-2zM948.5 187.5h2v2h-2zM949.5 187.5h2v2h-2zM950.5 188.5h2v2h-2zM951.5 187.5h2v2h-2zM952.5 187.5h2v2h-2zM953.5 188.5h2v2h-2zM955.5 188.5h2v2h-2zM956.5 188.5h2v2h-2zM957.5 189.5h2v2h-2zM958.5 184.5h2v2h-2zM959.5 186.5h2v2h-2zM960.5 186.5h2v2h-2zM961.5 186.5h2v2h-2zM962.5 187.5h2v2h-2zM964.5 187.5h2v2h-2zM965.5 187.5h2v2h-2zM966.5 187.5h2v2h-2zM967.5 186.5h2v2h-2zM968.5 188.5h2v2h-2zM969.5 188.5h2v2h-2zM970.5 188.5h2v2h-2zM971.5 188.5h2v2h-2zM973.5 189.5h2v2h-2zM974.5 189.5h2v2h-2zM975.5 188.5h2v2h-2zM976.5 186.5h2v2h-2zM977.5 185.5h2v2h-2zM978.5 186.5h2v2h-2zM979.5 187.5h2v2h-2zM980.5 186.5h2v2h-2zM982.5 186.5h2v2h-2zM983.5 187.5h2v2h-2zM984.5 187.5h2v2h-2zM985.5 187.5h2v2h-2zM986.5 188.5h2v2h-2zM987.5 188.5h2v2h-2zM988.5 187.5h2v2h-2zM989.5 188.5h2v2h-2zM991.5 188.5h2v2h-2zM992.5 189.5h2v2h-2zM993.5 189.5h2v2h-2zM994.5 185.5h2v2h-2zM995.5 187.5h2v2h-2zM996.5 186.5h2v2h-2zM997.5 187.5h2v2h-2zM998.5 187.5h2v2h-2zM1000.5 186.5h2v2h-2zM1001.5 186.5h2v2h-2zM1002.5 188.5h2v2h-2zM1003.5 187.5h2v2h-2zM1004.5 189.5h2v2h-2zM1005.5 188.5h2v2h-2zM1006.5 188.5h2v2h-2zM1007.5 187.5h2v2h-2zM1009.5 189.5h2v2h-2zM1010.5 189.5h2v2h-2zM1011.5 190.5h2v2h-2zM1012.5 185.5h2v2h-2zM1013.5 187.5h2v2h-2zM1014.5 186.5h2v2h-2zM1015.5 187.5h2v2h-2zM1016.5 186.5h2v2h-2zM1018.5 187.5h2v2h-2zM1019.5 188.5h2v2h-2zM1020.5 187.5h2v2h-2zM1021.5 188.5h2v2h-2zM1022.5 188.5h2v2h-2zM1023.5 188.5h2v2h-2zM1024.5 187.5h2v2h-2zM1025.5 187.5h2v2h-2zM1027.5 188.5h2v2h-2zM1028.5 188.5h2v2h-2zM1029.5 190.5h2v2h-2zM1030.5 185.5h2v2h-2zM1031.5 187.5h2v2h-2zM1032.5 187.5h2v2h-2zM1033.5 186.5h2v2h-2zM1035.5 187.5h2v2h-2zM1036.5 187.5h2v2h-2zM1037.5 187.5h2v2h-2zM1038.5 187.5h2v2h-2zM1039.5 187.5h2v2h-2zM1040.5 188.5h2v2h-2zM1041.5 188.5h2v2h-2zM1042.5 188.5h2v2h-2zM1044.5 188.5h2v2h-2zM1045.5 189.5h2v2h-2zM1046.5 189.5h2v2h-2zM1047.5 189.5h2v2h-2zM1048.5 186.5h2v2h-2zM1049.5 187.5h2v2h-2zM1050.5 186.5h2v2h-2zM1051.5 186.5h2v2h-2zM1053.5 187.5h2v2h-2zM1054.5 186.5h2v2h-2zM1055.5 187.5h2v2h-2zM1056.5 187.5h2v2h-2zM1057.5 187.5h2v2h-2zM1058.5 187.5h2v2h-2zM1059.5 189.5h2v2h-2zM1060.5 188.5h2v2h-2zM1062.5 188.5h2v2h-2zM1063.5 189.5h2v2h-2zM1064.5 190.5h2v2h-2zM1065.5 190.5h2v2h-2zM1066.5 187.5h2v2h-2zM1067.5 187.5h2v2h-2zM1068.5 187.5h2v2h-2zM1069.5 188.5h2v2h-2zM1071.5 187.5h2v2h-2zM1072.5 187.5h2v2h-2zM1073.5 188.5h2v2h-2zM1074.5 188.5h2v2h-2zM1075.5 188.5h2v2h-2zM1076.5 189.5h2v2h-2zM1077.5 188.5h2v2h-2zM1078.5 187.5h2v2h-2zM1080.5 188.5h2v2h-2zM1081.5 189.5h2v2h-2zM1082.5 189.5h2v2h-2zM1083.5 189.5h2v2h-2zM1084.5 186.5h2v2h-2zM1085.5 186.5h2v2h-2zM1086.5 188.5h2v2h-2zM1087.5 187.5h2v2h-2zM1089.5 187.5h2v2h-2zM1090.5 187.5h2v2h-2zM1091.5 188.5h2v2h-2zM1092.5 187.5h2v2h-2zM1093.5 188.5h2v2h-2zM1094.5 189.5h2v2h-2zM1095.5 189.5h2v2h-2zM1096.5 189.5h2v2h-2zM1098.5 189.5h2v2h-2zM1099.5 189.5h2v2h-2zM1100.5 188.5h2v2h-2zM1101.5 190.5h2v2h-2zM1102.5 187.5h2v2h-2zM1103.5 187.5h2v2h-2zM1104.5 187.5h2v2h-2zM1105.5 187.5h2v2h-2zM1107.5 186.5h2v2h-2zM1108.5 187.5h2v2h-2zM1109.5 188.5h2v2h-2zM1110.5 188.5h2v2h-2zM1111.5 188.5h2v2h-2zM1112.5 188.5h2v2h-2zM1113.5 189.5h2v2h-2zM1114.5 188.5h2v2h-2zM1116.5 188.5h2v2h-2zM1117.5 189.5h2v2h-2zM1118.5 190.5h2v2h-2zM1119.5 189.5h2v2h-2zM1120.5 186.5h2v2h-2zM1121.5 187.5h2v2h-2zM1122.5 188.5h2v2h-2zM1123.5 187.5h2v2h-2zM1125.5 188.5h2v2h-2zM1126.5 189.5h2v2h-2zM1127.5 188.5h2v2h-2zM1128.5 187.5h2v2h-2zM1129.5 188.5h2v2h-2zM1130.5 188.5h2v2h-2zM1131.5 188.5h2v2h-2zM1132.5 188.5h2v2h-2zM1134.5 189.5h2v2h-2zM1135.5 190.5h2v2h-2zM1136.5 189.5h2v2h-2zM1137.5 189.5h2v2h-2zM1138.5 187.5h2v2h-2zM1139.5 187.5h2v2h-2zM1140.5 187.5h2v2h-2zM1141.5 187.5h2v2h-2zM1143.5 188.5h2v2h-2zM1144.5 188.5h2v2h-2zM1145.5 188.5h2v2h-2zM1146.5 188.5h2v2h-2zM1147.5 189.5h2v2h-2zM1148.5 188.5h2v2h-2zM1149.5 188.5h2v2h-2zM1150.5 187.5h2v2h-2zM1152.5 190.5h2v2h-2zM1153.5 189.5h2v2h-2zM1154.5 190.5h2v2h-2zM1155.5 190.5h2v2h-2zM1156.5 187.5h2v2h-2zM1157.5 187.5h2v2h-2zM1158.5 187.5h2v2h-2zM1160.5 188.5h2v2h-2zM1161.5 187.5h2v2h-2zM1162.5 187.5h2v2h-2zM1163.5 189.5h2v2h-2zM1164.5 188.5h2v2h-2zM1165.5 188.5h2v2h-2zM1166.5 189.5h2v2h-2zM1167.5 189.5h2v2h-2zM1169.5 188.5h2v2h-2zM1170.5 189.5h2v2h-2zM1171.5 189.5h2v2h-2zM1172.5 190.5h2v2h-2zM1173.5 189.5h2v2h-2zM1174.5 187.5h2v2h-2zM1175.5 187.5h2v2h-2zM1176.5 188.5h2v2h-2zM1178.5 187.5h2v2h-2zM1179.5 188.5h2v2h-2zM1180.5 189.5h2v2h-2zM1181.5 188.5h2v2h-2zM1182.5 189.5h2v2h-2z" fill="none" stroke="#f00" stroke-width="1" shape-rendering="crispEdges"/>
<g filter="url(#bin)">
<text class="ttl" x="617.6" y="56.8" text-anchor="middle">sparc.64.ssl</text>
<text class="ttl" x="617.6" y="92" text-anchor="middle">Time</text>
<text class="lg" x="904" y="43.7" fill="#f00" stroke="#f00">CCM</text>
<text class="lg" x="904" y="67.9" fill="#00f" stroke="#00f">GCM-256</text>
<text class="lg" x="904" y="92" fill="#000" stroke="#000">OCB</text>
</g>
</svg>
</body></html>
